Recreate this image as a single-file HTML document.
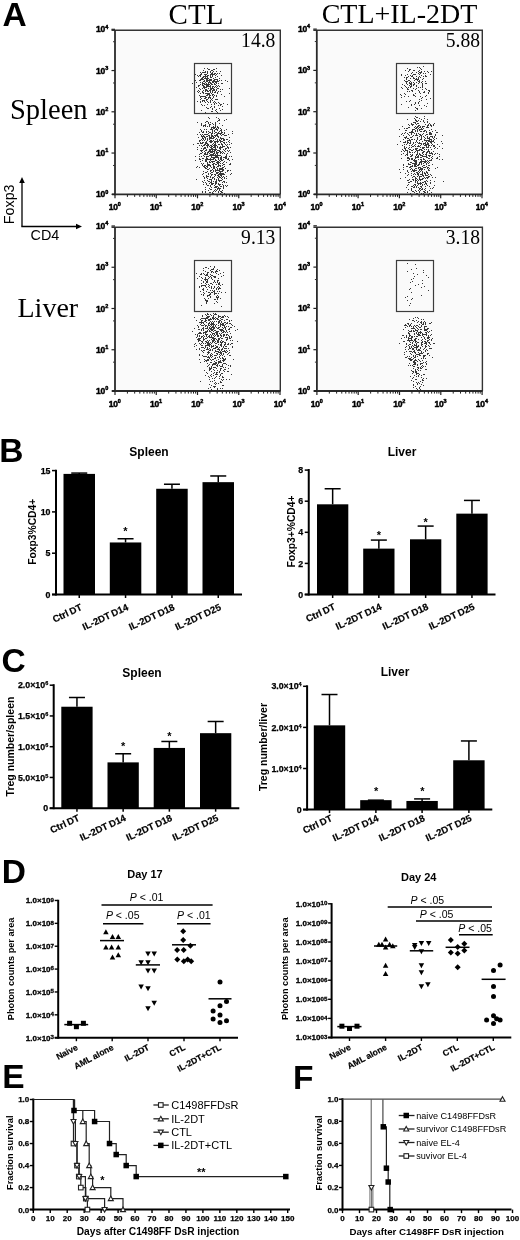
<!DOCTYPE html>
<html><head><meta charset="utf-8"><style>
html,body{margin:0;padding:0;background:#fff;}
body{width:520px;height:1240px;overflow:hidden;}
svg{display:block;will-change:transform;}
</style></head><body>
<svg width="520" height="1240" viewBox="0 0 520 1240">
<rect width="520" height="1240" fill="#fff"/>
<text x="2.60" y="26.00" font-family="Liberation Sans" font-size="33.5" font-weight="bold" text-anchor="start" fill="#000" >A</text>
<text x="196.00" y="24.30" font-family="Liberation Serif" font-size="29" text-anchor="middle" fill="#000" >CTL</text>
<text x="399.50" y="23.40" font-family="Liberation Serif" font-size="28" text-anchor="middle" fill="#000" >CTL+IL-2DT</text>
<text x="10.00" y="119.00" font-family="Liberation Serif" font-size="28.5" text-anchor="start" fill="#000" >Spleen</text>
<text x="17.50" y="317.30" font-family="Liberation Serif" font-size="28" text-anchor="start" fill="#000" >Liver</text>
<line x1="22.00" y1="181.00" x2="22.00" y2="226.50" stroke="#000" stroke-width="1.3" />
<line x1="21.35" y1="226.50" x2="78.00" y2="226.50" stroke="#000" stroke-width="1.3" />
<path d="M22 177 L19.2 183 L24.8 183 Z" fill="#000"/>
<path d="M82 226.5 L76 223.7 L76 229.3 Z" fill="#000"/>
<text x="14.00" y="204.30" font-family="Liberation Sans" font-size="14.3" text-anchor="middle" fill="#000" transform="rotate(-90 14 204.3)">Foxp3</text>
<text x="30.50" y="239.50" font-family="Liberation Sans" font-size="14.4" text-anchor="start" fill="#000" >CD4</text>
<rect x="115.00" y="30.00" width="165.00" height="164.30" fill="#fafafa" />
<path d="M111.5 30.2 H280.3 V194.3" fill="none" stroke="#333" stroke-width="1.4"/>
<path d="M214 69h1v1h-1zM209 69h1v1h-1zM212 70h1v1h-1zM203 70h1v1h-1zM211 70h1v1h-1zM210 71h1v1h-1zM213 71h1v1h-1zM220 71h1v1h-1zM205 71h1v1h-1zM216 71h1v1h-1zM204 72h1v1h-1zM205 72h1v1h-1zM207 72h1v1h-1zM205 72h1v1h-1zM203 72h1v1h-1zM202 72h1v1h-1zM212 72h1v1h-1zM217 73h1v1h-1zM217 73h1v1h-1zM215 73h1v1h-1zM215 73h1v1h-1zM214 73h1v1h-1zM211 73h1v1h-1zM219 73h1v1h-1zM212 73h1v1h-1zM201 73h1v1h-1zM213 74h1v1h-1zM211 74h1v1h-1zM212 74h1v1h-1zM206 74h1v1h-1zM210 74h1v1h-1zM204 74h1v1h-1zM210 74h1v1h-1zM213 74h1v1h-1zM216 74h1v1h-1zM201 74h1v1h-1zM214 74h1v1h-1zM215 75h1v1h-1zM197 75h1v1h-1zM210 75h1v1h-1zM208 75h1v1h-1zM221 75h1v1h-1zM200 75h1v1h-1zM212 75h1v1h-1zM215 75h1v1h-1zM207 75h1v1h-1zM212 75h1v1h-1zM212 75h1v1h-1zM206 76h1v1h-1zM206 76h1v1h-1zM207 76h1v1h-1zM205 76h1v1h-1zM200 76h1v1h-1zM212 76h1v1h-1zM217 76h1v1h-1zM210 76h1v1h-1zM206 76h1v1h-1zM198 76h1v1h-1zM204 76h1v1h-1zM202 77h1v1h-1zM211 77h1v1h-1zM203 77h1v1h-1zM210 77h1v1h-1zM215 77h1v1h-1zM207 77h1v1h-1zM202 77h1v1h-1zM205 77h1v1h-1zM202 77h1v1h-1zM215 77h1v1h-1zM211 77h1v1h-1zM201 78h1v1h-1zM213 78h1v1h-1zM201 78h1v1h-1zM206 78h1v1h-1zM208 78h1v1h-1zM208 78h1v1h-1zM202 78h1v1h-1zM208 78h1v1h-1zM205 78h1v1h-1zM204 78h1v1h-1zM219 78h1v1h-1zM203 79h1v1h-1zM217 79h1v1h-1zM201 79h1v1h-1zM200 79h1v1h-1zM214 79h1v1h-1zM216 79h1v1h-1zM215 79h1v1h-1zM217 79h1v1h-1zM203 79h1v1h-1zM207 79h1v1h-1zM211 79h1v1h-1zM200 80h1v1h-1zM207 80h1v1h-1zM209 80h1v1h-1zM195 80h1v1h-1zM199 80h1v1h-1zM221 80h1v1h-1zM206 80h1v1h-1zM219 80h1v1h-1zM214 80h1v1h-1zM217 80h1v1h-1zM210 80h1v1h-1zM213 80h1v1h-1zM204 81h1v1h-1zM212 81h1v1h-1zM212 81h1v1h-1zM203 81h1v1h-1zM207 81h1v1h-1zM214 81h1v1h-1zM218 81h1v1h-1zM203 81h1v1h-1zM204 81h1v1h-1zM216 81h1v1h-1zM213 81h1v1h-1zM217 81h1v1h-1zM210 82h1v1h-1zM205 82h1v1h-1zM210 82h1v1h-1zM205 82h1v1h-1zM205 82h1v1h-1zM194 82h1v1h-1zM213 82h1v1h-1zM216 82h1v1h-1zM200 82h1v1h-1zM215 82h1v1h-1zM202 82h1v1h-1zM215 82h1v1h-1zM211 83h1v1h-1zM221 83h1v1h-1zM204 83h1v1h-1zM204 83h1v1h-1zM211 83h1v1h-1zM218 83h1v1h-1zM202 83h1v1h-1zM203 83h1v1h-1zM206 83h1v1h-1zM214 83h1v1h-1zM202 83h1v1h-1zM221 83h1v1h-1zM211 84h1v1h-1zM207 84h1v1h-1zM204 84h1v1h-1zM205 84h1v1h-1zM214 84h1v1h-1zM212 84h1v1h-1zM215 84h1v1h-1zM206 84h1v1h-1zM208 84h1v1h-1zM200 84h1v1h-1zM202 84h1v1h-1zM209 84h1v1h-1zM199 85h1v1h-1zM210 85h1v1h-1zM203 85h1v1h-1zM206 85h1v1h-1zM208 85h1v1h-1zM202 85h1v1h-1zM208 85h1v1h-1zM216 85h1v1h-1zM203 85h1v1h-1zM207 85h1v1h-1zM207 85h1v1h-1zM218 85h1v1h-1zM219 86h1v1h-1zM204 86h1v1h-1zM208 86h1v1h-1zM213 86h1v1h-1zM215 86h1v1h-1zM198 86h1v1h-1zM209 86h1v1h-1zM215 86h1v1h-1zM210 86h1v1h-1zM217 86h1v1h-1zM204 86h1v1h-1zM206 86h1v1h-1zM205 87h1v1h-1zM212 87h1v1h-1zM206 87h1v1h-1zM205 87h1v1h-1zM203 87h1v1h-1zM216 87h1v1h-1zM203 87h1v1h-1zM205 87h1v1h-1zM196 87h1v1h-1zM210 87h1v1h-1zM205 87h1v1h-1zM204 88h1v1h-1zM208 88h1v1h-1zM212 88h1v1h-1zM218 88h1v1h-1zM210 88h1v1h-1zM202 88h1v1h-1zM217 88h1v1h-1zM202 88h1v1h-1zM199 88h1v1h-1zM213 88h1v1h-1zM210 88h1v1h-1zM214 89h1v1h-1zM213 89h1v1h-1zM211 89h1v1h-1zM205 89h1v1h-1zM210 89h1v1h-1zM211 89h1v1h-1zM211 89h1v1h-1zM205 89h1v1h-1zM220 89h1v1h-1zM216 89h1v1h-1zM210 90h1v1h-1zM198 90h1v1h-1zM216 90h1v1h-1zM209 90h1v1h-1zM214 90h1v1h-1zM203 90h1v1h-1zM213 90h1v1h-1zM206 90h1v1h-1zM207 90h1v1h-1zM198 90h1v1h-1zM208 91h1v1h-1zM205 91h1v1h-1zM215 91h1v1h-1zM207 91h1v1h-1zM197 91h1v1h-1zM212 91h1v1h-1zM202 91h1v1h-1zM207 91h1v1h-1zM210 91h1v1h-1zM218 91h1v1h-1zM215 92h1v1h-1zM215 92h1v1h-1zM212 92h1v1h-1zM203 92h1v1h-1zM202 92h1v1h-1zM212 92h1v1h-1zM214 92h1v1h-1zM217 92h1v1h-1zM198 92h1v1h-1zM209 93h1v1h-1zM206 93h1v1h-1zM208 93h1v1h-1zM207 93h1v1h-1zM217 93h1v1h-1zM209 93h1v1h-1zM207 93h1v1h-1zM205 93h1v1h-1zM211 93h1v1h-1zM207 94h1v1h-1zM208 94h1v1h-1zM212 94h1v1h-1zM221 94h1v1h-1zM207 94h1v1h-1zM213 94h1v1h-1zM209 94h1v1h-1zM208 94h1v1h-1zM212 95h1v1h-1zM214 95h1v1h-1zM209 95h1v1h-1zM212 95h1v1h-1zM210 95h1v1h-1zM210 95h1v1h-1zM216 95h1v1h-1zM214 95h1v1h-1zM213 96h1v1h-1zM203 96h1v1h-1zM216 96h1v1h-1zM200 96h1v1h-1zM213 96h1v1h-1zM201 96h1v1h-1zM209 96h1v1h-1zM204 96h1v1h-1zM194 97h1v1h-1zM213 97h1v1h-1zM206 97h1v1h-1zM200 97h1v1h-1zM205 97h1v1h-1zM200 97h1v1h-1zM213 97h1v1h-1zM209 97h1v1h-1zM201 98h1v1h-1zM212 98h1v1h-1zM204 98h1v1h-1zM210 98h1v1h-1zM205 98h1v1h-1zM201 98h1v1h-1zM208 98h1v1h-1zM200 99h1v1h-1zM216 99h1v1h-1zM207 99h1v1h-1zM215 99h1v1h-1zM211 99h1v1h-1zM206 99h1v1h-1zM217 99h1v1h-1zM212 100h1v1h-1zM206 100h1v1h-1zM203 100h1v1h-1zM212 100h1v1h-1zM204 100h1v1h-1zM202 100h1v1h-1zM207 101h1v1h-1zM204 101h1v1h-1zM197 101h1v1h-1zM202 101h1v1h-1zM200 101h1v1h-1zM214 101h1v1h-1zM210 101h1v1h-1zM218 102h1v1h-1zM200 102h1v1h-1zM210 102h1v1h-1zM205 102h1v1h-1zM215 102h1v1h-1zM213 102h1v1h-1zM216 103h1v1h-1zM219 103h1v1h-1zM216 103h1v1h-1zM216 103h1v1h-1zM214 103h1v1h-1zM214 103h1v1h-1zM207 104h1v1h-1zM220 104h1v1h-1zM214 104h1v1h-1zM201 104h1v1h-1zM211 104h1v1h-1zM220 105h1v1h-1zM218 105h1v1h-1zM202 105h1v1h-1zM204 105h1v1h-1zM214 106h1v1h-1zM214 106h1v1h-1zM211 106h1v1h-1zM222 106h1v1h-1zM214 106h1v1h-1zM214 107h1v1h-1zM206 107h1v1h-1zM210 107h1v1h-1zM207 108h1v1h-1zM219 108h1v1h-1zM208 108h1v1h-1zM212 108h1v1h-1zM216 109h1v1h-1zM212 109h1v1h-1zM222 109h1v1h-1zM201 110h1v1h-1zM215 110h1v1h-1zM220 110h1v1h-1zM211 111h1v1h-1zM211 111h1v1h-1zM216 111h1v1h-1zM205 112h1v1h-1zM217 112h1v1h-1zM210 100h1v1h-1zM207 72h1v1h-1zM223 103h1v1h-1zM225 80h1v1h-1zM211 77h1v1h-1zM215 81h1v1h-1zM208 102h1v1h-1zM229 93h1v1h-1zM200 96h1v1h-1zM212 111h1v1h-1zM221 104h1v1h-1zM220 91h1v1h-1zM227 104h1v1h-1zM207 73h1v1h-1zM209 90h1v1h-1zM200 82h1v1h-1zM216 68h1v1h-1zM224 96h1v1h-1zM207 80h1v1h-1zM209 81h1v1h-1zM222 89h1v1h-1zM214 73h1v1h-1zM227 81h1v1h-1zM208 69h1v1h-1zM229 88h1v1h-1zM208 97h1v1h-1zM202 96h1v1h-1zM205 97h1v1h-1zM202 84h1v1h-1zM205 74h1v1h-1zM206 95h1v1h-1zM207 80h1v1h-1zM200 72h1v1h-1zM215 79h1v1h-1zM210 79h1v1h-1zM206 89h1v1h-1zM213 69h1v1h-1zM203 86h1v1h-1zM211 83h1v1h-1zM206 90h1v1h-1zM210 83h1v1h-1zM209 82h1v1h-1zM213 80h1v1h-1zM207 95h1v1h-1zM211 80h1v1h-1zM205 84h1v1h-1zM206 74h1v1h-1zM213 82h1v1h-1zM203 90h1v1h-1zM203 93h1v1h-1zM200 74h1v1h-1zM204 86h1v1h-1zM200 93h1v1h-1zM192 83h1v1h-1zM210 83h1v1h-1zM199 75h1v1h-1zM207 71h1v1h-1zM212 86h1v1h-1zM201 96h1v1h-1zM209 79h1v1h-1zM208 80h1v1h-1zM214 87h1v1h-1zM207 78h1v1h-1zM216 83h1v1h-1zM195 74h1v1h-1zM205 75h1v1h-1zM205 71h1v1h-1zM205 90h1v1h-1zM206 79h1v1h-1zM204 80h1v1h-1zM212 75h1v1h-1zM204 87h1v1h-1zM207 68h1v1h-1zM196 82h1v1h-1zM201 78h1v1h-1zM210 97h1v1h-1zM203 76h1v1h-1zM199 95h1v1h-1zM203 77h1v1h-1zM210 85h1v1h-1zM203 83h1v1h-1zM202 79h1v1h-1zM211 88h1v1h-1zM210 82h1v1h-1zM207 86h1v1h-1zM210 89h1v1h-1zM202 77h1v1h-1zM222 83h1v1h-1zM212 82h1v1h-1zM200 72h1v1h-1zM210 72h1v1h-1zM208 82h1v1h-1zM205 96h1v1h-1zM216 83h1v1h-1zM208 83h1v1h-1zM212 90h1v1h-1zM206 81h1v1h-1zM199 91h1v1h-1zM210 92h1v1h-1zM207 77h1v1h-1zM206 100h1v1h-1zM203 90h1v1h-1zM210 74h1v1h-1zM210 87h1v1h-1zM209 82h1v1h-1zM212 87h1v1h-1zM198 85h1v1h-1zM200 89h1v1h-1zM209 80h1v1h-1zM204 68h1v1h-1zM207 93h1v1h-1zM213 88h1v1h-1zM210 87h1v1h-1zM205 76h1v1h-1zM206 100h1v1h-1zM208 117h1v1h-1zM216 117h1v1h-1zM209 118h1v1h-1zM218 118h1v1h-1zM219 119h1v1h-1zM219 119h1v1h-1zM219 120h1v1h-1zM218 120h1v1h-1zM218 120h1v1h-1zM207 121h1v1h-1zM217 121h1v1h-1zM217 121h1v1h-1zM206 121h1v1h-1zM208 122h1v1h-1zM205 122h1v1h-1zM208 122h1v1h-1zM215 122h1v1h-1zM210 122h1v1h-1zM201 123h1v1h-1zM208 123h1v1h-1zM215 123h1v1h-1zM219 123h1v1h-1zM212 123h1v1h-1zM205 124h1v1h-1zM215 124h1v1h-1zM213 124h1v1h-1zM205 124h1v1h-1zM201 124h1v1h-1zM209 124h1v1h-1zM205 124h1v1h-1zM204 125h1v1h-1zM203 125h1v1h-1zM201 125h1v1h-1zM215 125h1v1h-1zM209 125h1v1h-1zM205 125h1v1h-1zM222 125h1v1h-1zM203 126h1v1h-1zM207 126h1v1h-1zM209 126h1v1h-1zM205 126h1v1h-1zM215 126h1v1h-1zM205 126h1v1h-1zM217 126h1v1h-1zM213 126h1v1h-1zM211 127h1v1h-1zM217 127h1v1h-1zM218 127h1v1h-1zM215 127h1v1h-1zM212 127h1v1h-1zM213 127h1v1h-1zM214 127h1v1h-1zM211 127h1v1h-1zM214 128h1v1h-1zM213 128h1v1h-1zM214 128h1v1h-1zM216 128h1v1h-1zM211 128h1v1h-1zM211 128h1v1h-1zM213 128h1v1h-1zM220 128h1v1h-1zM218 128h1v1h-1zM217 129h1v1h-1zM206 129h1v1h-1zM221 129h1v1h-1zM210 129h1v1h-1zM204 129h1v1h-1zM226 129h1v1h-1zM216 129h1v1h-1zM215 129h1v1h-1zM211 129h1v1h-1zM220 130h1v1h-1zM224 130h1v1h-1zM221 130h1v1h-1zM212 130h1v1h-1zM217 130h1v1h-1zM217 130h1v1h-1zM214 130h1v1h-1zM214 130h1v1h-1zM201 130h1v1h-1zM201 131h1v1h-1zM203 131h1v1h-1zM214 131h1v1h-1zM208 131h1v1h-1zM232 131h1v1h-1zM219 131h1v1h-1zM201 131h1v1h-1zM221 131h1v1h-1zM214 131h1v1h-1zM206 131h1v1h-1zM215 132h1v1h-1zM203 132h1v1h-1zM210 132h1v1h-1zM199 132h1v1h-1zM209 132h1v1h-1zM216 132h1v1h-1zM218 132h1v1h-1zM218 132h1v1h-1zM224 132h1v1h-1zM202 132h1v1h-1zM206 132h1v1h-1zM232 133h1v1h-1zM211 133h1v1h-1zM224 133h1v1h-1zM208 133h1v1h-1zM214 133h1v1h-1zM219 133h1v1h-1zM208 133h1v1h-1zM221 133h1v1h-1zM220 133h1v1h-1zM218 133h1v1h-1zM221 133h1v1h-1zM207 134h1v1h-1zM204 134h1v1h-1zM205 134h1v1h-1zM217 134h1v1h-1zM202 134h1v1h-1zM211 134h1v1h-1zM223 134h1v1h-1zM197 134h1v1h-1zM222 134h1v1h-1zM220 134h1v1h-1zM200 134h1v1h-1zM228 134h1v1h-1zM208 135h1v1h-1zM208 135h1v1h-1zM217 135h1v1h-1zM201 135h1v1h-1zM209 135h1v1h-1zM226 135h1v1h-1zM216 135h1v1h-1zM215 135h1v1h-1zM203 135h1v1h-1zM224 135h1v1h-1zM214 135h1v1h-1zM212 135h1v1h-1zM203 136h1v1h-1zM203 136h1v1h-1zM206 136h1v1h-1zM202 136h1v1h-1zM213 136h1v1h-1zM204 136h1v1h-1zM212 136h1v1h-1zM213 136h1v1h-1zM213 136h1v1h-1zM207 136h1v1h-1zM201 136h1v1h-1zM218 136h1v1h-1zM214 137h1v1h-1zM210 137h1v1h-1zM211 137h1v1h-1zM205 137h1v1h-1zM204 137h1v1h-1zM209 137h1v1h-1zM220 137h1v1h-1zM198 137h1v1h-1zM218 137h1v1h-1zM213 137h1v1h-1zM218 137h1v1h-1zM202 137h1v1h-1zM218 137h1v1h-1zM216 138h1v1h-1zM213 138h1v1h-1zM202 138h1v1h-1zM211 138h1v1h-1zM221 138h1v1h-1zM222 138h1v1h-1zM205 138h1v1h-1zM211 138h1v1h-1zM203 138h1v1h-1zM210 138h1v1h-1zM209 138h1v1h-1zM212 138h1v1h-1zM220 138h1v1h-1zM223 138h1v1h-1zM226 139h1v1h-1zM201 139h1v1h-1zM221 139h1v1h-1zM203 139h1v1h-1zM219 139h1v1h-1zM224 139h1v1h-1zM215 139h1v1h-1zM209 139h1v1h-1zM219 139h1v1h-1zM203 139h1v1h-1zM205 139h1v1h-1zM209 139h1v1h-1zM215 139h1v1h-1zM223 139h1v1h-1zM217 139h1v1h-1zM220 140h1v1h-1zM211 140h1v1h-1zM224 140h1v1h-1zM199 140h1v1h-1zM199 140h1v1h-1zM207 140h1v1h-1zM220 140h1v1h-1zM229 140h1v1h-1zM204 140h1v1h-1zM202 140h1v1h-1zM219 140h1v1h-1zM200 140h1v1h-1zM204 140h1v1h-1zM217 140h1v1h-1zM213 140h1v1h-1zM217 141h1v1h-1zM206 141h1v1h-1zM206 141h1v1h-1zM199 141h1v1h-1zM220 141h1v1h-1zM210 141h1v1h-1zM228 141h1v1h-1zM210 141h1v1h-1zM214 141h1v1h-1zM222 141h1v1h-1zM218 141h1v1h-1zM209 141h1v1h-1zM215 141h1v1h-1zM217 141h1v1h-1zM221 141h1v1h-1zM228 141h1v1h-1zM217 142h1v1h-1zM215 142h1v1h-1zM202 142h1v1h-1zM224 142h1v1h-1zM205 142h1v1h-1zM220 142h1v1h-1zM210 142h1v1h-1zM223 142h1v1h-1zM205 142h1v1h-1zM200 142h1v1h-1zM203 142h1v1h-1zM226 142h1v1h-1zM206 142h1v1h-1zM215 142h1v1h-1zM229 142h1v1h-1zM200 143h1v1h-1zM197 143h1v1h-1zM202 143h1v1h-1zM221 143h1v1h-1zM215 143h1v1h-1zM206 143h1v1h-1zM215 143h1v1h-1zM201 143h1v1h-1zM213 143h1v1h-1zM205 143h1v1h-1zM224 143h1v1h-1zM215 143h1v1h-1zM215 143h1v1h-1zM198 143h1v1h-1zM231 143h1v1h-1zM208 144h1v1h-1zM205 144h1v1h-1zM208 144h1v1h-1zM193 144h1v1h-1zM212 144h1v1h-1zM205 144h1v1h-1zM227 144h1v1h-1zM205 144h1v1h-1zM218 144h1v1h-1zM207 144h1v1h-1zM204 144h1v1h-1zM225 144h1v1h-1zM221 144h1v1h-1zM208 144h1v1h-1zM229 144h1v1h-1zM201 145h1v1h-1zM226 145h1v1h-1zM204 145h1v1h-1zM215 145h1v1h-1zM216 145h1v1h-1zM206 145h1v1h-1zM208 145h1v1h-1zM203 145h1v1h-1zM222 145h1v1h-1zM210 145h1v1h-1zM201 145h1v1h-1zM199 145h1v1h-1zM222 145h1v1h-1zM211 145h1v1h-1zM199 145h1v1h-1zM222 146h1v1h-1zM214 146h1v1h-1zM211 146h1v1h-1zM211 146h1v1h-1zM212 146h1v1h-1zM209 146h1v1h-1zM215 146h1v1h-1zM209 146h1v1h-1zM217 146h1v1h-1zM202 146h1v1h-1zM207 146h1v1h-1zM211 146h1v1h-1zM224 146h1v1h-1zM223 146h1v1h-1zM223 146h1v1h-1zM207 147h1v1h-1zM213 147h1v1h-1zM205 147h1v1h-1zM220 147h1v1h-1zM197 147h1v1h-1zM204 147h1v1h-1zM220 147h1v1h-1zM207 147h1v1h-1zM227 147h1v1h-1zM221 147h1v1h-1zM230 147h1v1h-1zM217 147h1v1h-1zM228 147h1v1h-1zM205 147h1v1h-1zM211 147h1v1h-1zM204 148h1v1h-1zM215 148h1v1h-1zM225 148h1v1h-1zM226 148h1v1h-1zM212 148h1v1h-1zM203 148h1v1h-1zM211 148h1v1h-1zM228 148h1v1h-1zM220 148h1v1h-1zM219 148h1v1h-1zM203 148h1v1h-1zM201 148h1v1h-1zM203 148h1v1h-1zM211 148h1v1h-1zM205 148h1v1h-1zM212 149h1v1h-1zM211 149h1v1h-1zM203 149h1v1h-1zM206 149h1v1h-1zM220 149h1v1h-1zM223 149h1v1h-1zM210 149h1v1h-1zM210 149h1v1h-1zM216 149h1v1h-1zM213 149h1v1h-1zM197 149h1v1h-1zM206 149h1v1h-1zM225 149h1v1h-1zM206 149h1v1h-1zM209 149h1v1h-1zM201 150h1v1h-1zM210 150h1v1h-1zM215 150h1v1h-1zM209 150h1v1h-1zM224 150h1v1h-1zM217 150h1v1h-1zM209 150h1v1h-1zM206 150h1v1h-1zM217 150h1v1h-1zM202 150h1v1h-1zM229 150h1v1h-1zM227 150h1v1h-1zM205 150h1v1h-1zM200 150h1v1h-1zM205 150h1v1h-1zM225 151h1v1h-1zM220 151h1v1h-1zM222 151h1v1h-1zM210 151h1v1h-1zM204 151h1v1h-1zM208 151h1v1h-1zM211 151h1v1h-1zM201 151h1v1h-1zM212 151h1v1h-1zM216 151h1v1h-1zM213 151h1v1h-1zM220 151h1v1h-1zM209 151h1v1h-1zM228 151h1v1h-1zM211 151h1v1h-1zM205 152h1v1h-1zM207 152h1v1h-1zM230 152h1v1h-1zM208 152h1v1h-1zM210 152h1v1h-1zM216 152h1v1h-1zM202 152h1v1h-1zM217 152h1v1h-1zM223 152h1v1h-1zM210 152h1v1h-1zM218 152h1v1h-1zM218 152h1v1h-1zM205 152h1v1h-1zM221 152h1v1h-1zM205 152h1v1h-1zM227 153h1v1h-1zM222 153h1v1h-1zM204 153h1v1h-1zM220 153h1v1h-1zM205 153h1v1h-1zM214 153h1v1h-1zM222 153h1v1h-1zM224 153h1v1h-1zM213 153h1v1h-1zM216 153h1v1h-1zM207 153h1v1h-1zM201 153h1v1h-1zM200 153h1v1h-1zM209 153h1v1h-1zM207 154h1v1h-1zM207 154h1v1h-1zM199 154h1v1h-1zM205 154h1v1h-1zM226 154h1v1h-1zM205 154h1v1h-1zM217 154h1v1h-1zM217 154h1v1h-1zM213 154h1v1h-1zM215 154h1v1h-1zM210 154h1v1h-1zM212 154h1v1h-1zM206 154h1v1h-1zM206 154h1v1h-1zM204 154h1v1h-1zM213 155h1v1h-1zM218 155h1v1h-1zM219 155h1v1h-1zM216 155h1v1h-1zM203 155h1v1h-1zM226 155h1v1h-1zM219 155h1v1h-1zM209 155h1v1h-1zM214 155h1v1h-1zM211 155h1v1h-1zM216 155h1v1h-1zM210 155h1v1h-1zM209 155h1v1h-1zM212 155h1v1h-1zM220 155h1v1h-1zM201 156h1v1h-1zM199 156h1v1h-1zM195 156h1v1h-1zM204 156h1v1h-1zM225 156h1v1h-1zM206 156h1v1h-1zM229 156h1v1h-1zM208 156h1v1h-1zM211 156h1v1h-1zM226 156h1v1h-1zM221 156h1v1h-1zM211 156h1v1h-1zM216 156h1v1h-1zM207 156h1v1h-1zM217 156h1v1h-1zM220 157h1v1h-1zM225 157h1v1h-1zM226 157h1v1h-1zM213 157h1v1h-1zM224 157h1v1h-1zM217 157h1v1h-1zM224 157h1v1h-1zM212 157h1v1h-1zM218 157h1v1h-1zM216 157h1v1h-1zM223 157h1v1h-1zM206 157h1v1h-1zM221 157h1v1h-1zM215 157h1v1h-1zM214 158h1v1h-1zM213 158h1v1h-1zM199 158h1v1h-1zM228 158h1v1h-1zM218 158h1v1h-1zM213 158h1v1h-1zM202 158h1v1h-1zM210 158h1v1h-1zM207 158h1v1h-1zM226 158h1v1h-1zM203 158h1v1h-1zM220 158h1v1h-1zM210 158h1v1h-1zM206 158h1v1h-1zM208 159h1v1h-1zM207 159h1v1h-1zM221 159h1v1h-1zM220 159h1v1h-1zM209 159h1v1h-1zM227 159h1v1h-1zM200 159h1v1h-1zM223 159h1v1h-1zM211 159h1v1h-1zM215 159h1v1h-1zM228 159h1v1h-1zM205 159h1v1h-1zM209 159h1v1h-1zM213 159h1v1h-1zM205 160h1v1h-1zM222 160h1v1h-1zM216 160h1v1h-1zM202 160h1v1h-1zM219 160h1v1h-1zM221 160h1v1h-1zM229 160h1v1h-1zM210 160h1v1h-1zM216 160h1v1h-1zM206 160h1v1h-1zM195 160h1v1h-1zM215 160h1v1h-1zM216 160h1v1h-1zM216 160h1v1h-1zM218 161h1v1h-1zM205 161h1v1h-1zM224 161h1v1h-1zM220 161h1v1h-1zM200 161h1v1h-1zM206 161h1v1h-1zM206 161h1v1h-1zM212 161h1v1h-1zM209 161h1v1h-1zM214 161h1v1h-1zM213 161h1v1h-1zM213 161h1v1h-1zM209 161h1v1h-1zM212 161h1v1h-1zM209 162h1v1h-1zM209 162h1v1h-1zM226 162h1v1h-1zM216 162h1v1h-1zM218 162h1v1h-1zM217 162h1v1h-1zM210 162h1v1h-1zM210 162h1v1h-1zM209 162h1v1h-1zM212 162h1v1h-1zM226 162h1v1h-1zM207 162h1v1h-1zM223 162h1v1h-1zM219 162h1v1h-1zM213 163h1v1h-1zM203 163h1v1h-1zM203 163h1v1h-1zM222 163h1v1h-1zM201 163h1v1h-1zM230 163h1v1h-1zM218 163h1v1h-1zM201 163h1v1h-1zM201 163h1v1h-1zM217 163h1v1h-1zM203 163h1v1h-1zM207 163h1v1h-1zM214 163h1v1h-1zM230 164h1v1h-1zM223 164h1v1h-1zM218 164h1v1h-1zM215 164h1v1h-1zM216 164h1v1h-1zM212 164h1v1h-1zM213 164h1v1h-1zM229 164h1v1h-1zM208 164h1v1h-1zM202 164h1v1h-1zM224 164h1v1h-1zM212 164h1v1h-1zM209 164h1v1h-1zM207 165h1v1h-1zM205 165h1v1h-1zM213 165h1v1h-1zM210 165h1v1h-1zM208 165h1v1h-1zM202 165h1v1h-1zM207 165h1v1h-1zM218 165h1v1h-1zM208 165h1v1h-1zM219 165h1v1h-1zM204 165h1v1h-1zM220 165h1v1h-1zM222 165h1v1h-1zM203 166h1v1h-1zM224 166h1v1h-1zM218 166h1v1h-1zM220 166h1v1h-1zM213 166h1v1h-1zM218 166h1v1h-1zM217 166h1v1h-1zM210 166h1v1h-1zM204 166h1v1h-1zM214 166h1v1h-1zM217 166h1v1h-1zM206 166h1v1h-1zM197 166h1v1h-1zM216 167h1v1h-1zM222 167h1v1h-1zM223 167h1v1h-1zM213 167h1v1h-1zM199 167h1v1h-1zM216 167h1v1h-1zM213 167h1v1h-1zM214 167h1v1h-1zM216 167h1v1h-1zM204 167h1v1h-1zM205 167h1v1h-1zM207 167h1v1h-1zM207 167h1v1h-1zM205 168h1v1h-1zM220 168h1v1h-1zM221 168h1v1h-1zM222 168h1v1h-1zM209 168h1v1h-1zM220 168h1v1h-1zM219 168h1v1h-1zM217 168h1v1h-1zM225 168h1v1h-1zM213 168h1v1h-1zM225 168h1v1h-1zM205 168h1v1h-1zM223 169h1v1h-1zM207 169h1v1h-1zM220 169h1v1h-1zM215 169h1v1h-1zM217 169h1v1h-1zM207 169h1v1h-1zM207 169h1v1h-1zM222 169h1v1h-1zM222 169h1v1h-1zM215 169h1v1h-1zM221 169h1v1h-1zM212 169h1v1h-1zM217 170h1v1h-1zM219 170h1v1h-1zM216 170h1v1h-1zM213 170h1v1h-1zM211 170h1v1h-1zM210 170h1v1h-1zM230 170h1v1h-1zM222 170h1v1h-1zM227 170h1v1h-1zM215 170h1v1h-1zM227 170h1v1h-1zM228 170h1v1h-1zM221 171h1v1h-1zM222 171h1v1h-1zM221 171h1v1h-1zM220 171h1v1h-1zM213 171h1v1h-1zM203 171h1v1h-1zM227 171h1v1h-1zM220 171h1v1h-1zM220 171h1v1h-1zM215 171h1v1h-1zM207 171h1v1h-1zM212 172h1v1h-1zM206 172h1v1h-1zM206 172h1v1h-1zM217 172h1v1h-1zM211 172h1v1h-1zM205 172h1v1h-1zM225 172h1v1h-1zM220 172h1v1h-1zM216 172h1v1h-1zM218 172h1v1h-1zM211 172h1v1h-1zM203 173h1v1h-1zM217 173h1v1h-1zM217 173h1v1h-1zM223 173h1v1h-1zM210 173h1v1h-1zM219 173h1v1h-1zM220 173h1v1h-1zM208 173h1v1h-1zM231 173h1v1h-1zM222 173h1v1h-1zM230 174h1v1h-1zM212 174h1v1h-1zM221 174h1v1h-1zM224 174h1v1h-1zM219 174h1v1h-1zM223 174h1v1h-1zM211 174h1v1h-1zM218 174h1v1h-1zM214 174h1v1h-1zM220 174h1v1h-1zM202 174h1v1h-1zM215 175h1v1h-1zM221 175h1v1h-1zM221 175h1v1h-1zM211 175h1v1h-1zM217 175h1v1h-1zM218 175h1v1h-1zM206 175h1v1h-1zM220 175h1v1h-1zM220 175h1v1h-1zM215 175h1v1h-1zM219 176h1v1h-1zM207 176h1v1h-1zM208 176h1v1h-1zM206 176h1v1h-1zM208 176h1v1h-1zM221 176h1v1h-1zM207 176h1v1h-1zM218 176h1v1h-1zM226 176h1v1h-1zM203 176h1v1h-1zM224 177h1v1h-1zM217 177h1v1h-1zM212 177h1v1h-1zM222 177h1v1h-1zM204 177h1v1h-1zM220 177h1v1h-1zM219 177h1v1h-1zM210 177h1v1h-1zM206 177h1v1h-1zM204 177h1v1h-1zM226 178h1v1h-1zM214 178h1v1h-1zM207 178h1v1h-1zM212 178h1v1h-1zM207 178h1v1h-1zM221 178h1v1h-1zM224 178h1v1h-1zM226 178h1v1h-1zM204 178h1v1h-1zM214 179h1v1h-1zM216 179h1v1h-1zM211 179h1v1h-1zM214 179h1v1h-1zM222 179h1v1h-1zM222 179h1v1h-1zM210 179h1v1h-1zM211 179h1v1h-1zM218 179h1v1h-1zM220 180h1v1h-1zM221 180h1v1h-1zM211 180h1v1h-1zM221 180h1v1h-1zM218 180h1v1h-1zM219 180h1v1h-1zM216 180h1v1h-1zM204 180h1v1h-1zM207 180h1v1h-1zM219 181h1v1h-1zM208 181h1v1h-1zM215 181h1v1h-1zM209 181h1v1h-1zM219 181h1v1h-1zM223 181h1v1h-1zM213 181h1v1h-1zM211 181h1v1h-1zM224 181h1v1h-1zM205 182h1v1h-1zM211 182h1v1h-1zM222 182h1v1h-1zM224 182h1v1h-1zM216 182h1v1h-1zM203 182h1v1h-1zM226 182h1v1h-1zM215 182h1v1h-1zM222 182h1v1h-1zM206 183h1v1h-1zM209 183h1v1h-1zM215 183h1v1h-1zM211 183h1v1h-1zM211 183h1v1h-1zM218 183h1v1h-1zM213 183h1v1h-1zM212 183h1v1h-1zM216 183h1v1h-1zM211 184h1v1h-1zM212 184h1v1h-1zM206 184h1v1h-1zM222 184h1v1h-1zM219 184h1v1h-1zM203 184h1v1h-1zM220 184h1v1h-1zM215 184h1v1h-1zM208 185h1v1h-1zM227 185h1v1h-1zM225 185h1v1h-1zM210 185h1v1h-1zM214 185h1v1h-1zM207 185h1v1h-1zM219 185h1v1h-1zM223 185h1v1h-1zM221 186h1v1h-1zM216 186h1v1h-1zM217 186h1v1h-1zM220 186h1v1h-1zM226 186h1v1h-1zM215 186h1v1h-1zM223 186h1v1h-1zM215 186h1v1h-1zM214 187h1v1h-1zM218 187h1v1h-1zM216 187h1v1h-1zM223 187h1v1h-1zM214 187h1v1h-1zM211 187h1v1h-1zM215 187h1v1h-1zM205 187h1v1h-1zM220 188h1v1h-1zM223 188h1v1h-1zM218 188h1v1h-1zM209 188h1v1h-1zM218 188h1v1h-1zM209 188h1v1h-1zM217 188h1v1h-1zM205 189h1v1h-1zM217 189h1v1h-1zM211 189h1v1h-1zM215 189h1v1h-1zM211 189h1v1h-1zM210 189h1v1h-1zM219 189h1v1h-1zM210 189h1v1h-1zM216 190h1v1h-1zM216 190h1v1h-1zM216 190h1v1h-1zM219 190h1v1h-1zM214 190h1v1h-1zM222 190h1v1h-1zM208 190h1v1h-1zM213 191h1v1h-1zM205 191h1v1h-1zM221 191h1v1h-1zM218 191h1v1h-1zM220 191h1v1h-1zM215 191h1v1h-1zM215 191h1v1h-1zM210 192h1v1h-1zM205 192h1v1h-1zM209 192h1v1h-1zM221 192h1v1h-1zM222 192h1v1h-1zM218 192h1v1h-1zM220 193h1v1h-1zM212 193h1v1h-1zM213 193h1v1h-1zM224 193h1v1h-1zM220 193h1v1h-1zM202 150h1v1h-1zM231 156h1v1h-1zM217 155h1v1h-1zM202 191h1v1h-1zM227 139h1v1h-1zM210 170h1v1h-1zM232 159h1v1h-1zM207 145h1v1h-1zM218 184h1v1h-1zM225 135h1v1h-1zM196 167h1v1h-1zM206 183h1v1h-1zM202 192h1v1h-1zM229 137h1v1h-1zM196 179h1v1h-1zM200 129h1v1h-1zM212 131h1v1h-1zM199 159h1v1h-1zM223 176h1v1h-1zM197 122h1v1h-1zM206 159h1v1h-1zM216 173h1v1h-1zM222 174h1v1h-1zM222 132h1v1h-1zM212 159h1v1h-1zM216 141h1v1h-1zM211 167h1v1h-1zM212 133h1v1h-1zM210 159h1v1h-1zM215 159h1v1h-1zM227 146h1v1h-1zM220 163h1v1h-1zM220 152h1v1h-1zM217 154h1v1h-1zM212 129h1v1h-1zM217 161h1v1h-1zM217 152h1v1h-1zM206 134h1v1h-1zM212 132h1v1h-1zM211 181h1v1h-1zM217 166h1v1h-1zM206 156h1v1h-1zM216 156h1v1h-1zM212 161h1v1h-1zM219 147h1v1h-1zM210 147h1v1h-1zM221 130h1v1h-1zM216 152h1v1h-1zM207 139h1v1h-1zM220 146h1v1h-1zM211 157h1v1h-1zM215 155h1v1h-1zM213 177h1v1h-1zM209 165h1v1h-1zM212 192h1v1h-1zM217 150h1v1h-1zM212 159h1v1h-1zM211 161h1v1h-1zM213 143h1v1h-1zM214 152h1v1h-1zM212 136h1v1h-1zM212 178h1v1h-1zM221 132h1v1h-1zM212 141h1v1h-1zM207 143h1v1h-1zM210 182h1v1h-1zM216 134h1v1h-1zM214 150h1v1h-1zM216 141h1v1h-1zM211 136h1v1h-1zM207 166h1v1h-1zM224 120h1v1h-1zM225 158h1v1h-1zM215 136h1v1h-1zM214 142h1v1h-1zM213 157h1v1h-1zM222 144h1v1h-1zM207 153h1v1h-1zM215 147h1v1h-1zM207 145h1v1h-1zM202 136h1v1h-1zM214 176h1v1h-1zM215 141h1v1h-1zM219 150h1v1h-1zM216 162h1v1h-1zM202 181h1v1h-1zM223 140h1v1h-1zM211 141h1v1h-1zM210 140h1v1h-1zM219 151h1v1h-1zM208 169h1v1h-1zM217 133h1v1h-1zM218 172h1v1h-1zM214 166h1v1h-1zM214 157h1v1h-1zM219 169h1v1h-1zM215 149h1v1h-1zM219 150h1v1h-1zM214 151h1v1h-1zM222 167h1v1h-1zM215 157h1v1h-1zM213 151h1v1h-1zM206 168h1v1h-1zM221 173h1v1h-1zM225 135h1v1h-1zM207 138h1v1h-1zM218 170h1v1h-1zM221 135h1v1h-1zM218 178h1v1h-1zM209 165h1v1h-1zM216 135h1v1h-1zM209 179h1v1h-1zM222 144h1v1h-1zM215 156h1v1h-1zM212 152h1v1h-1zM223 170h1v1h-1zM218 158h1v1h-1zM210 186h1v1h-1zM222 147h1v1h-1zM212 157h1v1h-1zM217 153h1v1h-1zM209 136h1v1h-1zM204 153h1v1h-1zM218 150h1v1h-1zM213 149h1v1h-1zM207 164h1v1h-1zM213 168h1v1h-1zM214 145h1v1h-1zM216 151h1v1h-1zM215 174h1v1h-1zM215 182h1v1h-1zM212 161h1v1h-1zM211 142h1v1h-1zM212 150h1v1h-1zM218 159h1v1h-1zM211 154h1v1h-1zM216 181h1v1h-1zM214 168h1v1h-1zM226 119h1v1h-1zM214 147h1v1h-1zM214 149h1v1h-1zM215 144h1v1h-1zM215 169h1v1h-1zM219 171h1v1h-1zM217 136h1v1h-1zM215 147h1v1h-1zM213 181h1v1h-1zM210 176h1v1h-1zM211 152h1v1h-1zM216 186h1v1h-1zM219 144h1v1h-1zM215 155h1v1h-1zM222 145h1v1h-1zM213 145h1v1h-1zM216 152h1v1h-1zM211 135h1v1h-1zM208 174h1v1h-1zM219 188h1v1h-1zM218 150h1v1h-1zM210 177h1v1h-1zM210 171h1v1h-1zM210 124h1v1h-1zM214 144h1v1h-1zM213 159h1v1h-1zM217 130h1v1h-1zM215 171h1v1h-1zM212 164h1v1h-1zM221 158h1v1h-1zM217 152h1v1h-1zM214 131h1v1h-1z" fill="#383838"/>
<rect x="194.5" y="63.5" width="37.0" height="50.0" fill="none" stroke="#3c3c3c" stroke-width="1.2"/>
<line x1="115.00" y1="30.00" x2="115.00" y2="195.30" stroke="#2a2a2a" stroke-width="1.8" />
<line x1="112.00" y1="194.30" x2="280.50" y2="194.30" stroke="#2a2a2a" stroke-width="1.8" />
<line x1="111.50" y1="194.30" x2="115.00" y2="194.30" stroke="#222" stroke-width="1.2" />
<line x1="115.00" y1="194.30" x2="115.00" y2="198.30" stroke="#222" stroke-width="1.2" />
<line x1="127.42" y1="194.30" x2="127.42" y2="196.90" stroke="#222" stroke-width="1.0" />
<line x1="134.68" y1="194.30" x2="134.68" y2="196.90" stroke="#222" stroke-width="1.0" />
<line x1="139.83" y1="194.30" x2="139.83" y2="196.90" stroke="#222" stroke-width="1.0" />
<line x1="113.00" y1="165.47" x2="115.00" y2="165.47" stroke="#333" stroke-width="1.0" />
<line x1="143.83" y1="194.30" x2="143.83" y2="196.90" stroke="#222" stroke-width="1.0" />
<line x1="147.10" y1="194.30" x2="147.10" y2="196.90" stroke="#222" stroke-width="1.0" />
<line x1="149.86" y1="194.30" x2="149.86" y2="196.90" stroke="#222" stroke-width="1.0" />
<line x1="152.25" y1="194.30" x2="152.25" y2="196.90" stroke="#222" stroke-width="1.0" />
<line x1="154.36" y1="194.30" x2="154.36" y2="196.90" stroke="#222" stroke-width="1.0" />
<line x1="111.50" y1="153.05" x2="115.00" y2="153.05" stroke="#222" stroke-width="1.2" />
<line x1="156.25" y1="194.30" x2="156.25" y2="198.30" stroke="#222" stroke-width="1.2" />
<line x1="168.67" y1="194.30" x2="168.67" y2="196.90" stroke="#222" stroke-width="1.0" />
<line x1="175.93" y1="194.30" x2="175.93" y2="196.90" stroke="#222" stroke-width="1.0" />
<line x1="181.08" y1="194.30" x2="181.08" y2="196.90" stroke="#222" stroke-width="1.0" />
<line x1="113.00" y1="124.22" x2="115.00" y2="124.22" stroke="#333" stroke-width="1.0" />
<line x1="185.08" y1="194.30" x2="185.08" y2="196.90" stroke="#222" stroke-width="1.0" />
<line x1="188.35" y1="194.30" x2="188.35" y2="196.90" stroke="#222" stroke-width="1.0" />
<line x1="191.11" y1="194.30" x2="191.11" y2="196.90" stroke="#222" stroke-width="1.0" />
<line x1="193.50" y1="194.30" x2="193.50" y2="196.90" stroke="#222" stroke-width="1.0" />
<line x1="195.61" y1="194.30" x2="195.61" y2="196.90" stroke="#222" stroke-width="1.0" />
<line x1="111.50" y1="111.80" x2="115.00" y2="111.80" stroke="#222" stroke-width="1.2" />
<line x1="197.50" y1="194.30" x2="197.50" y2="198.30" stroke="#222" stroke-width="1.2" />
<line x1="209.92" y1="194.30" x2="209.92" y2="196.90" stroke="#222" stroke-width="1.0" />
<line x1="217.18" y1="194.30" x2="217.18" y2="196.90" stroke="#222" stroke-width="1.0" />
<line x1="222.33" y1="194.30" x2="222.33" y2="196.90" stroke="#222" stroke-width="1.0" />
<line x1="113.00" y1="82.97" x2="115.00" y2="82.97" stroke="#333" stroke-width="1.0" />
<line x1="226.33" y1="194.30" x2="226.33" y2="196.90" stroke="#222" stroke-width="1.0" />
<line x1="229.60" y1="194.30" x2="229.60" y2="196.90" stroke="#222" stroke-width="1.0" />
<line x1="232.36" y1="194.30" x2="232.36" y2="196.90" stroke="#222" stroke-width="1.0" />
<line x1="234.75" y1="194.30" x2="234.75" y2="196.90" stroke="#222" stroke-width="1.0" />
<line x1="236.86" y1="194.30" x2="236.86" y2="196.90" stroke="#222" stroke-width="1.0" />
<line x1="111.50" y1="70.55" x2="115.00" y2="70.55" stroke="#222" stroke-width="1.2" />
<line x1="238.75" y1="194.30" x2="238.75" y2="198.30" stroke="#222" stroke-width="1.2" />
<line x1="251.17" y1="194.30" x2="251.17" y2="196.90" stroke="#222" stroke-width="1.0" />
<line x1="258.43" y1="194.30" x2="258.43" y2="196.90" stroke="#222" stroke-width="1.0" />
<line x1="263.58" y1="194.30" x2="263.58" y2="196.90" stroke="#222" stroke-width="1.0" />
<line x1="113.00" y1="41.72" x2="115.00" y2="41.72" stroke="#333" stroke-width="1.0" />
<line x1="267.58" y1="194.30" x2="267.58" y2="196.90" stroke="#222" stroke-width="1.0" />
<line x1="270.85" y1="194.30" x2="270.85" y2="196.90" stroke="#222" stroke-width="1.0" />
<line x1="273.61" y1="194.30" x2="273.61" y2="196.90" stroke="#222" stroke-width="1.0" />
<line x1="276.00" y1="194.30" x2="276.00" y2="196.90" stroke="#222" stroke-width="1.0" />
<line x1="278.11" y1="194.30" x2="278.11" y2="196.90" stroke="#222" stroke-width="1.0" />
<line x1="111.50" y1="29.30" x2="115.00" y2="29.30" stroke="#222" stroke-width="1.2" />
<line x1="280.00" y1="194.30" x2="280.00" y2="198.30" stroke="#222" stroke-width="1.2" />
<text x="108.00" y="197.30" font-family="Liberation Sans" font-size="8.5" font-weight="bold" text-anchor="end" fill="#000" letter-spacing="-0.2" stroke="#000" stroke-width="0.45">10<tspan font-size="5.5" dy="-3.8">0</tspan></text>
<text x="114.70" y="209.80" font-family="Liberation Sans" font-size="8.5" font-weight="bold" text-anchor="middle" fill="#000" letter-spacing="-0.2" stroke="#000" stroke-width="0.45">10<tspan font-size="5.5" dy="-3.8">0</tspan></text>
<text x="108.00" y="156.05" font-family="Liberation Sans" font-size="8.5" font-weight="bold" text-anchor="end" fill="#000" letter-spacing="-0.2" stroke="#000" stroke-width="0.45">10<tspan font-size="5.5" dy="-3.8">1</tspan></text>
<text x="155.95" y="209.80" font-family="Liberation Sans" font-size="8.5" font-weight="bold" text-anchor="middle" fill="#000" letter-spacing="-0.2" stroke="#000" stroke-width="0.45">10<tspan font-size="5.5" dy="-3.8">1</tspan></text>
<text x="108.00" y="114.80" font-family="Liberation Sans" font-size="8.5" font-weight="bold" text-anchor="end" fill="#000" letter-spacing="-0.2" stroke="#000" stroke-width="0.45">10<tspan font-size="5.5" dy="-3.8">2</tspan></text>
<text x="197.20" y="209.80" font-family="Liberation Sans" font-size="8.5" font-weight="bold" text-anchor="middle" fill="#000" letter-spacing="-0.2" stroke="#000" stroke-width="0.45">10<tspan font-size="5.5" dy="-3.8">2</tspan></text>
<text x="108.00" y="73.55" font-family="Liberation Sans" font-size="8.5" font-weight="bold" text-anchor="end" fill="#000" letter-spacing="-0.2" stroke="#000" stroke-width="0.45">10<tspan font-size="5.5" dy="-3.8">3</tspan></text>
<text x="238.45" y="209.80" font-family="Liberation Sans" font-size="8.5" font-weight="bold" text-anchor="middle" fill="#000" letter-spacing="-0.2" stroke="#000" stroke-width="0.45">10<tspan font-size="5.5" dy="-3.8">3</tspan></text>
<text x="108.00" y="32.30" font-family="Liberation Sans" font-size="8.5" font-weight="bold" text-anchor="end" fill="#000" letter-spacing="-0.2" stroke="#000" stroke-width="0.45">10<tspan font-size="5.5" dy="-3.8">4</tspan></text>
<text x="279.70" y="209.80" font-family="Liberation Sans" font-size="8.5" font-weight="bold" text-anchor="middle" fill="#000" letter-spacing="-0.2" stroke="#000" stroke-width="0.45">10<tspan font-size="5.5" dy="-3.8">4</tspan></text>
<text transform="translate(275.40 47.20) scale(1.0 1.07)" font-family="Liberation Serif" font-size="19.6" text-anchor="end">14.8</text>
<rect x="316.80" y="30.00" width="165.20" height="164.30" fill="#fafafa" />
<path d="M313.3 30.2 H482.3 V194.3" fill="none" stroke="#333" stroke-width="1.4"/>
<path d="M423 66h1v1h-1zM419 67h1v1h-1zM417 67h1v1h-1zM420 68h1v1h-1zM407 68h1v1h-1zM420 68h1v1h-1zM421 69h1v1h-1zM410 69h1v1h-1zM409 69h1v1h-1zM413 70h1v1h-1zM419 70h1v1h-1zM409 70h1v1h-1zM405 70h1v1h-1zM427 71h1v1h-1zM421 71h1v1h-1zM427 71h1v1h-1zM424 71h1v1h-1zM418 71h1v1h-1zM428 72h1v1h-1zM420 72h1v1h-1zM416 72h1v1h-1zM416 72h1v1h-1zM419 72h1v1h-1zM412 72h1v1h-1zM420 73h1v1h-1zM425 73h1v1h-1zM418 73h1v1h-1zM411 73h1v1h-1zM423 73h1v1h-1zM430 74h1v1h-1zM415 74h1v1h-1zM414 74h1v1h-1zM413 74h1v1h-1zM407 74h1v1h-1zM401 74h1v1h-1zM405 75h1v1h-1zM421 75h1v1h-1zM401 75h1v1h-1zM425 75h1v1h-1zM412 75h1v1h-1zM426 76h1v1h-1zM425 76h1v1h-1zM411 76h1v1h-1zM419 76h1v1h-1zM423 76h1v1h-1zM408 76h1v1h-1zM406 77h1v1h-1zM420 77h1v1h-1zM404 77h1v1h-1zM413 77h1v1h-1zM407 77h1v1h-1zM423 78h1v1h-1zM410 78h1v1h-1zM418 78h1v1h-1zM423 78h1v1h-1zM406 78h1v1h-1zM414 78h1v1h-1zM416 79h1v1h-1zM422 79h1v1h-1zM406 79h1v1h-1zM418 79h1v1h-1zM415 79h1v1h-1zM404 80h1v1h-1zM414 80h1v1h-1zM409 80h1v1h-1zM417 80h1v1h-1zM417 80h1v1h-1zM406 81h1v1h-1zM405 81h1v1h-1zM419 81h1v1h-1zM422 81h1v1h-1zM425 81h1v1h-1zM407 81h1v1h-1zM419 82h1v1h-1zM421 82h1v1h-1zM411 82h1v1h-1zM416 82h1v1h-1zM413 82h1v1h-1zM406 82h1v1h-1zM406 83h1v1h-1zM410 83h1v1h-1zM418 83h1v1h-1zM409 83h1v1h-1zM422 83h1v1h-1zM425 83h1v1h-1zM414 84h1v1h-1zM402 84h1v1h-1zM410 84h1v1h-1zM407 84h1v1h-1zM413 84h1v1h-1zM422 84h1v1h-1zM411 85h1v1h-1zM404 85h1v1h-1zM409 85h1v1h-1zM422 85h1v1h-1zM413 85h1v1h-1zM416 86h1v1h-1zM410 86h1v1h-1zM405 86h1v1h-1zM411 86h1v1h-1zM422 86h1v1h-1zM418 87h1v1h-1zM420 87h1v1h-1zM408 87h1v1h-1zM408 87h1v1h-1zM422 87h1v1h-1zM402 88h1v1h-1zM416 88h1v1h-1zM413 88h1v1h-1zM425 88h1v1h-1zM407 88h1v1h-1zM422 89h1v1h-1zM426 89h1v1h-1zM407 89h1v1h-1zM415 89h1v1h-1zM428 90h1v1h-1zM418 90h1v1h-1zM411 90h1v1h-1zM429 90h1v1h-1zM409 91h1v1h-1zM429 91h1v1h-1zM407 91h1v1h-1zM412 91h1v1h-1zM424 91h1v1h-1zM419 92h1v1h-1zM428 92h1v1h-1zM424 92h1v1h-1zM423 92h1v1h-1zM420 93h1v1h-1zM415 93h1v1h-1zM428 93h1v1h-1zM404 93h1v1h-1zM400 94h1v1h-1zM405 94h1v1h-1zM413 94h1v1h-1zM426 95h1v1h-1zM413 95h1v1h-1zM414 95h1v1h-1zM420 96h1v1h-1zM404 96h1v1h-1zM415 96h1v1h-1zM422 97h1v1h-1zM401 97h1v1h-1zM421 98h1v1h-1zM430 98h1v1h-1zM419 99h1v1h-1zM426 99h1v1h-1zM421 100h1v1h-1zM410 100h1v1h-1zM419 101h1v1h-1zM406 101h1v1h-1zM409 101h1v1h-1zM418 102h1v1h-1zM415 102h1v1h-1zM418 103h1v1h-1zM418 103h1v1h-1zM415 103h1v1h-1zM414 104h1v1h-1zM411 104h1v1h-1zM424 105h1v1h-1zM419 105h1v1h-1zM426 106h1v1h-1zM408 107h1v1h-1zM415 107h1v1h-1zM421 108h1v1h-1zM417 108h1v1h-1zM417 109h1v1h-1zM415 110h1v1h-1zM416 108h1v1h-1zM401 104h1v1h-1zM408 96h1v1h-1zM425 96h1v1h-1zM411 105h1v1h-1zM401 95h1v1h-1zM411 90h1v1h-1zM427 103h1v1h-1zM419 80h1v1h-1zM406 87h1v1h-1zM406 79h1v1h-1zM431 71h1v1h-1zM426 83h1v1h-1zM410 81h1v1h-1zM401 87h1v1h-1zM416 85h1v1h-1zM412 90h1v1h-1zM418 77h1v1h-1zM408 71h1v1h-1zM413 82h1v1h-1zM414 83h1v1h-1zM412 76h1v1h-1zM410 87h1v1h-1zM415 89h1v1h-1zM411 76h1v1h-1zM416 76h1v1h-1zM421 72h1v1h-1zM408 80h1v1h-1zM420 77h1v1h-1zM414 70h1v1h-1zM420 77h1v1h-1zM417 79h1v1h-1zM410 75h1v1h-1zM411 84h1v1h-1zM419 91h1v1h-1zM411 85h1v1h-1zM416 78h1v1h-1zM416 79h1v1h-1zM418 81h1v1h-1zM408 89h1v1h-1zM419 74h1v1h-1zM409 82h1v1h-1zM415 89h1v1h-1zM411 83h1v1h-1zM413 78h1v1h-1zM424 116h1v1h-1zM415 116h1v1h-1zM417 117h1v1h-1zM416 117h1v1h-1zM419 118h1v1h-1zM424 118h1v1h-1zM414 118h1v1h-1zM427 119h1v1h-1zM407 119h1v1h-1zM415 119h1v1h-1zM421 119h1v1h-1zM415 120h1v1h-1zM416 120h1v1h-1zM423 120h1v1h-1zM418 120h1v1h-1zM427 121h1v1h-1zM423 121h1v1h-1zM420 121h1v1h-1zM416 121h1v1h-1zM417 121h1v1h-1zM424 122h1v1h-1zM414 122h1v1h-1zM427 122h1v1h-1zM415 122h1v1h-1zM414 122h1v1h-1zM413 122h1v1h-1zM429 123h1v1h-1zM415 123h1v1h-1zM417 123h1v1h-1zM418 123h1v1h-1zM411 123h1v1h-1zM434 123h1v1h-1zM417 123h1v1h-1zM412 124h1v1h-1zM411 124h1v1h-1zM413 124h1v1h-1zM408 124h1v1h-1zM425 124h1v1h-1zM433 124h1v1h-1zM416 124h1v1h-1zM430 124h1v1h-1zM428 124h1v1h-1zM409 125h1v1h-1zM419 125h1v1h-1zM412 125h1v1h-1zM431 125h1v1h-1zM418 125h1v1h-1zM427 125h1v1h-1zM433 125h1v1h-1zM430 125h1v1h-1zM428 125h1v1h-1zM412 125h1v1h-1zM418 126h1v1h-1zM422 126h1v1h-1zM423 126h1v1h-1zM427 126h1v1h-1zM431 126h1v1h-1zM402 126h1v1h-1zM415 126h1v1h-1zM424 126h1v1h-1zM420 126h1v1h-1zM427 126h1v1h-1zM417 126h1v1h-1zM427 127h1v1h-1zM417 127h1v1h-1zM414 127h1v1h-1zM416 127h1v1h-1zM419 127h1v1h-1zM408 127h1v1h-1zM428 127h1v1h-1zM409 127h1v1h-1zM420 127h1v1h-1zM422 127h1v1h-1zM426 127h1v1h-1zM423 128h1v1h-1zM416 128h1v1h-1zM418 128h1v1h-1zM421 128h1v1h-1zM406 128h1v1h-1zM415 128h1v1h-1zM404 128h1v1h-1zM407 128h1v1h-1zM418 128h1v1h-1zM418 128h1v1h-1zM416 128h1v1h-1zM413 129h1v1h-1zM431 129h1v1h-1zM417 129h1v1h-1zM412 129h1v1h-1zM414 129h1v1h-1zM417 129h1v1h-1zM421 129h1v1h-1zM412 129h1v1h-1zM420 129h1v1h-1zM399 129h1v1h-1zM419 129h1v1h-1zM422 129h1v1h-1zM405 130h1v1h-1zM435 130h1v1h-1zM424 130h1v1h-1zM425 130h1v1h-1zM417 130h1v1h-1zM412 130h1v1h-1zM425 130h1v1h-1zM406 130h1v1h-1zM415 130h1v1h-1zM429 130h1v1h-1zM419 130h1v1h-1zM412 130h1v1h-1zM412 131h1v1h-1zM432 131h1v1h-1zM424 131h1v1h-1zM415 131h1v1h-1zM420 131h1v1h-1zM421 131h1v1h-1zM420 131h1v1h-1zM426 131h1v1h-1zM420 131h1v1h-1zM411 131h1v1h-1zM423 131h1v1h-1zM417 131h1v1h-1zM413 132h1v1h-1zM405 132h1v1h-1zM405 132h1v1h-1zM411 132h1v1h-1zM429 132h1v1h-1zM410 132h1v1h-1zM430 132h1v1h-1zM409 132h1v1h-1zM429 132h1v1h-1zM426 132h1v1h-1zM412 132h1v1h-1zM437 132h1v1h-1zM430 132h1v1h-1zM431 133h1v1h-1zM430 133h1v1h-1zM402 133h1v1h-1zM416 133h1v1h-1zM418 133h1v1h-1zM404 133h1v1h-1zM430 133h1v1h-1zM423 133h1v1h-1zM414 133h1v1h-1zM411 133h1v1h-1zM431 133h1v1h-1zM429 133h1v1h-1zM407 133h1v1h-1zM411 133h1v1h-1zM401 134h1v1h-1zM416 134h1v1h-1zM429 134h1v1h-1zM422 134h1v1h-1zM419 134h1v1h-1zM416 134h1v1h-1zM411 134h1v1h-1zM430 134h1v1h-1zM416 134h1v1h-1zM435 134h1v1h-1zM427 134h1v1h-1zM420 134h1v1h-1zM408 134h1v1h-1zM426 134h1v1h-1zM421 135h1v1h-1zM417 135h1v1h-1zM416 135h1v1h-1zM413 135h1v1h-1zM435 135h1v1h-1zM421 135h1v1h-1zM403 135h1v1h-1zM442 135h1v1h-1zM415 135h1v1h-1zM409 135h1v1h-1zM421 135h1v1h-1zM425 135h1v1h-1zM420 135h1v1h-1zM432 136h1v1h-1zM423 136h1v1h-1zM434 136h1v1h-1zM421 136h1v1h-1zM399 136h1v1h-1zM419 136h1v1h-1zM431 136h1v1h-1zM430 136h1v1h-1zM432 136h1v1h-1zM421 136h1v1h-1zM421 136h1v1h-1zM406 136h1v1h-1zM412 136h1v1h-1zM427 136h1v1h-1zM432 137h1v1h-1zM417 137h1v1h-1zM432 137h1v1h-1zM429 137h1v1h-1zM411 137h1v1h-1zM404 137h1v1h-1zM434 137h1v1h-1zM410 137h1v1h-1zM406 137h1v1h-1zM429 137h1v1h-1zM424 137h1v1h-1zM421 137h1v1h-1zM405 137h1v1h-1zM410 137h1v1h-1zM427 137h1v1h-1zM405 138h1v1h-1zM436 138h1v1h-1zM428 138h1v1h-1zM407 138h1v1h-1zM425 138h1v1h-1zM433 138h1v1h-1zM421 138h1v1h-1zM408 138h1v1h-1zM417 138h1v1h-1zM429 138h1v1h-1zM436 138h1v1h-1zM433 138h1v1h-1zM428 138h1v1h-1zM417 138h1v1h-1zM427 138h1v1h-1zM407 138h1v1h-1zM417 139h1v1h-1zM412 139h1v1h-1zM434 139h1v1h-1zM420 139h1v1h-1zM431 139h1v1h-1zM429 139h1v1h-1zM411 139h1v1h-1zM414 139h1v1h-1zM403 139h1v1h-1zM409 139h1v1h-1zM430 139h1v1h-1zM424 139h1v1h-1zM411 139h1v1h-1zM429 139h1v1h-1zM421 139h1v1h-1zM409 139h1v1h-1zM427 140h1v1h-1zM424 140h1v1h-1zM429 140h1v1h-1zM433 140h1v1h-1zM409 140h1v1h-1zM424 140h1v1h-1zM419 140h1v1h-1zM416 140h1v1h-1zM431 140h1v1h-1zM426 140h1v1h-1zM426 140h1v1h-1zM425 140h1v1h-1zM410 140h1v1h-1zM407 140h1v1h-1zM408 140h1v1h-1zM428 140h1v1h-1zM431 141h1v1h-1zM432 141h1v1h-1zM429 141h1v1h-1zM410 141h1v1h-1zM400 141h1v1h-1zM426 141h1v1h-1zM433 141h1v1h-1zM441 141h1v1h-1zM422 141h1v1h-1zM407 141h1v1h-1zM426 141h1v1h-1zM430 141h1v1h-1zM428 141h1v1h-1zM416 141h1v1h-1zM405 141h1v1h-1zM403 142h1v1h-1zM427 142h1v1h-1zM408 142h1v1h-1zM417 142h1v1h-1zM419 142h1v1h-1zM413 142h1v1h-1zM408 142h1v1h-1zM431 142h1v1h-1zM407 142h1v1h-1zM434 142h1v1h-1zM425 142h1v1h-1zM410 142h1v1h-1zM415 142h1v1h-1zM404 142h1v1h-1zM405 142h1v1h-1zM430 142h1v1h-1zM421 143h1v1h-1zM423 143h1v1h-1zM419 143h1v1h-1zM407 143h1v1h-1zM409 143h1v1h-1zM409 143h1v1h-1zM425 143h1v1h-1zM427 143h1v1h-1zM420 143h1v1h-1zM418 143h1v1h-1zM442 143h1v1h-1zM431 143h1v1h-1zM410 143h1v1h-1zM413 143h1v1h-1zM418 143h1v1h-1zM427 143h1v1h-1zM427 144h1v1h-1zM415 144h1v1h-1zM415 144h1v1h-1zM412 144h1v1h-1zM423 144h1v1h-1zM428 144h1v1h-1zM423 144h1v1h-1zM432 144h1v1h-1zM397 144h1v1h-1zM428 144h1v1h-1zM426 144h1v1h-1zM421 144h1v1h-1zM406 144h1v1h-1zM437 144h1v1h-1zM404 144h1v1h-1zM425 144h1v1h-1zM409 145h1v1h-1zM414 145h1v1h-1zM428 145h1v1h-1zM426 145h1v1h-1zM418 145h1v1h-1zM433 145h1v1h-1zM431 145h1v1h-1zM402 145h1v1h-1zM425 145h1v1h-1zM411 145h1v1h-1zM420 145h1v1h-1zM429 145h1v1h-1zM434 145h1v1h-1zM429 145h1v1h-1zM424 145h1v1h-1zM426 146h1v1h-1zM413 146h1v1h-1zM418 146h1v1h-1zM418 146h1v1h-1zM439 146h1v1h-1zM413 146h1v1h-1zM412 146h1v1h-1zM434 146h1v1h-1zM419 146h1v1h-1zM417 146h1v1h-1zM428 146h1v1h-1zM433 146h1v1h-1zM404 146h1v1h-1zM415 146h1v1h-1zM415 146h1v1h-1zM411 147h1v1h-1zM428 147h1v1h-1zM424 147h1v1h-1zM435 147h1v1h-1zM404 147h1v1h-1zM422 147h1v1h-1zM427 147h1v1h-1zM427 147h1v1h-1zM420 147h1v1h-1zM423 147h1v1h-1zM411 147h1v1h-1zM430 147h1v1h-1zM426 147h1v1h-1zM409 147h1v1h-1zM406 147h1v1h-1zM434 148h1v1h-1zM423 148h1v1h-1zM422 148h1v1h-1zM408 148h1v1h-1zM437 148h1v1h-1zM417 148h1v1h-1zM405 148h1v1h-1zM415 148h1v1h-1zM408 148h1v1h-1zM404 148h1v1h-1zM442 148h1v1h-1zM422 148h1v1h-1zM423 148h1v1h-1zM437 148h1v1h-1zM416 148h1v1h-1zM413 149h1v1h-1zM420 149h1v1h-1zM416 149h1v1h-1zM409 149h1v1h-1zM419 149h1v1h-1zM415 149h1v1h-1zM424 149h1v1h-1zM405 149h1v1h-1zM420 149h1v1h-1zM421 149h1v1h-1zM431 149h1v1h-1zM428 149h1v1h-1zM424 149h1v1h-1zM402 149h1v1h-1zM410 149h1v1h-1zM426 149h1v1h-1zM422 150h1v1h-1zM411 150h1v1h-1zM428 150h1v1h-1zM419 150h1v1h-1zM417 150h1v1h-1zM405 150h1v1h-1zM412 150h1v1h-1zM406 150h1v1h-1zM407 150h1v1h-1zM416 150h1v1h-1zM418 150h1v1h-1zM411 150h1v1h-1zM407 150h1v1h-1zM403 150h1v1h-1zM421 150h1v1h-1zM427 151h1v1h-1zM429 151h1v1h-1zM433 151h1v1h-1zM424 151h1v1h-1zM417 151h1v1h-1zM427 151h1v1h-1zM429 151h1v1h-1zM423 151h1v1h-1zM407 151h1v1h-1zM404 151h1v1h-1zM401 151h1v1h-1zM409 151h1v1h-1zM417 151h1v1h-1zM429 151h1v1h-1zM428 151h1v1h-1zM414 152h1v1h-1zM429 152h1v1h-1zM409 152h1v1h-1zM422 152h1v1h-1zM427 152h1v1h-1zM407 152h1v1h-1zM410 152h1v1h-1zM423 152h1v1h-1zM426 152h1v1h-1zM417 152h1v1h-1zM426 152h1v1h-1zM412 152h1v1h-1zM427 152h1v1h-1zM431 152h1v1h-1zM412 152h1v1h-1zM435 153h1v1h-1zM422 153h1v1h-1zM419 153h1v1h-1zM429 153h1v1h-1zM437 153h1v1h-1zM430 153h1v1h-1zM432 153h1v1h-1zM435 153h1v1h-1zM426 153h1v1h-1zM422 153h1v1h-1zM417 153h1v1h-1zM403 153h1v1h-1zM426 153h1v1h-1zM430 153h1v1h-1zM431 153h1v1h-1zM426 154h1v1h-1zM419 154h1v1h-1zM423 154h1v1h-1zM432 154h1v1h-1zM407 154h1v1h-1zM410 154h1v1h-1zM439 154h1v1h-1zM406 154h1v1h-1zM420 154h1v1h-1zM434 154h1v1h-1zM416 154h1v1h-1zM417 154h1v1h-1zM425 154h1v1h-1zM401 154h1v1h-1zM412 154h1v1h-1zM426 155h1v1h-1zM412 155h1v1h-1zM407 155h1v1h-1zM428 155h1v1h-1zM420 155h1v1h-1zM430 155h1v1h-1zM421 155h1v1h-1zM411 155h1v1h-1zM428 155h1v1h-1zM405 155h1v1h-1zM429 155h1v1h-1zM416 155h1v1h-1zM407 155h1v1h-1zM418 155h1v1h-1zM422 155h1v1h-1zM418 156h1v1h-1zM411 156h1v1h-1zM422 156h1v1h-1zM424 156h1v1h-1zM423 156h1v1h-1zM422 156h1v1h-1zM426 156h1v1h-1zM429 156h1v1h-1zM415 156h1v1h-1zM425 156h1v1h-1zM424 156h1v1h-1zM432 156h1v1h-1zM410 156h1v1h-1zM425 156h1v1h-1zM417 156h1v1h-1zM418 157h1v1h-1zM407 157h1v1h-1zM421 157h1v1h-1zM437 157h1v1h-1zM408 157h1v1h-1zM427 157h1v1h-1zM408 157h1v1h-1zM420 157h1v1h-1zM417 157h1v1h-1zM418 157h1v1h-1zM431 157h1v1h-1zM416 157h1v1h-1zM426 157h1v1h-1zM415 157h1v1h-1zM428 158h1v1h-1zM436 158h1v1h-1zM401 158h1v1h-1zM423 158h1v1h-1zM432 158h1v1h-1zM412 158h1v1h-1zM428 158h1v1h-1zM429 158h1v1h-1zM429 158h1v1h-1zM411 158h1v1h-1zM409 158h1v1h-1zM407 158h1v1h-1zM415 158h1v1h-1zM432 158h1v1h-1zM408 158h1v1h-1zM421 159h1v1h-1zM423 159h1v1h-1zM414 159h1v1h-1zM409 159h1v1h-1zM411 159h1v1h-1zM412 159h1v1h-1zM442 159h1v1h-1zM420 159h1v1h-1zM409 159h1v1h-1zM421 159h1v1h-1zM431 159h1v1h-1zM414 159h1v1h-1zM424 159h1v1h-1zM418 159h1v1h-1zM421 160h1v1h-1zM431 160h1v1h-1zM408 160h1v1h-1zM413 160h1v1h-1zM414 160h1v1h-1zM430 160h1v1h-1zM407 160h1v1h-1zM414 160h1v1h-1zM427 160h1v1h-1zM415 160h1v1h-1zM416 160h1v1h-1zM416 160h1v1h-1zM425 160h1v1h-1zM429 160h1v1h-1zM422 161h1v1h-1zM423 161h1v1h-1zM428 161h1v1h-1zM422 161h1v1h-1zM420 161h1v1h-1zM414 161h1v1h-1zM416 161h1v1h-1zM415 161h1v1h-1zM425 161h1v1h-1zM424 161h1v1h-1zM426 161h1v1h-1zM422 161h1v1h-1zM424 161h1v1h-1zM428 161h1v1h-1zM425 162h1v1h-1zM424 162h1v1h-1zM419 162h1v1h-1zM411 162h1v1h-1zM420 162h1v1h-1zM429 162h1v1h-1zM427 162h1v1h-1zM416 162h1v1h-1zM415 162h1v1h-1zM411 162h1v1h-1zM425 162h1v1h-1zM410 162h1v1h-1zM421 162h1v1h-1zM415 162h1v1h-1zM428 163h1v1h-1zM412 163h1v1h-1zM423 163h1v1h-1zM416 163h1v1h-1zM413 163h1v1h-1zM408 163h1v1h-1zM414 163h1v1h-1zM415 163h1v1h-1zM416 163h1v1h-1zM415 163h1v1h-1zM419 163h1v1h-1zM426 163h1v1h-1zM421 163h1v1h-1zM416 163h1v1h-1zM426 164h1v1h-1zM432 164h1v1h-1zM415 164h1v1h-1zM414 164h1v1h-1zM414 164h1v1h-1zM419 164h1v1h-1zM408 164h1v1h-1zM409 164h1v1h-1zM421 164h1v1h-1zM416 164h1v1h-1zM410 164h1v1h-1zM418 164h1v1h-1zM403 164h1v1h-1zM414 165h1v1h-1zM429 165h1v1h-1zM403 165h1v1h-1zM428 165h1v1h-1zM429 165h1v1h-1zM415 165h1v1h-1zM424 165h1v1h-1zM418 165h1v1h-1zM424 165h1v1h-1zM423 165h1v1h-1zM417 165h1v1h-1zM412 165h1v1h-1zM412 165h1v1h-1zM406 166h1v1h-1zM412 166h1v1h-1zM414 166h1v1h-1zM416 166h1v1h-1zM416 166h1v1h-1zM410 166h1v1h-1zM407 166h1v1h-1zM411 166h1v1h-1zM415 166h1v1h-1zM407 166h1v1h-1zM426 166h1v1h-1zM422 166h1v1h-1zM407 166h1v1h-1zM403 167h1v1h-1zM409 167h1v1h-1zM420 167h1v1h-1zM418 167h1v1h-1zM423 167h1v1h-1zM427 167h1v1h-1zM410 167h1v1h-1zM425 167h1v1h-1zM428 167h1v1h-1zM424 167h1v1h-1zM419 167h1v1h-1zM437 167h1v1h-1zM422 168h1v1h-1zM429 168h1v1h-1zM411 168h1v1h-1zM416 168h1v1h-1zM420 168h1v1h-1zM435 168h1v1h-1zM415 168h1v1h-1zM427 168h1v1h-1zM418 168h1v1h-1zM427 168h1v1h-1zM415 168h1v1h-1zM421 168h1v1h-1zM424 169h1v1h-1zM412 169h1v1h-1zM399 169h1v1h-1zM403 169h1v1h-1zM428 169h1v1h-1zM410 169h1v1h-1zM419 169h1v1h-1zM420 169h1v1h-1zM414 169h1v1h-1zM422 169h1v1h-1zM412 169h1v1h-1zM421 169h1v1h-1zM428 170h1v1h-1zM429 170h1v1h-1zM416 170h1v1h-1zM407 170h1v1h-1zM415 170h1v1h-1zM421 170h1v1h-1zM416 170h1v1h-1zM407 170h1v1h-1zM419 170h1v1h-1zM414 170h1v1h-1zM413 170h1v1h-1zM412 170h1v1h-1zM418 171h1v1h-1zM418 171h1v1h-1zM420 171h1v1h-1zM418 171h1v1h-1zM418 171h1v1h-1zM411 171h1v1h-1zM422 171h1v1h-1zM413 171h1v1h-1zM407 171h1v1h-1zM414 171h1v1h-1zM407 171h1v1h-1zM426 171h1v1h-1zM426 172h1v1h-1zM408 172h1v1h-1zM417 172h1v1h-1zM427 172h1v1h-1zM419 172h1v1h-1zM417 172h1v1h-1zM422 172h1v1h-1zM422 172h1v1h-1zM424 172h1v1h-1zM416 172h1v1h-1zM422 172h1v1h-1zM418 173h1v1h-1zM425 173h1v1h-1zM414 173h1v1h-1zM424 173h1v1h-1zM417 173h1v1h-1zM411 173h1v1h-1zM427 173h1v1h-1zM414 173h1v1h-1zM411 173h1v1h-1zM405 173h1v1h-1zM422 173h1v1h-1zM421 174h1v1h-1zM422 174h1v1h-1zM428 174h1v1h-1zM428 174h1v1h-1zM415 174h1v1h-1zM408 174h1v1h-1zM418 174h1v1h-1zM413 174h1v1h-1zM425 174h1v1h-1zM417 174h1v1h-1zM420 174h1v1h-1zM425 175h1v1h-1zM411 175h1v1h-1zM411 175h1v1h-1zM426 175h1v1h-1zM418 175h1v1h-1zM407 175h1v1h-1zM422 175h1v1h-1zM427 175h1v1h-1zM431 175h1v1h-1zM423 175h1v1h-1zM425 175h1v1h-1zM419 176h1v1h-1zM419 176h1v1h-1zM428 176h1v1h-1zM413 176h1v1h-1zM414 176h1v1h-1zM417 176h1v1h-1zM429 176h1v1h-1zM420 176h1v1h-1zM423 176h1v1h-1zM417 176h1v1h-1zM421 176h1v1h-1zM426 177h1v1h-1zM419 177h1v1h-1zM405 177h1v1h-1zM424 177h1v1h-1zM432 177h1v1h-1zM428 177h1v1h-1zM419 177h1v1h-1zM412 177h1v1h-1zM427 177h1v1h-1zM415 177h1v1h-1zM416 178h1v1h-1zM425 178h1v1h-1zM419 178h1v1h-1zM423 178h1v1h-1zM422 178h1v1h-1zM419 178h1v1h-1zM415 178h1v1h-1zM427 178h1v1h-1zM425 178h1v1h-1zM425 178h1v1h-1zM420 179h1v1h-1zM417 179h1v1h-1zM422 179h1v1h-1zM415 179h1v1h-1zM409 179h1v1h-1zM422 179h1v1h-1zM413 179h1v1h-1zM419 179h1v1h-1zM421 179h1v1h-1zM412 179h1v1h-1zM408 180h1v1h-1zM426 180h1v1h-1zM426 180h1v1h-1zM407 180h1v1h-1zM420 180h1v1h-1zM416 180h1v1h-1zM413 180h1v1h-1zM415 180h1v1h-1zM430 180h1v1h-1zM418 180h1v1h-1zM424 181h1v1h-1zM427 181h1v1h-1zM415 181h1v1h-1zM434 181h1v1h-1zM410 181h1v1h-1zM424 181h1v1h-1zM427 181h1v1h-1zM425 181h1v1h-1zM417 181h1v1h-1zM415 181h1v1h-1zM430 182h1v1h-1zM415 182h1v1h-1zM420 182h1v1h-1zM409 182h1v1h-1zM422 182h1v1h-1zM430 182h1v1h-1zM417 182h1v1h-1zM425 182h1v1h-1zM425 182h1v1h-1zM426 183h1v1h-1zM420 183h1v1h-1zM430 183h1v1h-1zM419 183h1v1h-1zM425 183h1v1h-1zM417 183h1v1h-1zM421 183h1v1h-1zM425 183h1v1h-1zM418 183h1v1h-1zM422 184h1v1h-1zM415 184h1v1h-1zM420 184h1v1h-1zM408 184h1v1h-1zM418 184h1v1h-1zM424 184h1v1h-1zM426 184h1v1h-1zM414 184h1v1h-1zM422 184h1v1h-1zM422 185h1v1h-1zM413 185h1v1h-1zM422 185h1v1h-1zM417 185h1v1h-1zM415 185h1v1h-1zM413 185h1v1h-1zM427 185h1v1h-1zM413 185h1v1h-1zM413 185h1v1h-1zM412 186h1v1h-1zM421 186h1v1h-1zM411 186h1v1h-1zM429 186h1v1h-1zM414 186h1v1h-1zM416 186h1v1h-1zM420 186h1v1h-1zM425 186h1v1h-1zM413 187h1v1h-1zM406 187h1v1h-1zM414 187h1v1h-1zM433 187h1v1h-1zM414 187h1v1h-1zM416 187h1v1h-1zM418 187h1v1h-1zM421 187h1v1h-1zM425 188h1v1h-1zM411 188h1v1h-1zM430 188h1v1h-1zM411 188h1v1h-1zM419 188h1v1h-1zM420 188h1v1h-1zM432 188h1v1h-1zM422 188h1v1h-1zM411 189h1v1h-1zM422 189h1v1h-1zM408 189h1v1h-1zM419 189h1v1h-1zM421 189h1v1h-1zM422 189h1v1h-1zM424 189h1v1h-1zM424 189h1v1h-1zM425 190h1v1h-1zM425 190h1v1h-1zM415 190h1v1h-1zM411 190h1v1h-1zM420 190h1v1h-1zM418 190h1v1h-1zM429 190h1v1h-1zM413 191h1v1h-1zM412 191h1v1h-1zM416 191h1v1h-1zM424 191h1v1h-1zM423 191h1v1h-1zM427 191h1v1h-1zM419 191h1v1h-1zM425 192h1v1h-1zM427 192h1v1h-1zM419 192h1v1h-1zM424 192h1v1h-1zM431 192h1v1h-1zM414 192h1v1h-1zM407 192h1v1h-1zM429 193h1v1h-1zM417 193h1v1h-1zM416 193h1v1h-1zM417 193h1v1h-1zM423 193h1v1h-1zM410 193h1v1h-1zM421 193h1v1h-1zM431 134h1v1h-1zM412 158h1v1h-1zM437 158h1v1h-1zM407 160h1v1h-1zM400 172h1v1h-1zM424 143h1v1h-1zM427 144h1v1h-1zM421 161h1v1h-1zM436 132h1v1h-1zM443 181h1v1h-1zM407 185h1v1h-1zM411 181h1v1h-1zM408 182h1v1h-1zM439 159h1v1h-1zM430 174h1v1h-1zM428 143h1v1h-1zM434 185h1v1h-1zM423 182h1v1h-1zM415 151h1v1h-1zM430 142h1v1h-1zM435 177h1v1h-1zM408 148h1v1h-1zM439 156h1v1h-1zM400 178h1v1h-1zM407 153h1v1h-1z" fill="#383838"/>
<rect x="396.5" y="63.5" width="37.0" height="50.0" fill="none" stroke="#3c3c3c" stroke-width="1.2"/>
<line x1="316.80" y1="30.00" x2="316.80" y2="195.30" stroke="#2a2a2a" stroke-width="1.8" />
<line x1="313.80" y1="194.30" x2="482.50" y2="194.30" stroke="#2a2a2a" stroke-width="1.8" />
<line x1="313.30" y1="194.30" x2="316.80" y2="194.30" stroke="#222" stroke-width="1.2" />
<line x1="316.80" y1="194.30" x2="316.80" y2="198.30" stroke="#222" stroke-width="1.2" />
<line x1="329.23" y1="194.30" x2="329.23" y2="196.90" stroke="#222" stroke-width="1.0" />
<line x1="336.51" y1="194.30" x2="336.51" y2="196.90" stroke="#222" stroke-width="1.0" />
<line x1="341.67" y1="194.30" x2="341.67" y2="196.90" stroke="#222" stroke-width="1.0" />
<line x1="314.80" y1="165.43" x2="316.80" y2="165.43" stroke="#333" stroke-width="1.0" />
<line x1="345.67" y1="194.30" x2="345.67" y2="196.90" stroke="#222" stroke-width="1.0" />
<line x1="348.94" y1="194.30" x2="348.94" y2="196.90" stroke="#222" stroke-width="1.0" />
<line x1="351.70" y1="194.30" x2="351.70" y2="196.90" stroke="#222" stroke-width="1.0" />
<line x1="354.10" y1="194.30" x2="354.10" y2="196.90" stroke="#222" stroke-width="1.0" />
<line x1="356.21" y1="194.30" x2="356.21" y2="196.90" stroke="#222" stroke-width="1.0" />
<line x1="313.30" y1="153.00" x2="316.80" y2="153.00" stroke="#222" stroke-width="1.2" />
<line x1="358.10" y1="194.30" x2="358.10" y2="198.30" stroke="#222" stroke-width="1.2" />
<line x1="370.53" y1="194.30" x2="370.53" y2="196.90" stroke="#222" stroke-width="1.0" />
<line x1="377.81" y1="194.30" x2="377.81" y2="196.90" stroke="#222" stroke-width="1.0" />
<line x1="382.97" y1="194.30" x2="382.97" y2="196.90" stroke="#222" stroke-width="1.0" />
<line x1="314.80" y1="124.13" x2="316.80" y2="124.13" stroke="#333" stroke-width="1.0" />
<line x1="386.97" y1="194.30" x2="386.97" y2="196.90" stroke="#222" stroke-width="1.0" />
<line x1="390.24" y1="194.30" x2="390.24" y2="196.90" stroke="#222" stroke-width="1.0" />
<line x1="393.00" y1="194.30" x2="393.00" y2="196.90" stroke="#222" stroke-width="1.0" />
<line x1="395.40" y1="194.30" x2="395.40" y2="196.90" stroke="#222" stroke-width="1.0" />
<line x1="397.51" y1="194.30" x2="397.51" y2="196.90" stroke="#222" stroke-width="1.0" />
<line x1="313.30" y1="111.70" x2="316.80" y2="111.70" stroke="#222" stroke-width="1.2" />
<line x1="399.40" y1="194.30" x2="399.40" y2="198.30" stroke="#222" stroke-width="1.2" />
<line x1="411.83" y1="194.30" x2="411.83" y2="196.90" stroke="#222" stroke-width="1.0" />
<line x1="419.11" y1="194.30" x2="419.11" y2="196.90" stroke="#222" stroke-width="1.0" />
<line x1="424.27" y1="194.30" x2="424.27" y2="196.90" stroke="#222" stroke-width="1.0" />
<line x1="314.80" y1="82.83" x2="316.80" y2="82.83" stroke="#333" stroke-width="1.0" />
<line x1="428.27" y1="194.30" x2="428.27" y2="196.90" stroke="#222" stroke-width="1.0" />
<line x1="431.54" y1="194.30" x2="431.54" y2="196.90" stroke="#222" stroke-width="1.0" />
<line x1="434.30" y1="194.30" x2="434.30" y2="196.90" stroke="#222" stroke-width="1.0" />
<line x1="436.70" y1="194.30" x2="436.70" y2="196.90" stroke="#222" stroke-width="1.0" />
<line x1="438.81" y1="194.30" x2="438.81" y2="196.90" stroke="#222" stroke-width="1.0" />
<line x1="313.30" y1="70.40" x2="316.80" y2="70.40" stroke="#222" stroke-width="1.2" />
<line x1="440.70" y1="194.30" x2="440.70" y2="198.30" stroke="#222" stroke-width="1.2" />
<line x1="453.13" y1="194.30" x2="453.13" y2="196.90" stroke="#222" stroke-width="1.0" />
<line x1="460.41" y1="194.30" x2="460.41" y2="196.90" stroke="#222" stroke-width="1.0" />
<line x1="465.57" y1="194.30" x2="465.57" y2="196.90" stroke="#222" stroke-width="1.0" />
<line x1="314.80" y1="41.53" x2="316.80" y2="41.53" stroke="#333" stroke-width="1.0" />
<line x1="469.57" y1="194.30" x2="469.57" y2="196.90" stroke="#222" stroke-width="1.0" />
<line x1="472.84" y1="194.30" x2="472.84" y2="196.90" stroke="#222" stroke-width="1.0" />
<line x1="475.60" y1="194.30" x2="475.60" y2="196.90" stroke="#222" stroke-width="1.0" />
<line x1="478.00" y1="194.30" x2="478.00" y2="196.90" stroke="#222" stroke-width="1.0" />
<line x1="480.11" y1="194.30" x2="480.11" y2="196.90" stroke="#222" stroke-width="1.0" />
<line x1="313.30" y1="29.10" x2="316.80" y2="29.10" stroke="#222" stroke-width="1.2" />
<line x1="482.00" y1="194.30" x2="482.00" y2="198.30" stroke="#222" stroke-width="1.2" />
<text x="309.80" y="197.30" font-family="Liberation Sans" font-size="8.5" font-weight="bold" text-anchor="end" fill="#000" letter-spacing="-0.2" stroke="#000" stroke-width="0.45">10<tspan font-size="5.5" dy="-3.8">0</tspan></text>
<text x="316.50" y="209.80" font-family="Liberation Sans" font-size="8.5" font-weight="bold" text-anchor="middle" fill="#000" letter-spacing="-0.2" stroke="#000" stroke-width="0.45">10<tspan font-size="5.5" dy="-3.8">0</tspan></text>
<text x="309.80" y="156.00" font-family="Liberation Sans" font-size="8.5" font-weight="bold" text-anchor="end" fill="#000" letter-spacing="-0.2" stroke="#000" stroke-width="0.45">10<tspan font-size="5.5" dy="-3.8">1</tspan></text>
<text x="357.80" y="209.80" font-family="Liberation Sans" font-size="8.5" font-weight="bold" text-anchor="middle" fill="#000" letter-spacing="-0.2" stroke="#000" stroke-width="0.45">10<tspan font-size="5.5" dy="-3.8">1</tspan></text>
<text x="309.80" y="114.70" font-family="Liberation Sans" font-size="8.5" font-weight="bold" text-anchor="end" fill="#000" letter-spacing="-0.2" stroke="#000" stroke-width="0.45">10<tspan font-size="5.5" dy="-3.8">2</tspan></text>
<text x="399.10" y="209.80" font-family="Liberation Sans" font-size="8.5" font-weight="bold" text-anchor="middle" fill="#000" letter-spacing="-0.2" stroke="#000" stroke-width="0.45">10<tspan font-size="5.5" dy="-3.8">2</tspan></text>
<text x="309.80" y="73.40" font-family="Liberation Sans" font-size="8.5" font-weight="bold" text-anchor="end" fill="#000" letter-spacing="-0.2" stroke="#000" stroke-width="0.45">10<tspan font-size="5.5" dy="-3.8">3</tspan></text>
<text x="440.40" y="209.80" font-family="Liberation Sans" font-size="8.5" font-weight="bold" text-anchor="middle" fill="#000" letter-spacing="-0.2" stroke="#000" stroke-width="0.45">10<tspan font-size="5.5" dy="-3.8">3</tspan></text>
<text x="309.80" y="32.10" font-family="Liberation Sans" font-size="8.5" font-weight="bold" text-anchor="end" fill="#000" letter-spacing="-0.2" stroke="#000" stroke-width="0.45">10<tspan font-size="5.5" dy="-3.8">4</tspan></text>
<text x="481.70" y="209.80" font-family="Liberation Sans" font-size="8.5" font-weight="bold" text-anchor="middle" fill="#000" letter-spacing="-0.2" stroke="#000" stroke-width="0.45">10<tspan font-size="5.5" dy="-3.8">4</tspan></text>
<text transform="translate(480.00 47.20) scale(1.0 1.07)" font-family="Liberation Serif" font-size="19.6" text-anchor="end">5.88</text>
<rect x="115.00" y="227.00" width="165.00" height="164.00" fill="#fafafa" />
<path d="M111.5 227.2 H280.3 V391" fill="none" stroke="#333" stroke-width="1.4"/>
<path d="M210 266h1v1h-1zM214 266h1v1h-1zM205 267h1v1h-1zM206 267h1v1h-1zM214 267h1v1h-1zM213 268h1v1h-1zM203 268h1v1h-1zM208 268h1v1h-1zM217 269h1v1h-1zM213 269h1v1h-1zM212 269h1v1h-1zM211 269h1v1h-1zM216 270h1v1h-1zM203 270h1v1h-1zM210 270h1v1h-1zM219 270h1v1h-1zM205 271h1v1h-1zM215 271h1v1h-1zM212 271h1v1h-1zM211 271h1v1h-1zM205 271h1v1h-1zM216 271h1v1h-1zM223 272h1v1h-1zM207 272h1v1h-1zM208 272h1v1h-1zM213 272h1v1h-1zM211 272h1v1h-1zM215 272h1v1h-1zM211 272h1v1h-1zM220 273h1v1h-1zM203 273h1v1h-1zM201 273h1v1h-1zM207 273h1v1h-1zM196 273h1v1h-1zM216 273h1v1h-1zM218 274h1v1h-1zM210 274h1v1h-1zM206 274h1v1h-1zM201 274h1v1h-1zM204 274h1v1h-1zM207 274h1v1h-1zM200 274h1v1h-1zM212 275h1v1h-1zM206 275h1v1h-1zM205 275h1v1h-1zM211 275h1v1h-1zM207 275h1v1h-1zM206 275h1v1h-1zM214 276h1v1h-1zM221 276h1v1h-1zM210 276h1v1h-1zM208 276h1v1h-1zM215 276h1v1h-1zM213 276h1v1h-1zM199 276h1v1h-1zM205 277h1v1h-1zM214 277h1v1h-1zM201 277h1v1h-1zM215 277h1v1h-1zM209 277h1v1h-1zM211 277h1v1h-1zM209 277h1v1h-1zM211 278h1v1h-1zM218 278h1v1h-1zM197 278h1v1h-1zM205 278h1v1h-1zM205 278h1v1h-1zM202 278h1v1h-1zM208 278h1v1h-1zM206 279h1v1h-1zM212 279h1v1h-1zM206 279h1v1h-1zM204 279h1v1h-1zM205 279h1v1h-1zM207 279h1v1h-1zM206 279h1v1h-1zM217 280h1v1h-1zM218 280h1v1h-1zM214 280h1v1h-1zM201 280h1v1h-1zM207 280h1v1h-1zM205 280h1v1h-1zM203 281h1v1h-1zM207 281h1v1h-1zM206 281h1v1h-1zM217 281h1v1h-1zM214 281h1v1h-1zM203 281h1v1h-1zM217 281h1v1h-1zM203 282h1v1h-1zM207 282h1v1h-1zM213 282h1v1h-1zM206 282h1v1h-1zM217 282h1v1h-1zM219 282h1v1h-1zM215 282h1v1h-1zM201 283h1v1h-1zM205 283h1v1h-1zM210 283h1v1h-1zM218 283h1v1h-1zM211 283h1v1h-1zM219 283h1v1h-1zM210 283h1v1h-1zM208 284h1v1h-1zM218 284h1v1h-1zM222 284h1v1h-1zM216 284h1v1h-1zM212 284h1v1h-1zM219 284h1v1h-1zM206 284h1v1h-1zM204 285h1v1h-1zM201 285h1v1h-1zM202 285h1v1h-1zM203 285h1v1h-1zM220 285h1v1h-1zM209 285h1v1h-1zM205 285h1v1h-1zM214 286h1v1h-1zM208 286h1v1h-1zM205 286h1v1h-1zM211 286h1v1h-1zM199 286h1v1h-1zM201 286h1v1h-1zM218 286h1v1h-1zM214 287h1v1h-1zM206 287h1v1h-1zM209 287h1v1h-1zM211 287h1v1h-1zM209 287h1v1h-1zM217 287h1v1h-1zM199 287h1v1h-1zM220 288h1v1h-1zM211 288h1v1h-1zM203 288h1v1h-1zM213 288h1v1h-1zM216 288h1v1h-1zM218 288h1v1h-1zM207 289h1v1h-1zM202 289h1v1h-1zM203 289h1v1h-1zM216 289h1v1h-1zM203 289h1v1h-1zM218 289h1v1h-1zM203 290h1v1h-1zM214 290h1v1h-1zM214 290h1v1h-1zM212 290h1v1h-1zM214 290h1v1h-1zM210 290h1v1h-1zM217 291h1v1h-1zM200 291h1v1h-1zM219 291h1v1h-1zM206 291h1v1h-1zM214 291h1v1h-1zM213 291h1v1h-1zM209 292h1v1h-1zM211 292h1v1h-1zM221 292h1v1h-1zM208 292h1v1h-1zM212 292h1v1h-1zM214 292h1v1h-1zM210 293h1v1h-1zM218 293h1v1h-1zM216 293h1v1h-1zM215 293h1v1h-1zM214 293h1v1h-1zM204 293h1v1h-1zM209 294h1v1h-1zM203 294h1v1h-1zM201 294h1v1h-1zM210 294h1v1h-1zM214 294h1v1h-1zM208 295h1v1h-1zM209 295h1v1h-1zM203 295h1v1h-1zM217 295h1v1h-1zM207 295h1v1h-1zM210 296h1v1h-1zM218 296h1v1h-1zM207 296h1v1h-1zM216 296h1v1h-1zM217 297h1v1h-1zM210 297h1v1h-1zM216 297h1v1h-1zM218 297h1v1h-1zM204 298h1v1h-1zM208 298h1v1h-1zM220 298h1v1h-1zM217 298h1v1h-1zM214 299h1v1h-1zM215 299h1v1h-1zM217 299h1v1h-1zM205 299h1v1h-1zM205 300h1v1h-1zM206 300h1v1h-1zM207 300h1v1h-1zM216 301h1v1h-1zM206 301h1v1h-1zM207 301h1v1h-1zM217 302h1v1h-1zM206 302h1v1h-1zM214 303h1v1h-1zM206 303h1v1h-1zM223 275h1v1h-1zM221 306h1v1h-1zM219 287h1v1h-1zM201 285h1v1h-1zM208 295h1v1h-1zM219 288h1v1h-1zM203 292h1v1h-1zM217 271h1v1h-1zM225 292h1v1h-1zM201 305h1v1h-1zM207 313h1v1h-1zM215 313h1v1h-1zM215 313h1v1h-1zM213 313h1v1h-1zM207 313h1v1h-1zM215 314h1v1h-1zM210 314h1v1h-1zM205 314h1v1h-1zM208 314h1v1h-1zM214 314h1v1h-1zM216 314h1v1h-1zM207 314h1v1h-1zM213 315h1v1h-1zM224 315h1v1h-1zM206 315h1v1h-1zM206 315h1v1h-1zM202 315h1v1h-1zM202 315h1v1h-1zM224 315h1v1h-1zM218 315h1v1h-1zM211 315h1v1h-1zM213 316h1v1h-1zM207 316h1v1h-1zM227 316h1v1h-1zM225 316h1v1h-1zM222 316h1v1h-1zM219 316h1v1h-1zM223 316h1v1h-1zM208 316h1v1h-1zM218 316h1v1h-1zM220 316h1v1h-1zM202 316h1v1h-1zM209 316h1v1h-1zM215 317h1v1h-1zM206 317h1v1h-1zM212 317h1v1h-1zM213 317h1v1h-1zM228 317h1v1h-1zM221 317h1v1h-1zM221 317h1v1h-1zM208 317h1v1h-1zM194 317h1v1h-1zM207 317h1v1h-1zM223 317h1v1h-1zM222 317h1v1h-1zM222 317h1v1h-1zM218 317h1v1h-1zM213 317h1v1h-1zM204 318h1v1h-1zM220 318h1v1h-1zM201 318h1v1h-1zM203 318h1v1h-1zM216 318h1v1h-1zM216 318h1v1h-1zM217 318h1v1h-1zM202 318h1v1h-1zM213 318h1v1h-1zM210 318h1v1h-1zM206 318h1v1h-1zM205 318h1v1h-1zM205 318h1v1h-1zM201 318h1v1h-1zM210 318h1v1h-1zM214 318h1v1h-1zM207 318h1v1h-1zM212 318h1v1h-1zM205 319h1v1h-1zM215 319h1v1h-1zM213 319h1v1h-1zM211 319h1v1h-1zM210 319h1v1h-1zM221 319h1v1h-1zM208 319h1v1h-1zM200 319h1v1h-1zM218 319h1v1h-1zM210 319h1v1h-1zM221 319h1v1h-1zM209 319h1v1h-1zM222 319h1v1h-1zM208 319h1v1h-1zM226 319h1v1h-1zM217 319h1v1h-1zM221 319h1v1h-1zM227 319h1v1h-1zM202 320h1v1h-1zM206 320h1v1h-1zM219 320h1v1h-1zM229 320h1v1h-1zM224 320h1v1h-1zM231 320h1v1h-1zM196 320h1v1h-1zM201 320h1v1h-1zM196 320h1v1h-1zM209 320h1v1h-1zM209 320h1v1h-1zM205 320h1v1h-1zM196 320h1v1h-1zM220 320h1v1h-1zM208 320h1v1h-1zM224 320h1v1h-1zM209 320h1v1h-1zM219 320h1v1h-1zM221 321h1v1h-1zM216 321h1v1h-1zM210 321h1v1h-1zM204 321h1v1h-1zM212 321h1v1h-1zM221 321h1v1h-1zM205 321h1v1h-1zM219 321h1v1h-1zM218 321h1v1h-1zM218 321h1v1h-1zM205 321h1v1h-1zM214 321h1v1h-1zM229 321h1v1h-1zM201 321h1v1h-1zM201 321h1v1h-1zM218 321h1v1h-1zM205 321h1v1h-1zM218 321h1v1h-1zM227 322h1v1h-1zM202 322h1v1h-1zM221 322h1v1h-1zM218 322h1v1h-1zM200 322h1v1h-1zM211 322h1v1h-1zM206 322h1v1h-1zM203 322h1v1h-1zM225 322h1v1h-1zM199 322h1v1h-1zM224 322h1v1h-1zM213 322h1v1h-1zM219 322h1v1h-1zM206 322h1v1h-1zM200 322h1v1h-1zM218 322h1v1h-1zM201 322h1v1h-1zM209 322h1v1h-1zM211 323h1v1h-1zM218 323h1v1h-1zM223 323h1v1h-1zM209 323h1v1h-1zM201 323h1v1h-1zM213 323h1v1h-1zM212 323h1v1h-1zM203 323h1v1h-1zM229 323h1v1h-1zM229 323h1v1h-1zM209 323h1v1h-1zM222 323h1v1h-1zM226 323h1v1h-1zM230 323h1v1h-1zM220 323h1v1h-1zM220 323h1v1h-1zM208 323h1v1h-1zM227 323h1v1h-1zM210 324h1v1h-1zM214 324h1v1h-1zM220 324h1v1h-1zM204 324h1v1h-1zM222 324h1v1h-1zM221 324h1v1h-1zM210 324h1v1h-1zM213 324h1v1h-1zM223 324h1v1h-1zM231 324h1v1h-1zM223 324h1v1h-1zM212 324h1v1h-1zM216 324h1v1h-1zM211 324h1v1h-1zM223 324h1v1h-1zM200 324h1v1h-1zM225 324h1v1h-1zM208 324h1v1h-1zM211 325h1v1h-1zM213 325h1v1h-1zM201 325h1v1h-1zM206 325h1v1h-1zM223 325h1v1h-1zM223 325h1v1h-1zM205 325h1v1h-1zM197 325h1v1h-1zM203 325h1v1h-1zM218 325h1v1h-1zM209 325h1v1h-1zM220 325h1v1h-1zM202 325h1v1h-1zM208 325h1v1h-1zM222 325h1v1h-1zM223 325h1v1h-1zM224 325h1v1h-1zM215 325h1v1h-1zM207 326h1v1h-1zM210 326h1v1h-1zM226 326h1v1h-1zM220 326h1v1h-1zM228 326h1v1h-1zM220 326h1v1h-1zM212 326h1v1h-1zM207 326h1v1h-1zM234 326h1v1h-1zM212 326h1v1h-1zM215 326h1v1h-1zM213 326h1v1h-1zM207 326h1v1h-1zM205 326h1v1h-1zM224 326h1v1h-1zM228 326h1v1h-1zM198 326h1v1h-1zM212 326h1v1h-1zM219 327h1v1h-1zM231 327h1v1h-1zM214 327h1v1h-1zM222 327h1v1h-1zM212 327h1v1h-1zM207 327h1v1h-1zM209 327h1v1h-1zM222 327h1v1h-1zM230 327h1v1h-1zM225 327h1v1h-1zM211 327h1v1h-1zM203 327h1v1h-1zM213 327h1v1h-1zM207 327h1v1h-1zM216 327h1v1h-1zM224 327h1v1h-1zM218 327h1v1h-1zM198 327h1v1h-1zM217 328h1v1h-1zM213 328h1v1h-1zM206 328h1v1h-1zM209 328h1v1h-1zM225 328h1v1h-1zM211 328h1v1h-1zM218 328h1v1h-1zM210 328h1v1h-1zM207 328h1v1h-1zM209 328h1v1h-1zM194 328h1v1h-1zM223 328h1v1h-1zM202 328h1v1h-1zM214 328h1v1h-1zM203 328h1v1h-1zM206 328h1v1h-1zM229 328h1v1h-1zM205 328h1v1h-1zM237 329h1v1h-1zM201 329h1v1h-1zM221 329h1v1h-1zM220 329h1v1h-1zM210 329h1v1h-1zM222 329h1v1h-1zM208 329h1v1h-1zM211 329h1v1h-1zM225 329h1v1h-1zM198 329h1v1h-1zM219 329h1v1h-1zM212 329h1v1h-1zM203 329h1v1h-1zM208 329h1v1h-1zM229 329h1v1h-1zM213 329h1v1h-1zM199 329h1v1h-1zM228 329h1v1h-1zM203 330h1v1h-1zM226 330h1v1h-1zM215 330h1v1h-1zM201 330h1v1h-1zM212 330h1v1h-1zM209 330h1v1h-1zM220 330h1v1h-1zM235 330h1v1h-1zM221 330h1v1h-1zM211 330h1v1h-1zM203 330h1v1h-1zM214 330h1v1h-1zM215 330h1v1h-1zM212 330h1v1h-1zM212 330h1v1h-1zM223 330h1v1h-1zM207 330h1v1h-1zM211 330h1v1h-1zM223 331h1v1h-1zM229 331h1v1h-1zM213 331h1v1h-1zM226 331h1v1h-1zM217 331h1v1h-1zM218 331h1v1h-1zM223 331h1v1h-1zM209 331h1v1h-1zM216 331h1v1h-1zM206 331h1v1h-1zM210 331h1v1h-1zM205 331h1v1h-1zM221 331h1v1h-1zM207 331h1v1h-1zM209 331h1v1h-1zM192 331h1v1h-1zM213 331h1v1h-1zM224 331h1v1h-1zM206 332h1v1h-1zM225 332h1v1h-1zM216 332h1v1h-1zM216 332h1v1h-1zM203 332h1v1h-1zM222 332h1v1h-1zM199 332h1v1h-1zM217 332h1v1h-1zM205 332h1v1h-1zM204 332h1v1h-1zM215 332h1v1h-1zM215 332h1v1h-1zM199 332h1v1h-1zM227 332h1v1h-1zM211 332h1v1h-1zM223 332h1v1h-1zM200 332h1v1h-1zM206 332h1v1h-1zM213 333h1v1h-1zM205 333h1v1h-1zM201 333h1v1h-1zM216 333h1v1h-1zM203 333h1v1h-1zM221 333h1v1h-1zM201 333h1v1h-1zM199 333h1v1h-1zM217 333h1v1h-1zM214 333h1v1h-1zM214 333h1v1h-1zM203 333h1v1h-1zM212 333h1v1h-1zM212 333h1v1h-1zM219 333h1v1h-1zM230 333h1v1h-1zM200 333h1v1h-1zM198 333h1v1h-1zM226 334h1v1h-1zM210 334h1v1h-1zM195 334h1v1h-1zM224 334h1v1h-1zM207 334h1v1h-1zM197 334h1v1h-1zM224 334h1v1h-1zM227 334h1v1h-1zM212 334h1v1h-1zM205 334h1v1h-1zM223 334h1v1h-1zM212 334h1v1h-1zM214 334h1v1h-1zM216 334h1v1h-1zM212 334h1v1h-1zM217 334h1v1h-1zM220 334h1v1h-1zM206 334h1v1h-1zM211 335h1v1h-1zM203 335h1v1h-1zM206 335h1v1h-1zM215 335h1v1h-1zM228 335h1v1h-1zM211 335h1v1h-1zM199 335h1v1h-1zM226 335h1v1h-1zM221 335h1v1h-1zM209 335h1v1h-1zM197 335h1v1h-1zM217 335h1v1h-1zM211 335h1v1h-1zM220 335h1v1h-1zM218 335h1v1h-1zM224 335h1v1h-1zM223 335h1v1h-1zM213 335h1v1h-1zM223 336h1v1h-1zM231 336h1v1h-1zM202 336h1v1h-1zM197 336h1v1h-1zM204 336h1v1h-1zM211 336h1v1h-1zM218 336h1v1h-1zM214 336h1v1h-1zM217 336h1v1h-1zM208 336h1v1h-1zM209 336h1v1h-1zM201 336h1v1h-1zM206 336h1v1h-1zM199 336h1v1h-1zM214 336h1v1h-1zM208 336h1v1h-1zM229 336h1v1h-1zM221 336h1v1h-1zM207 337h1v1h-1zM210 337h1v1h-1zM226 337h1v1h-1zM211 337h1v1h-1zM229 337h1v1h-1zM201 337h1v1h-1zM203 337h1v1h-1zM213 337h1v1h-1zM220 337h1v1h-1zM231 337h1v1h-1zM225 337h1v1h-1zM196 337h1v1h-1zM212 337h1v1h-1zM225 337h1v1h-1zM212 337h1v1h-1zM209 337h1v1h-1zM227 337h1v1h-1zM213 337h1v1h-1zM203 338h1v1h-1zM212 338h1v1h-1zM199 338h1v1h-1zM203 338h1v1h-1zM219 338h1v1h-1zM221 338h1v1h-1zM218 338h1v1h-1zM215 338h1v1h-1zM222 338h1v1h-1zM227 338h1v1h-1zM230 338h1v1h-1zM214 338h1v1h-1zM205 338h1v1h-1zM213 338h1v1h-1zM200 338h1v1h-1zM198 338h1v1h-1zM198 338h1v1h-1zM206 338h1v1h-1zM216 339h1v1h-1zM226 339h1v1h-1zM218 339h1v1h-1zM198 339h1v1h-1zM211 339h1v1h-1zM197 339h1v1h-1zM227 339h1v1h-1zM204 339h1v1h-1zM219 339h1v1h-1zM211 339h1v1h-1zM203 339h1v1h-1zM214 339h1v1h-1zM203 339h1v1h-1zM214 339h1v1h-1zM218 339h1v1h-1zM213 339h1v1h-1zM198 339h1v1h-1zM199 339h1v1h-1zM209 340h1v1h-1zM217 340h1v1h-1zM217 340h1v1h-1zM212 340h1v1h-1zM203 340h1v1h-1zM221 340h1v1h-1zM226 340h1v1h-1zM213 340h1v1h-1zM200 340h1v1h-1zM230 340h1v1h-1zM232 340h1v1h-1zM199 340h1v1h-1zM207 340h1v1h-1zM226 340h1v1h-1zM214 340h1v1h-1zM198 340h1v1h-1zM218 340h1v1h-1zM199 340h1v1h-1zM205 341h1v1h-1zM212 341h1v1h-1zM206 341h1v1h-1zM237 341h1v1h-1zM208 341h1v1h-1zM202 341h1v1h-1zM217 341h1v1h-1zM213 341h1v1h-1zM218 341h1v1h-1zM215 341h1v1h-1zM201 341h1v1h-1zM223 341h1v1h-1zM218 341h1v1h-1zM212 341h1v1h-1zM220 341h1v1h-1zM198 341h1v1h-1zM213 341h1v1h-1zM213 341h1v1h-1zM225 342h1v1h-1zM225 342h1v1h-1zM210 342h1v1h-1zM202 342h1v1h-1zM222 342h1v1h-1zM207 342h1v1h-1zM206 342h1v1h-1zM214 342h1v1h-1zM224 342h1v1h-1zM208 342h1v1h-1zM221 342h1v1h-1zM217 342h1v1h-1zM212 342h1v1h-1zM206 342h1v1h-1zM220 342h1v1h-1zM218 342h1v1h-1zM220 342h1v1h-1zM210 342h1v1h-1zM209 343h1v1h-1zM207 343h1v1h-1zM221 343h1v1h-1zM211 343h1v1h-1zM216 343h1v1h-1zM232 343h1v1h-1zM231 343h1v1h-1zM195 343h1v1h-1zM203 343h1v1h-1zM228 343h1v1h-1zM201 343h1v1h-1zM208 343h1v1h-1zM205 343h1v1h-1zM215 343h1v1h-1zM199 343h1v1h-1zM225 343h1v1h-1zM231 343h1v1h-1zM215 343h1v1h-1zM210 344h1v1h-1zM228 344h1v1h-1zM218 344h1v1h-1zM209 344h1v1h-1zM221 344h1v1h-1zM208 344h1v1h-1zM224 344h1v1h-1zM227 344h1v1h-1zM194 344h1v1h-1zM207 344h1v1h-1zM230 344h1v1h-1zM230 344h1v1h-1zM200 344h1v1h-1zM220 344h1v1h-1zM210 344h1v1h-1zM210 344h1v1h-1zM225 344h1v1h-1zM208 344h1v1h-1zM209 345h1v1h-1zM207 345h1v1h-1zM202 345h1v1h-1zM202 345h1v1h-1zM224 345h1v1h-1zM211 345h1v1h-1zM206 345h1v1h-1zM205 345h1v1h-1zM208 345h1v1h-1zM201 345h1v1h-1zM213 345h1v1h-1zM220 345h1v1h-1zM205 345h1v1h-1zM220 345h1v1h-1zM215 345h1v1h-1zM221 345h1v1h-1zM213 345h1v1h-1zM196 345h1v1h-1zM211 346h1v1h-1zM213 346h1v1h-1zM225 346h1v1h-1zM205 346h1v1h-1zM221 346h1v1h-1zM212 346h1v1h-1zM226 346h1v1h-1zM232 346h1v1h-1zM194 346h1v1h-1zM216 346h1v1h-1zM217 346h1v1h-1zM225 346h1v1h-1zM205 346h1v1h-1zM223 346h1v1h-1zM225 346h1v1h-1zM209 346h1v1h-1zM212 346h1v1h-1zM202 347h1v1h-1zM207 347h1v1h-1zM217 347h1v1h-1zM219 347h1v1h-1zM216 347h1v1h-1zM215 347h1v1h-1zM202 347h1v1h-1zM232 347h1v1h-1zM205 347h1v1h-1zM223 347h1v1h-1zM207 347h1v1h-1zM203 347h1v1h-1zM223 347h1v1h-1zM201 347h1v1h-1zM211 347h1v1h-1zM219 347h1v1h-1zM205 347h1v1h-1zM209 348h1v1h-1zM222 348h1v1h-1zM199 348h1v1h-1zM225 348h1v1h-1zM207 348h1v1h-1zM224 348h1v1h-1zM204 348h1v1h-1zM207 348h1v1h-1zM224 348h1v1h-1zM213 348h1v1h-1zM218 348h1v1h-1zM213 348h1v1h-1zM214 348h1v1h-1zM226 348h1v1h-1zM215 348h1v1h-1zM228 348h1v1h-1zM222 349h1v1h-1zM206 349h1v1h-1zM218 349h1v1h-1zM219 349h1v1h-1zM206 349h1v1h-1zM222 349h1v1h-1zM210 349h1v1h-1zM221 349h1v1h-1zM196 349h1v1h-1zM212 349h1v1h-1zM222 349h1v1h-1zM208 349h1v1h-1zM222 349h1v1h-1zM217 349h1v1h-1zM207 349h1v1h-1zM199 349h1v1h-1zM209 350h1v1h-1zM203 350h1v1h-1zM204 350h1v1h-1zM221 350h1v1h-1zM219 350h1v1h-1zM224 350h1v1h-1zM209 350h1v1h-1zM229 350h1v1h-1zM210 350h1v1h-1zM226 350h1v1h-1zM201 350h1v1h-1zM212 350h1v1h-1zM224 350h1v1h-1zM229 350h1v1h-1zM215 350h1v1h-1zM208 351h1v1h-1zM208 351h1v1h-1zM227 351h1v1h-1zM215 351h1v1h-1zM225 351h1v1h-1zM218 351h1v1h-1zM202 351h1v1h-1zM216 351h1v1h-1zM223 351h1v1h-1zM222 351h1v1h-1zM217 351h1v1h-1zM224 351h1v1h-1zM220 351h1v1h-1zM220 351h1v1h-1zM229 352h1v1h-1zM214 352h1v1h-1zM203 352h1v1h-1zM225 352h1v1h-1zM218 352h1v1h-1zM221 352h1v1h-1zM209 352h1v1h-1zM221 352h1v1h-1zM219 352h1v1h-1zM220 352h1v1h-1zM207 352h1v1h-1zM218 352h1v1h-1zM208 352h1v1h-1zM226 352h1v1h-1zM211 353h1v1h-1zM217 353h1v1h-1zM216 353h1v1h-1zM220 353h1v1h-1zM211 353h1v1h-1zM228 353h1v1h-1zM220 353h1v1h-1zM221 353h1v1h-1zM208 353h1v1h-1zM216 353h1v1h-1zM223 353h1v1h-1zM216 353h1v1h-1zM223 353h1v1h-1zM199 354h1v1h-1zM219 354h1v1h-1zM207 354h1v1h-1zM221 354h1v1h-1zM212 354h1v1h-1zM227 354h1v1h-1zM217 354h1v1h-1zM210 354h1v1h-1zM223 354h1v1h-1zM221 354h1v1h-1zM221 354h1v1h-1zM199 354h1v1h-1zM211 355h1v1h-1zM222 355h1v1h-1zM220 355h1v1h-1zM214 355h1v1h-1zM202 355h1v1h-1zM229 355h1v1h-1zM222 355h1v1h-1zM199 355h1v1h-1zM215 355h1v1h-1zM211 355h1v1h-1zM210 355h1v1h-1zM216 355h1v1h-1zM230 355h1v1h-1zM204 356h1v1h-1zM224 356h1v1h-1zM210 356h1v1h-1zM212 356h1v1h-1zM219 356h1v1h-1zM224 356h1v1h-1zM208 356h1v1h-1zM205 356h1v1h-1zM203 356h1v1h-1zM206 356h1v1h-1zM224 356h1v1h-1zM215 357h1v1h-1zM222 357h1v1h-1zM209 357h1v1h-1zM217 357h1v1h-1zM211 357h1v1h-1zM219 357h1v1h-1zM207 357h1v1h-1zM207 357h1v1h-1zM208 357h1v1h-1zM207 357h1v1h-1zM217 357h1v1h-1zM217 357h1v1h-1zM214 358h1v1h-1zM215 358h1v1h-1zM209 358h1v1h-1zM220 358h1v1h-1zM222 358h1v1h-1zM222 358h1v1h-1zM222 358h1v1h-1zM225 358h1v1h-1zM223 358h1v1h-1zM225 358h1v1h-1zM214 358h1v1h-1zM204 359h1v1h-1zM208 359h1v1h-1zM233 359h1v1h-1zM210 359h1v1h-1zM225 359h1v1h-1zM207 359h1v1h-1zM218 359h1v1h-1zM212 359h1v1h-1zM223 359h1v1h-1zM224 359h1v1h-1zM213 359h1v1h-1zM211 360h1v1h-1zM224 360h1v1h-1zM223 360h1v1h-1zM222 360h1v1h-1zM206 360h1v1h-1zM205 360h1v1h-1zM220 360h1v1h-1zM208 360h1v1h-1zM216 360h1v1h-1zM207 360h1v1h-1zM223 361h1v1h-1zM219 361h1v1h-1zM223 361h1v1h-1zM220 361h1v1h-1zM218 361h1v1h-1zM204 361h1v1h-1zM214 361h1v1h-1zM223 361h1v1h-1zM219 361h1v1h-1zM206 361h1v1h-1zM200 362h1v1h-1zM211 362h1v1h-1zM219 362h1v1h-1zM215 362h1v1h-1zM218 362h1v1h-1zM221 362h1v1h-1zM210 362h1v1h-1zM216 362h1v1h-1zM220 362h1v1h-1zM223 363h1v1h-1zM213 363h1v1h-1zM207 363h1v1h-1zM225 363h1v1h-1zM224 363h1v1h-1zM214 363h1v1h-1zM215 363h1v1h-1zM218 363h1v1h-1zM216 363h1v1h-1zM222 364h1v1h-1zM212 364h1v1h-1zM217 364h1v1h-1zM213 364h1v1h-1zM226 364h1v1h-1zM215 364h1v1h-1zM214 364h1v1h-1zM209 364h1v1h-1zM212 364h1v1h-1zM217 365h1v1h-1zM228 365h1v1h-1zM219 365h1v1h-1zM208 365h1v1h-1zM216 365h1v1h-1zM212 365h1v1h-1zM222 365h1v1h-1zM230 365h1v1h-1zM211 366h1v1h-1zM222 366h1v1h-1zM221 366h1v1h-1zM207 366h1v1h-1zM220 366h1v1h-1zM230 366h1v1h-1zM207 366h1v1h-1zM222 366h1v1h-1zM211 367h1v1h-1zM214 367h1v1h-1zM209 367h1v1h-1zM215 367h1v1h-1zM223 367h1v1h-1zM225 367h1v1h-1zM213 367h1v1h-1zM228 368h1v1h-1zM220 368h1v1h-1zM209 368h1v1h-1zM221 368h1v1h-1zM210 368h1v1h-1zM211 368h1v1h-1zM216 368h1v1h-1zM213 369h1v1h-1zM210 369h1v1h-1zM225 369h1v1h-1zM209 369h1v1h-1zM224 369h1v1h-1zM220 369h1v1h-1zM223 370h1v1h-1zM214 370h1v1h-1zM217 370h1v1h-1zM220 370h1v1h-1zM209 370h1v1h-1zM204 370h1v1h-1zM227 371h1v1h-1zM224 371h1v1h-1zM211 371h1v1h-1zM219 371h1v1h-1zM228 371h1v1h-1zM206 372h1v1h-1zM217 372h1v1h-1zM216 372h1v1h-1zM214 372h1v1h-1zM219 372h1v1h-1zM221 373h1v1h-1zM213 373h1v1h-1zM207 373h1v1h-1zM216 373h1v1h-1zM222 373h1v1h-1zM220 374h1v1h-1zM211 374h1v1h-1zM216 374h1v1h-1zM217 374h1v1h-1zM215 374h1v1h-1zM205 375h1v1h-1zM220 375h1v1h-1zM213 375h1v1h-1zM210 375h1v1h-1zM216 376h1v1h-1zM211 376h1v1h-1zM222 376h1v1h-1zM219 376h1v1h-1zM208 376h1v1h-1zM222 377h1v1h-1zM215 377h1v1h-1zM223 377h1v1h-1zM209 377h1v1h-1zM214 378h1v1h-1zM219 378h1v1h-1zM219 378h1v1h-1zM212 378h1v1h-1zM223 379h1v1h-1zM209 379h1v1h-1zM226 379h1v1h-1zM221 379h1v1h-1zM214 380h1v1h-1zM214 380h1v1h-1zM222 380h1v1h-1zM212 381h1v1h-1zM220 381h1v1h-1zM210 381h1v1h-1zM221 382h1v1h-1zM220 382h1v1h-1zM215 382h1v1h-1zM216 383h1v1h-1zM214 383h1v1h-1zM218 383h1v1h-1zM215 384h1v1h-1zM209 384h1v1h-1zM223 385h1v1h-1zM222 385h1v1h-1zM211 385h1v1h-1zM214 386h1v1h-1zM215 386h1v1h-1zM213 386h1v1h-1zM214 387h1v1h-1zM210 387h1v1h-1zM217 388h1v1h-1zM217 388h1v1h-1zM222 388h1v1h-1zM211 389h1v1h-1zM217 389h1v1h-1zM214 390h1v1h-1zM220 390h1v1h-1zM199 359h1v1h-1zM208 388h1v1h-1zM232 325h1v1h-1zM222 341h1v1h-1zM200 381h1v1h-1zM231 374h1v1h-1zM220 388h1v1h-1zM217 366h1v1h-1zM221 379h1v1h-1zM229 338h1v1h-1zM204 356h1v1h-1zM218 341h1v1h-1zM229 379h1v1h-1zM222 355h1v1h-1zM222 330h1v1h-1z" fill="#383838"/>
<rect x="194.5" y="260.5" width="37.0" height="51.0" fill="none" stroke="#3c3c3c" stroke-width="1.2"/>
<line x1="115.00" y1="227.00" x2="115.00" y2="392.00" stroke="#2a2a2a" stroke-width="1.8" />
<line x1="112.00" y1="391.00" x2="280.50" y2="391.00" stroke="#2a2a2a" stroke-width="1.8" />
<line x1="111.50" y1="391.00" x2="115.00" y2="391.00" stroke="#222" stroke-width="1.2" />
<line x1="115.00" y1="391.00" x2="115.00" y2="395.00" stroke="#222" stroke-width="1.2" />
<line x1="127.42" y1="391.00" x2="127.42" y2="393.60" stroke="#222" stroke-width="1.0" />
<line x1="134.68" y1="391.00" x2="134.68" y2="393.60" stroke="#222" stroke-width="1.0" />
<line x1="139.83" y1="391.00" x2="139.83" y2="393.60" stroke="#222" stroke-width="1.0" />
<line x1="113.00" y1="362.17" x2="115.00" y2="362.17" stroke="#333" stroke-width="1.0" />
<line x1="143.83" y1="391.00" x2="143.83" y2="393.60" stroke="#222" stroke-width="1.0" />
<line x1="147.10" y1="391.00" x2="147.10" y2="393.60" stroke="#222" stroke-width="1.0" />
<line x1="149.86" y1="391.00" x2="149.86" y2="393.60" stroke="#222" stroke-width="1.0" />
<line x1="152.25" y1="391.00" x2="152.25" y2="393.60" stroke="#222" stroke-width="1.0" />
<line x1="154.36" y1="391.00" x2="154.36" y2="393.60" stroke="#222" stroke-width="1.0" />
<line x1="111.50" y1="349.75" x2="115.00" y2="349.75" stroke="#222" stroke-width="1.2" />
<line x1="156.25" y1="391.00" x2="156.25" y2="395.00" stroke="#222" stroke-width="1.2" />
<line x1="168.67" y1="391.00" x2="168.67" y2="393.60" stroke="#222" stroke-width="1.0" />
<line x1="175.93" y1="391.00" x2="175.93" y2="393.60" stroke="#222" stroke-width="1.0" />
<line x1="181.08" y1="391.00" x2="181.08" y2="393.60" stroke="#222" stroke-width="1.0" />
<line x1="113.00" y1="320.92" x2="115.00" y2="320.92" stroke="#333" stroke-width="1.0" />
<line x1="185.08" y1="391.00" x2="185.08" y2="393.60" stroke="#222" stroke-width="1.0" />
<line x1="188.35" y1="391.00" x2="188.35" y2="393.60" stroke="#222" stroke-width="1.0" />
<line x1="191.11" y1="391.00" x2="191.11" y2="393.60" stroke="#222" stroke-width="1.0" />
<line x1="193.50" y1="391.00" x2="193.50" y2="393.60" stroke="#222" stroke-width="1.0" />
<line x1="195.61" y1="391.00" x2="195.61" y2="393.60" stroke="#222" stroke-width="1.0" />
<line x1="111.50" y1="308.50" x2="115.00" y2="308.50" stroke="#222" stroke-width="1.2" />
<line x1="197.50" y1="391.00" x2="197.50" y2="395.00" stroke="#222" stroke-width="1.2" />
<line x1="209.92" y1="391.00" x2="209.92" y2="393.60" stroke="#222" stroke-width="1.0" />
<line x1="217.18" y1="391.00" x2="217.18" y2="393.60" stroke="#222" stroke-width="1.0" />
<line x1="222.33" y1="391.00" x2="222.33" y2="393.60" stroke="#222" stroke-width="1.0" />
<line x1="113.00" y1="279.67" x2="115.00" y2="279.67" stroke="#333" stroke-width="1.0" />
<line x1="226.33" y1="391.00" x2="226.33" y2="393.60" stroke="#222" stroke-width="1.0" />
<line x1="229.60" y1="391.00" x2="229.60" y2="393.60" stroke="#222" stroke-width="1.0" />
<line x1="232.36" y1="391.00" x2="232.36" y2="393.60" stroke="#222" stroke-width="1.0" />
<line x1="234.75" y1="391.00" x2="234.75" y2="393.60" stroke="#222" stroke-width="1.0" />
<line x1="236.86" y1="391.00" x2="236.86" y2="393.60" stroke="#222" stroke-width="1.0" />
<line x1="111.50" y1="267.25" x2="115.00" y2="267.25" stroke="#222" stroke-width="1.2" />
<line x1="238.75" y1="391.00" x2="238.75" y2="395.00" stroke="#222" stroke-width="1.2" />
<line x1="251.17" y1="391.00" x2="251.17" y2="393.60" stroke="#222" stroke-width="1.0" />
<line x1="258.43" y1="391.00" x2="258.43" y2="393.60" stroke="#222" stroke-width="1.0" />
<line x1="263.58" y1="391.00" x2="263.58" y2="393.60" stroke="#222" stroke-width="1.0" />
<line x1="113.00" y1="238.42" x2="115.00" y2="238.42" stroke="#333" stroke-width="1.0" />
<line x1="267.58" y1="391.00" x2="267.58" y2="393.60" stroke="#222" stroke-width="1.0" />
<line x1="270.85" y1="391.00" x2="270.85" y2="393.60" stroke="#222" stroke-width="1.0" />
<line x1="273.61" y1="391.00" x2="273.61" y2="393.60" stroke="#222" stroke-width="1.0" />
<line x1="276.00" y1="391.00" x2="276.00" y2="393.60" stroke="#222" stroke-width="1.0" />
<line x1="278.11" y1="391.00" x2="278.11" y2="393.60" stroke="#222" stroke-width="1.0" />
<line x1="111.50" y1="226.00" x2="115.00" y2="226.00" stroke="#222" stroke-width="1.2" />
<line x1="280.00" y1="391.00" x2="280.00" y2="395.00" stroke="#222" stroke-width="1.2" />
<text x="108.00" y="394.00" font-family="Liberation Sans" font-size="8.5" font-weight="bold" text-anchor="end" fill="#000" letter-spacing="-0.2" stroke="#000" stroke-width="0.45">10<tspan font-size="5.5" dy="-3.8">0</tspan></text>
<text x="114.70" y="406.50" font-family="Liberation Sans" font-size="8.5" font-weight="bold" text-anchor="middle" fill="#000" letter-spacing="-0.2" stroke="#000" stroke-width="0.45">10<tspan font-size="5.5" dy="-3.8">0</tspan></text>
<text x="108.00" y="352.75" font-family="Liberation Sans" font-size="8.5" font-weight="bold" text-anchor="end" fill="#000" letter-spacing="-0.2" stroke="#000" stroke-width="0.45">10<tspan font-size="5.5" dy="-3.8">1</tspan></text>
<text x="155.95" y="406.50" font-family="Liberation Sans" font-size="8.5" font-weight="bold" text-anchor="middle" fill="#000" letter-spacing="-0.2" stroke="#000" stroke-width="0.45">10<tspan font-size="5.5" dy="-3.8">1</tspan></text>
<text x="108.00" y="311.50" font-family="Liberation Sans" font-size="8.5" font-weight="bold" text-anchor="end" fill="#000" letter-spacing="-0.2" stroke="#000" stroke-width="0.45">10<tspan font-size="5.5" dy="-3.8">2</tspan></text>
<text x="197.20" y="406.50" font-family="Liberation Sans" font-size="8.5" font-weight="bold" text-anchor="middle" fill="#000" letter-spacing="-0.2" stroke="#000" stroke-width="0.45">10<tspan font-size="5.5" dy="-3.8">2</tspan></text>
<text x="108.00" y="270.25" font-family="Liberation Sans" font-size="8.5" font-weight="bold" text-anchor="end" fill="#000" letter-spacing="-0.2" stroke="#000" stroke-width="0.45">10<tspan font-size="5.5" dy="-3.8">3</tspan></text>
<text x="238.45" y="406.50" font-family="Liberation Sans" font-size="8.5" font-weight="bold" text-anchor="middle" fill="#000" letter-spacing="-0.2" stroke="#000" stroke-width="0.45">10<tspan font-size="5.5" dy="-3.8">3</tspan></text>
<text x="108.00" y="229.00" font-family="Liberation Sans" font-size="8.5" font-weight="bold" text-anchor="end" fill="#000" letter-spacing="-0.2" stroke="#000" stroke-width="0.45">10<tspan font-size="5.5" dy="-3.8">4</tspan></text>
<text x="279.70" y="406.50" font-family="Liberation Sans" font-size="8.5" font-weight="bold" text-anchor="middle" fill="#000" letter-spacing="-0.2" stroke="#000" stroke-width="0.45">10<tspan font-size="5.5" dy="-3.8">4</tspan></text>
<text transform="translate(275.40 244.20) scale(1.0 1.07)" font-family="Liberation Serif" font-size="19.6" text-anchor="end">9.13</text>
<rect x="316.90" y="227.00" width="165.20" height="164.00" fill="#fafafa" />
<path d="M313.4 227.2 H482.4 V391" fill="none" stroke="#333" stroke-width="1.4"/>
<path d="M407 263h1v1h-1zM415 264h1v1h-1zM416 268h1v1h-1zM411 269h1v1h-1zM423 270h1v1h-1zM407 271h1v1h-1zM423 272h1v1h-1zM413 273h1v1h-1zM417 274h1v1h-1zM426 275h1v1h-1zM414 276h1v1h-1zM428 277h1v1h-1zM413 278h1v1h-1zM411 279h1v1h-1zM422 280h1v1h-1zM412 281h1v1h-1zM410 282h1v1h-1zM422 283h1v1h-1zM418 284h1v1h-1zM415 285h1v1h-1zM424 286h1v1h-1zM421 287h1v1h-1zM410 288h1v1h-1zM409 289h1v1h-1zM428 290h1v1h-1zM411 292h1v1h-1zM421 295h1v1h-1zM407 296h1v1h-1zM405 297h1v1h-1zM412 298h1v1h-1zM411 299h1v1h-1zM407 300h1v1h-1zM410 303h1v1h-1zM409 305h1v1h-1zM415 317h1v1h-1zM417 317h1v1h-1zM418 318h1v1h-1zM413 318h1v1h-1zM409 319h1v1h-1zM423 319h1v1h-1zM421 319h1v1h-1zM413 320h1v1h-1zM413 320h1v1h-1zM416 320h1v1h-1zM412 320h1v1h-1zM414 321h1v1h-1zM421 321h1v1h-1zM418 321h1v1h-1zM418 321h1v1h-1zM424 321h1v1h-1zM423 322h1v1h-1zM425 322h1v1h-1zM421 322h1v1h-1zM417 322h1v1h-1zM420 322h1v1h-1zM431 322h1v1h-1zM430 323h1v1h-1zM408 323h1v1h-1zM429 323h1v1h-1zM425 323h1v1h-1zM411 323h1v1h-1zM421 323h1v1h-1zM423 323h1v1h-1zM407 323h1v1h-1zM408 324h1v1h-1zM422 324h1v1h-1zM425 324h1v1h-1zM422 324h1v1h-1zM410 324h1v1h-1zM423 324h1v1h-1zM419 324h1v1h-1zM408 324h1v1h-1zM405 324h1v1h-1zM417 325h1v1h-1zM406 325h1v1h-1zM421 325h1v1h-1zM410 325h1v1h-1zM404 325h1v1h-1zM414 325h1v1h-1zM416 325h1v1h-1zM404 325h1v1h-1zM409 325h1v1h-1zM405 325h1v1h-1zM411 326h1v1h-1zM425 326h1v1h-1zM424 326h1v1h-1zM409 326h1v1h-1zM421 326h1v1h-1zM426 326h1v1h-1zM415 326h1v1h-1zM407 326h1v1h-1zM418 326h1v1h-1zM425 326h1v1h-1zM413 326h1v1h-1zM416 327h1v1h-1zM405 327h1v1h-1zM413 327h1v1h-1zM420 327h1v1h-1zM424 327h1v1h-1zM416 327h1v1h-1zM416 327h1v1h-1zM424 327h1v1h-1zM416 327h1v1h-1zM416 327h1v1h-1zM419 327h1v1h-1zM424 328h1v1h-1zM411 328h1v1h-1zM424 328h1v1h-1zM412 328h1v1h-1zM417 328h1v1h-1zM413 328h1v1h-1zM414 328h1v1h-1zM428 328h1v1h-1zM417 328h1v1h-1zM413 328h1v1h-1zM427 328h1v1h-1zM426 329h1v1h-1zM403 329h1v1h-1zM415 329h1v1h-1zM427 329h1v1h-1zM424 329h1v1h-1zM420 329h1v1h-1zM421 329h1v1h-1zM420 329h1v1h-1zM415 329h1v1h-1zM418 329h1v1h-1zM425 329h1v1h-1zM411 330h1v1h-1zM426 330h1v1h-1zM415 330h1v1h-1zM416 330h1v1h-1zM413 330h1v1h-1zM408 330h1v1h-1zM425 330h1v1h-1zM415 330h1v1h-1zM425 330h1v1h-1zM417 330h1v1h-1zM431 330h1v1h-1zM424 330h1v1h-1zM410 331h1v1h-1zM417 331h1v1h-1zM420 331h1v1h-1zM409 331h1v1h-1zM429 331h1v1h-1zM411 331h1v1h-1zM414 331h1v1h-1zM427 331h1v1h-1zM413 331h1v1h-1zM411 331h1v1h-1zM409 331h1v1h-1zM410 331h1v1h-1zM421 332h1v1h-1zM418 332h1v1h-1zM419 332h1v1h-1zM418 332h1v1h-1zM420 332h1v1h-1zM416 332h1v1h-1zM425 332h1v1h-1zM418 332h1v1h-1zM426 332h1v1h-1zM408 332h1v1h-1zM428 332h1v1h-1zM414 333h1v1h-1zM426 333h1v1h-1zM408 333h1v1h-1zM409 333h1v1h-1zM426 333h1v1h-1zM416 333h1v1h-1zM416 333h1v1h-1zM422 333h1v1h-1zM426 333h1v1h-1zM420 333h1v1h-1zM418 333h1v1h-1zM414 333h1v1h-1zM422 334h1v1h-1zM419 334h1v1h-1zM425 334h1v1h-1zM419 334h1v1h-1zM414 334h1v1h-1zM409 334h1v1h-1zM424 334h1v1h-1zM423 334h1v1h-1zM431 334h1v1h-1zM417 334h1v1h-1zM418 334h1v1h-1zM426 334h1v1h-1zM418 334h1v1h-1zM420 335h1v1h-1zM419 335h1v1h-1zM409 335h1v1h-1zM428 335h1v1h-1zM406 335h1v1h-1zM430 335h1v1h-1zM402 335h1v1h-1zM422 335h1v1h-1zM403 335h1v1h-1zM426 335h1v1h-1zM410 335h1v1h-1zM418 335h1v1h-1zM409 336h1v1h-1zM414 336h1v1h-1zM414 336h1v1h-1zM428 336h1v1h-1zM406 336h1v1h-1zM423 336h1v1h-1zM411 336h1v1h-1zM416 336h1v1h-1zM428 336h1v1h-1zM412 336h1v1h-1zM417 336h1v1h-1zM423 336h1v1h-1zM421 337h1v1h-1zM406 337h1v1h-1zM429 337h1v1h-1zM408 337h1v1h-1zM427 337h1v1h-1zM411 337h1v1h-1zM428 337h1v1h-1zM424 337h1v1h-1zM406 337h1v1h-1zM404 337h1v1h-1zM412 337h1v1h-1zM412 337h1v1h-1zM427 337h1v1h-1zM415 338h1v1h-1zM401 338h1v1h-1zM427 338h1v1h-1zM411 338h1v1h-1zM424 338h1v1h-1zM408 338h1v1h-1zM409 338h1v1h-1zM428 338h1v1h-1zM416 338h1v1h-1zM410 338h1v1h-1zM432 338h1v1h-1zM427 338h1v1h-1zM411 338h1v1h-1zM422 339h1v1h-1zM408 339h1v1h-1zM418 339h1v1h-1zM415 339h1v1h-1zM422 339h1v1h-1zM425 339h1v1h-1zM408 339h1v1h-1zM411 339h1v1h-1zM414 339h1v1h-1zM418 339h1v1h-1zM425 339h1v1h-1zM429 339h1v1h-1zM431 339h1v1h-1zM408 340h1v1h-1zM428 340h1v1h-1zM427 340h1v1h-1zM412 340h1v1h-1zM421 340h1v1h-1zM415 340h1v1h-1zM414 340h1v1h-1zM411 340h1v1h-1zM407 340h1v1h-1zM410 340h1v1h-1zM407 340h1v1h-1zM431 340h1v1h-1zM421 340h1v1h-1zM409 340h1v1h-1zM415 341h1v1h-1zM403 341h1v1h-1zM416 341h1v1h-1zM404 341h1v1h-1zM409 341h1v1h-1zM416 341h1v1h-1zM422 341h1v1h-1zM424 341h1v1h-1zM425 341h1v1h-1zM409 341h1v1h-1zM409 341h1v1h-1zM413 341h1v1h-1zM427 341h1v1h-1zM429 342h1v1h-1zM421 342h1v1h-1zM422 342h1v1h-1zM425 342h1v1h-1zM428 342h1v1h-1zM412 342h1v1h-1zM417 342h1v1h-1zM418 342h1v1h-1zM418 342h1v1h-1zM426 342h1v1h-1zM415 342h1v1h-1zM428 342h1v1h-1zM410 342h1v1h-1zM399 343h1v1h-1zM424 343h1v1h-1zM406 343h1v1h-1zM416 343h1v1h-1zM425 343h1v1h-1zM433 343h1v1h-1zM426 343h1v1h-1zM434 343h1v1h-1zM429 343h1v1h-1zM412 343h1v1h-1zM416 343h1v1h-1zM421 343h1v1h-1zM416 344h1v1h-1zM421 344h1v1h-1zM406 344h1v1h-1zM409 344h1v1h-1zM422 344h1v1h-1zM414 344h1v1h-1zM422 344h1v1h-1zM410 344h1v1h-1zM430 344h1v1h-1zM422 344h1v1h-1zM414 344h1v1h-1zM426 344h1v1h-1zM418 345h1v1h-1zM414 345h1v1h-1zM414 345h1v1h-1zM416 345h1v1h-1zM421 345h1v1h-1zM428 345h1v1h-1zM425 345h1v1h-1zM412 345h1v1h-1zM412 345h1v1h-1zM415 345h1v1h-1zM408 345h1v1h-1zM414 345h1v1h-1zM416 346h1v1h-1zM409 346h1v1h-1zM425 346h1v1h-1zM429 346h1v1h-1zM413 346h1v1h-1zM406 346h1v1h-1zM418 346h1v1h-1zM411 346h1v1h-1zM426 346h1v1h-1zM417 346h1v1h-1zM422 346h1v1h-1zM409 347h1v1h-1zM417 347h1v1h-1zM416 347h1v1h-1zM415 347h1v1h-1zM411 347h1v1h-1zM414 347h1v1h-1zM414 347h1v1h-1zM420 347h1v1h-1zM425 347h1v1h-1zM415 347h1v1h-1zM405 347h1v1h-1zM413 348h1v1h-1zM409 348h1v1h-1zM416 348h1v1h-1zM420 348h1v1h-1zM410 348h1v1h-1zM409 348h1v1h-1zM431 348h1v1h-1zM429 348h1v1h-1zM430 348h1v1h-1zM412 348h1v1h-1zM424 348h1v1h-1zM423 349h1v1h-1zM412 349h1v1h-1zM426 349h1v1h-1zM419 349h1v1h-1zM408 349h1v1h-1zM418 349h1v1h-1zM413 349h1v1h-1zM416 349h1v1h-1zM423 349h1v1h-1zM405 349h1v1h-1zM417 350h1v1h-1zM414 350h1v1h-1zM414 350h1v1h-1zM418 350h1v1h-1zM425 350h1v1h-1zM425 350h1v1h-1zM419 350h1v1h-1zM420 350h1v1h-1zM425 350h1v1h-1zM427 350h1v1h-1zM409 351h1v1h-1zM421 351h1v1h-1zM414 351h1v1h-1zM413 351h1v1h-1zM411 351h1v1h-1zM410 351h1v1h-1zM406 351h1v1h-1zM425 351h1v1h-1zM409 351h1v1h-1zM404 352h1v1h-1zM421 352h1v1h-1zM412 352h1v1h-1zM418 352h1v1h-1zM412 352h1v1h-1zM423 352h1v1h-1zM415 352h1v1h-1zM414 352h1v1h-1zM415 352h1v1h-1zM423 352h1v1h-1zM421 353h1v1h-1zM410 353h1v1h-1zM422 353h1v1h-1zM428 353h1v1h-1zM415 353h1v1h-1zM419 353h1v1h-1zM420 353h1v1h-1zM422 353h1v1h-1zM427 353h1v1h-1zM417 354h1v1h-1zM418 354h1v1h-1zM404 354h1v1h-1zM411 354h1v1h-1zM427 354h1v1h-1zM419 354h1v1h-1zM416 354h1v1h-1zM411 354h1v1h-1zM413 355h1v1h-1zM420 355h1v1h-1zM424 355h1v1h-1zM425 355h1v1h-1zM429 355h1v1h-1zM425 355h1v1h-1zM415 355h1v1h-1zM419 355h1v1h-1zM423 355h1v1h-1zM409 356h1v1h-1zM417 356h1v1h-1zM407 356h1v1h-1zM423 356h1v1h-1zM424 356h1v1h-1zM423 356h1v1h-1zM413 356h1v1h-1zM415 356h1v1h-1zM405 357h1v1h-1zM414 357h1v1h-1zM423 357h1v1h-1zM432 357h1v1h-1zM411 357h1v1h-1zM406 357h1v1h-1zM411 357h1v1h-1zM415 357h1v1h-1zM409 358h1v1h-1zM425 358h1v1h-1zM413 358h1v1h-1zM425 358h1v1h-1zM423 358h1v1h-1zM410 358h1v1h-1zM408 358h1v1h-1zM421 358h1v1h-1zM411 359h1v1h-1zM410 359h1v1h-1zM412 359h1v1h-1zM418 359h1v1h-1zM409 359h1v1h-1zM415 359h1v1h-1zM410 359h1v1h-1zM414 360h1v1h-1zM415 360h1v1h-1zM411 360h1v1h-1zM416 360h1v1h-1zM419 360h1v1h-1zM410 360h1v1h-1zM422 360h1v1h-1zM417 361h1v1h-1zM426 361h1v1h-1zM414 361h1v1h-1zM417 361h1v1h-1zM413 361h1v1h-1zM420 361h1v1h-1zM417 361h1v1h-1zM423 362h1v1h-1zM423 362h1v1h-1zM414 362h1v1h-1zM425 362h1v1h-1zM413 362h1v1h-1zM415 362h1v1h-1zM420 363h1v1h-1zM426 363h1v1h-1zM414 363h1v1h-1zM421 363h1v1h-1zM415 363h1v1h-1zM422 363h1v1h-1zM409 363h1v1h-1zM417 364h1v1h-1zM414 364h1v1h-1zM426 364h1v1h-1zM415 364h1v1h-1zM413 364h1v1h-1zM420 364h1v1h-1zM408 365h1v1h-1zM417 365h1v1h-1zM408 365h1v1h-1zM412 365h1v1h-1zM410 365h1v1h-1zM422 365h1v1h-1zM425 366h1v1h-1zM423 366h1v1h-1zM413 366h1v1h-1zM413 366h1v1h-1zM421 366h1v1h-1zM414 366h1v1h-1zM417 367h1v1h-1zM420 367h1v1h-1zM422 367h1v1h-1zM418 367h1v1h-1zM422 367h1v1h-1zM420 368h1v1h-1zM413 368h1v1h-1zM418 368h1v1h-1zM421 368h1v1h-1zM420 368h1v1h-1zM426 369h1v1h-1zM415 369h1v1h-1zM417 369h1v1h-1zM415 369h1v1h-1zM425 369h1v1h-1zM420 370h1v1h-1zM415 370h1v1h-1zM411 370h1v1h-1zM418 370h1v1h-1zM413 371h1v1h-1zM412 371h1v1h-1zM415 371h1v1h-1zM416 371h1v1h-1zM415 372h1v1h-1zM413 372h1v1h-1zM416 372h1v1h-1zM415 372h1v1h-1zM418 373h1v1h-1zM416 373h1v1h-1zM417 373h1v1h-1zM412 373h1v1h-1zM416 374h1v1h-1zM424 374h1v1h-1zM423 374h1v1h-1zM419 374h1v1h-1zM418 375h1v1h-1zM414 375h1v1h-1zM418 375h1v1h-1zM421 375h1v1h-1zM418 376h1v1h-1zM410 376h1v1h-1zM416 376h1v1h-1zM421 377h1v1h-1zM413 377h1v1h-1zM421 377h1v1h-1zM412 378h1v1h-1zM426 378h1v1h-1zM423 378h1v1h-1zM412 378h1v1h-1zM416 379h1v1h-1zM415 379h1v1h-1zM422 379h1v1h-1zM423 380h1v1h-1zM411 380h1v1h-1zM422 380h1v1h-1zM413 381h1v1h-1zM420 381h1v1h-1zM422 382h1v1h-1zM418 382h1v1h-1zM416 382h1v1h-1zM419 383h1v1h-1zM417 383h1v1h-1zM417 383h1v1h-1zM413 384h1v1h-1zM421 384h1v1h-1zM417 384h1v1h-1zM413 385h1v1h-1zM423 385h1v1h-1zM415 386h1v1h-1zM420 386h1v1h-1zM413 387h1v1h-1zM419 387h1v1h-1zM419 388h1v1h-1zM416 388h1v1h-1zM420 389h1v1h-1zM417 389h1v1h-1zM421 390h1v1h-1zM422 390h1v1h-1z" fill="#383838"/>
<rect x="396.5" y="260.5" width="37.0" height="51.0" fill="none" stroke="#3c3c3c" stroke-width="1.2"/>
<line x1="316.90" y1="227.00" x2="316.90" y2="392.00" stroke="#2a2a2a" stroke-width="1.8" />
<line x1="313.90" y1="391.00" x2="482.60" y2="391.00" stroke="#2a2a2a" stroke-width="1.8" />
<line x1="313.40" y1="391.00" x2="316.90" y2="391.00" stroke="#222" stroke-width="1.2" />
<line x1="316.90" y1="391.00" x2="316.90" y2="395.00" stroke="#222" stroke-width="1.2" />
<line x1="329.33" y1="391.00" x2="329.33" y2="393.60" stroke="#222" stroke-width="1.0" />
<line x1="336.61" y1="391.00" x2="336.61" y2="393.60" stroke="#222" stroke-width="1.0" />
<line x1="341.77" y1="391.00" x2="341.77" y2="393.60" stroke="#222" stroke-width="1.0" />
<line x1="314.90" y1="362.13" x2="316.90" y2="362.13" stroke="#333" stroke-width="1.0" />
<line x1="345.77" y1="391.00" x2="345.77" y2="393.60" stroke="#222" stroke-width="1.0" />
<line x1="349.04" y1="391.00" x2="349.04" y2="393.60" stroke="#222" stroke-width="1.0" />
<line x1="351.80" y1="391.00" x2="351.80" y2="393.60" stroke="#222" stroke-width="1.0" />
<line x1="354.20" y1="391.00" x2="354.20" y2="393.60" stroke="#222" stroke-width="1.0" />
<line x1="356.31" y1="391.00" x2="356.31" y2="393.60" stroke="#222" stroke-width="1.0" />
<line x1="313.40" y1="349.70" x2="316.90" y2="349.70" stroke="#222" stroke-width="1.2" />
<line x1="358.20" y1="391.00" x2="358.20" y2="395.00" stroke="#222" stroke-width="1.2" />
<line x1="370.63" y1="391.00" x2="370.63" y2="393.60" stroke="#222" stroke-width="1.0" />
<line x1="377.91" y1="391.00" x2="377.91" y2="393.60" stroke="#222" stroke-width="1.0" />
<line x1="383.07" y1="391.00" x2="383.07" y2="393.60" stroke="#222" stroke-width="1.0" />
<line x1="314.90" y1="320.83" x2="316.90" y2="320.83" stroke="#333" stroke-width="1.0" />
<line x1="387.07" y1="391.00" x2="387.07" y2="393.60" stroke="#222" stroke-width="1.0" />
<line x1="390.34" y1="391.00" x2="390.34" y2="393.60" stroke="#222" stroke-width="1.0" />
<line x1="393.10" y1="391.00" x2="393.10" y2="393.60" stroke="#222" stroke-width="1.0" />
<line x1="395.50" y1="391.00" x2="395.50" y2="393.60" stroke="#222" stroke-width="1.0" />
<line x1="397.61" y1="391.00" x2="397.61" y2="393.60" stroke="#222" stroke-width="1.0" />
<line x1="313.40" y1="308.40" x2="316.90" y2="308.40" stroke="#222" stroke-width="1.2" />
<line x1="399.50" y1="391.00" x2="399.50" y2="395.00" stroke="#222" stroke-width="1.2" />
<line x1="411.93" y1="391.00" x2="411.93" y2="393.60" stroke="#222" stroke-width="1.0" />
<line x1="419.21" y1="391.00" x2="419.21" y2="393.60" stroke="#222" stroke-width="1.0" />
<line x1="424.37" y1="391.00" x2="424.37" y2="393.60" stroke="#222" stroke-width="1.0" />
<line x1="314.90" y1="279.53" x2="316.90" y2="279.53" stroke="#333" stroke-width="1.0" />
<line x1="428.37" y1="391.00" x2="428.37" y2="393.60" stroke="#222" stroke-width="1.0" />
<line x1="431.64" y1="391.00" x2="431.64" y2="393.60" stroke="#222" stroke-width="1.0" />
<line x1="434.40" y1="391.00" x2="434.40" y2="393.60" stroke="#222" stroke-width="1.0" />
<line x1="436.80" y1="391.00" x2="436.80" y2="393.60" stroke="#222" stroke-width="1.0" />
<line x1="438.91" y1="391.00" x2="438.91" y2="393.60" stroke="#222" stroke-width="1.0" />
<line x1="313.40" y1="267.10" x2="316.90" y2="267.10" stroke="#222" stroke-width="1.2" />
<line x1="440.80" y1="391.00" x2="440.80" y2="395.00" stroke="#222" stroke-width="1.2" />
<line x1="453.23" y1="391.00" x2="453.23" y2="393.60" stroke="#222" stroke-width="1.0" />
<line x1="460.51" y1="391.00" x2="460.51" y2="393.60" stroke="#222" stroke-width="1.0" />
<line x1="465.67" y1="391.00" x2="465.67" y2="393.60" stroke="#222" stroke-width="1.0" />
<line x1="314.90" y1="238.23" x2="316.90" y2="238.23" stroke="#333" stroke-width="1.0" />
<line x1="469.67" y1="391.00" x2="469.67" y2="393.60" stroke="#222" stroke-width="1.0" />
<line x1="472.94" y1="391.00" x2="472.94" y2="393.60" stroke="#222" stroke-width="1.0" />
<line x1="475.70" y1="391.00" x2="475.70" y2="393.60" stroke="#222" stroke-width="1.0" />
<line x1="478.10" y1="391.00" x2="478.10" y2="393.60" stroke="#222" stroke-width="1.0" />
<line x1="480.21" y1="391.00" x2="480.21" y2="393.60" stroke="#222" stroke-width="1.0" />
<line x1="313.40" y1="225.80" x2="316.90" y2="225.80" stroke="#222" stroke-width="1.2" />
<line x1="482.10" y1="391.00" x2="482.10" y2="395.00" stroke="#222" stroke-width="1.2" />
<text x="309.90" y="394.00" font-family="Liberation Sans" font-size="8.5" font-weight="bold" text-anchor="end" fill="#000" letter-spacing="-0.2" stroke="#000" stroke-width="0.45">10<tspan font-size="5.5" dy="-3.8">0</tspan></text>
<text x="316.60" y="406.50" font-family="Liberation Sans" font-size="8.5" font-weight="bold" text-anchor="middle" fill="#000" letter-spacing="-0.2" stroke="#000" stroke-width="0.45">10<tspan font-size="5.5" dy="-3.8">0</tspan></text>
<text x="309.90" y="352.70" font-family="Liberation Sans" font-size="8.5" font-weight="bold" text-anchor="end" fill="#000" letter-spacing="-0.2" stroke="#000" stroke-width="0.45">10<tspan font-size="5.5" dy="-3.8">1</tspan></text>
<text x="357.90" y="406.50" font-family="Liberation Sans" font-size="8.5" font-weight="bold" text-anchor="middle" fill="#000" letter-spacing="-0.2" stroke="#000" stroke-width="0.45">10<tspan font-size="5.5" dy="-3.8">1</tspan></text>
<text x="309.90" y="311.40" font-family="Liberation Sans" font-size="8.5" font-weight="bold" text-anchor="end" fill="#000" letter-spacing="-0.2" stroke="#000" stroke-width="0.45">10<tspan font-size="5.5" dy="-3.8">2</tspan></text>
<text x="399.20" y="406.50" font-family="Liberation Sans" font-size="8.5" font-weight="bold" text-anchor="middle" fill="#000" letter-spacing="-0.2" stroke="#000" stroke-width="0.45">10<tspan font-size="5.5" dy="-3.8">2</tspan></text>
<text x="309.90" y="270.10" font-family="Liberation Sans" font-size="8.5" font-weight="bold" text-anchor="end" fill="#000" letter-spacing="-0.2" stroke="#000" stroke-width="0.45">10<tspan font-size="5.5" dy="-3.8">3</tspan></text>
<text x="440.50" y="406.50" font-family="Liberation Sans" font-size="8.5" font-weight="bold" text-anchor="middle" fill="#000" letter-spacing="-0.2" stroke="#000" stroke-width="0.45">10<tspan font-size="5.5" dy="-3.8">3</tspan></text>
<text x="309.90" y="228.80" font-family="Liberation Sans" font-size="8.5" font-weight="bold" text-anchor="end" fill="#000" letter-spacing="-0.2" stroke="#000" stroke-width="0.45">10<tspan font-size="5.5" dy="-3.8">4</tspan></text>
<text x="481.80" y="406.50" font-family="Liberation Sans" font-size="8.5" font-weight="bold" text-anchor="middle" fill="#000" letter-spacing="-0.2" stroke="#000" stroke-width="0.45">10<tspan font-size="5.5" dy="-3.8">4</tspan></text>
<text transform="translate(480.10 244.20) scale(1.0 1.07)" font-family="Liberation Serif" font-size="19.6" text-anchor="end">3.18</text>
<line x1="52.00" y1="594.50" x2="56.00" y2="594.50" stroke="#000" stroke-width="1.5" />
<text x="50.50" y="597.60" font-family="Liberation Sans" font-size="8.8" font-weight="bold" text-anchor="end" fill="#000" stroke="#000" stroke-width="0.25">0</text>
<line x1="52.00" y1="553.20" x2="56.00" y2="553.20" stroke="#000" stroke-width="1.5" />
<text x="50.50" y="556.30" font-family="Liberation Sans" font-size="8.8" font-weight="bold" text-anchor="end" fill="#000" stroke="#000" stroke-width="0.25">5</text>
<line x1="52.00" y1="511.90" x2="56.00" y2="511.90" stroke="#000" stroke-width="1.5" />
<text x="50.50" y="515.00" font-family="Liberation Sans" font-size="8.8" font-weight="bold" text-anchor="end" fill="#000" stroke="#000" stroke-width="0.25">10</text>
<line x1="52.00" y1="470.60" x2="56.00" y2="470.60" stroke="#000" stroke-width="1.5" />
<text x="50.50" y="473.70" font-family="Liberation Sans" font-size="8.8" font-weight="bold" text-anchor="end" fill="#000" stroke="#000" stroke-width="0.25">15</text>
<line x1="56.00" y1="469.75" x2="56.00" y2="595.50" stroke="#000" stroke-width="2" />
<line x1="52.00" y1="594.50" x2="242.00" y2="594.50" stroke="#000" stroke-width="2" />
<rect x="63.50" y="473.90" width="31.50" height="120.60" fill="#000" />
<line x1="79.25" y1="473.08" x2="79.25" y2="473.90" stroke="#000" stroke-width="1.5" />
<line x1="71.25" y1="473.08" x2="87.25" y2="473.08" stroke="#000" stroke-width="1.5" />
<line x1="79.25" y1="594.50" x2="79.25" y2="598.00" stroke="#000" stroke-width="1.5" />
<rect x="109.80" y="542.46" width="31.50" height="52.04" fill="#000" />
<line x1="125.55" y1="538.75" x2="125.55" y2="542.46" stroke="#000" stroke-width="1.5" />
<line x1="117.55" y1="538.75" x2="133.55" y2="538.75" stroke="#000" stroke-width="1.5" />
<line x1="125.55" y1="594.50" x2="125.55" y2="598.00" stroke="#000" stroke-width="1.5" />
<rect x="156.20" y="488.77" width="31.50" height="105.73" fill="#000" />
<line x1="171.95" y1="484.23" x2="171.95" y2="488.77" stroke="#000" stroke-width="1.5" />
<line x1="163.95" y1="484.23" x2="179.95" y2="484.23" stroke="#000" stroke-width="1.5" />
<line x1="171.95" y1="594.50" x2="171.95" y2="598.00" stroke="#000" stroke-width="1.5" />
<rect x="202.50" y="482.16" width="31.50" height="112.34" fill="#000" />
<line x1="218.25" y1="475.97" x2="218.25" y2="482.16" stroke="#000" stroke-width="1.5" />
<line x1="210.25" y1="475.97" x2="226.25" y2="475.97" stroke="#000" stroke-width="1.5" />
<line x1="218.25" y1="594.50" x2="218.25" y2="598.00" stroke="#000" stroke-width="1.5" />
<text x="125.50" y="535.00" font-family="Liberation Sans" font-size="11" font-weight="bold" text-anchor="middle" fill="#000" >*</text>
<text x="149.00" y="456.00" font-family="Liberation Sans" font-size="12" font-weight="bold" text-anchor="middle" fill="#000" >Spleen</text>
<text x="35.60" y="531.80" font-family="Liberation Sans" font-size="10.3" font-weight="bold" text-anchor="middle" fill="#000" transform="rotate(-90 35.6 531.8)">Foxp3%CD4+</text>
<text x="82.75" y="609.50" font-family="Liberation Sans" font-size="9.6" font-weight="bold" text-anchor="end" fill="#000" transform="rotate(-25 82.75 609.5)" word-spacing="-0.7" stroke="#000" stroke-width="0.2">Ctrl DT</text>
<text x="129.05" y="609.50" font-family="Liberation Sans" font-size="9.6" font-weight="bold" text-anchor="end" fill="#000" transform="rotate(-25 129.05 609.5)" word-spacing="-0.7" stroke="#000" stroke-width="0.2">IL-2DT D14</text>
<text x="175.45" y="609.50" font-family="Liberation Sans" font-size="9.6" font-weight="bold" text-anchor="end" fill="#000" transform="rotate(-25 175.45 609.5)" word-spacing="-0.7" stroke="#000" stroke-width="0.2">IL-2DT D18</text>
<text x="221.75" y="609.50" font-family="Liberation Sans" font-size="9.6" font-weight="bold" text-anchor="end" fill="#000" transform="rotate(-25 221.75 609.5)" word-spacing="-0.7" stroke="#000" stroke-width="0.2">IL-2DT D25</text>
<line x1="304.75" y1="594.50" x2="308.75" y2="594.50" stroke="#000" stroke-width="1.5" />
<text x="303.25" y="597.60" font-family="Liberation Sans" font-size="8.8" font-weight="bold" text-anchor="end" fill="#000" stroke="#000" stroke-width="0.25">0</text>
<line x1="304.75" y1="563.40" x2="308.75" y2="563.40" stroke="#000" stroke-width="1.5" />
<text x="303.25" y="566.50" font-family="Liberation Sans" font-size="8.8" font-weight="bold" text-anchor="end" fill="#000" stroke="#000" stroke-width="0.25">2</text>
<line x1="304.75" y1="532.30" x2="308.75" y2="532.30" stroke="#000" stroke-width="1.5" />
<text x="303.25" y="535.40" font-family="Liberation Sans" font-size="8.8" font-weight="bold" text-anchor="end" fill="#000" stroke="#000" stroke-width="0.25">4</text>
<line x1="304.75" y1="501.20" x2="308.75" y2="501.20" stroke="#000" stroke-width="1.5" />
<text x="303.25" y="504.30" font-family="Liberation Sans" font-size="8.8" font-weight="bold" text-anchor="end" fill="#000" stroke="#000" stroke-width="0.25">6</text>
<line x1="304.75" y1="470.10" x2="308.75" y2="470.10" stroke="#000" stroke-width="1.5" />
<text x="303.25" y="473.20" font-family="Liberation Sans" font-size="8.8" font-weight="bold" text-anchor="end" fill="#000" stroke="#000" stroke-width="0.25">8</text>
<line x1="308.75" y1="469.00" x2="308.75" y2="595.50" stroke="#000" stroke-width="2" />
<line x1="304.75" y1="594.50" x2="495.50" y2="594.50" stroke="#000" stroke-width="2" />
<rect x="317.00" y="504.31" width="31.30" height="90.19" fill="#000" />
<line x1="332.65" y1="488.76" x2="332.65" y2="504.31" stroke="#000" stroke-width="1.5" />
<line x1="324.65" y1="488.76" x2="340.65" y2="488.76" stroke="#000" stroke-width="1.5" />
<line x1="332.65" y1="594.50" x2="332.65" y2="598.00" stroke="#000" stroke-width="1.5" />
<rect x="363.20" y="548.63" width="31.30" height="45.87" fill="#000" />
<line x1="378.85" y1="540.08" x2="378.85" y2="548.63" stroke="#000" stroke-width="1.5" />
<line x1="370.85" y1="540.08" x2="386.85" y2="540.08" stroke="#000" stroke-width="1.5" />
<line x1="378.85" y1="594.50" x2="378.85" y2="598.00" stroke="#000" stroke-width="1.5" />
<rect x="410.00" y="539.30" width="31.30" height="55.20" fill="#000" />
<line x1="425.65" y1="526.08" x2="425.65" y2="539.30" stroke="#000" stroke-width="1.5" />
<line x1="417.65" y1="526.08" x2="433.65" y2="526.08" stroke="#000" stroke-width="1.5" />
<line x1="425.65" y1="594.50" x2="425.65" y2="598.00" stroke="#000" stroke-width="1.5" />
<rect x="456.30" y="513.64" width="31.30" height="80.86" fill="#000" />
<line x1="471.95" y1="500.42" x2="471.95" y2="513.64" stroke="#000" stroke-width="1.5" />
<line x1="463.95" y1="500.42" x2="479.95" y2="500.42" stroke="#000" stroke-width="1.5" />
<line x1="471.95" y1="594.50" x2="471.95" y2="598.00" stroke="#000" stroke-width="1.5" />
<text x="378.80" y="538.50" font-family="Liberation Sans" font-size="11" font-weight="bold" text-anchor="middle" fill="#000" >*</text>
<text x="425.60" y="526.00" font-family="Liberation Sans" font-size="11" font-weight="bold" text-anchor="middle" fill="#000" >*</text>
<text x="402.00" y="456.00" font-family="Liberation Sans" font-size="12" font-weight="bold" text-anchor="middle" fill="#000" >Liver</text>
<text x="294.50" y="531.50" font-family="Liberation Sans" font-size="10.3" font-weight="bold" text-anchor="middle" fill="#000" transform="rotate(-90 294.5 531.5)">Foxp3+%CD4+</text>
<text x="336.15" y="609.10" font-family="Liberation Sans" font-size="9.6" font-weight="bold" text-anchor="end" fill="#000" transform="rotate(-25 336.15 609.1)" word-spacing="-0.7" stroke="#000" stroke-width="0.2">Ctrl DT</text>
<text x="382.35" y="609.10" font-family="Liberation Sans" font-size="9.6" font-weight="bold" text-anchor="end" fill="#000" transform="rotate(-25 382.34999999999997 609.1)" word-spacing="-0.7" stroke="#000" stroke-width="0.2">IL-2DT D14</text>
<text x="429.15" y="609.10" font-family="Liberation Sans" font-size="9.6" font-weight="bold" text-anchor="end" fill="#000" transform="rotate(-25 429.15 609.1)" word-spacing="-0.7" stroke="#000" stroke-width="0.2">IL-2DT D18</text>
<text x="475.45" y="609.10" font-family="Liberation Sans" font-size="9.6" font-weight="bold" text-anchor="end" fill="#000" transform="rotate(-25 475.45 609.1)" word-spacing="-0.7" stroke="#000" stroke-width="0.2">IL-2DT D25</text>
<line x1="49.70" y1="808.20" x2="53.70" y2="808.20" stroke="#000" stroke-width="1.5" />
<text x="48.20" y="811.30" font-family="Liberation Sans" font-size="8.8" font-weight="bold" text-anchor="end" fill="#000" stroke="#000" stroke-width="0.25">0</text>
<line x1="49.70" y1="777.45" x2="53.70" y2="777.45" stroke="#000" stroke-width="1.5" />
<text x="48.20" y="780.55" font-family="Liberation Sans" font-size="8.8" font-weight="bold" text-anchor="end" fill="#000" stroke="#000" stroke-width="0.25">5.0×10<tspan font-size="5.5" dy="-3">5</tspan></text>
<line x1="49.70" y1="746.70" x2="53.70" y2="746.70" stroke="#000" stroke-width="1.5" />
<text x="48.20" y="749.80" font-family="Liberation Sans" font-size="8.8" font-weight="bold" text-anchor="end" fill="#000" stroke="#000" stroke-width="0.25">1.0×10<tspan font-size="5.5" dy="-3">6</tspan></text>
<line x1="49.70" y1="715.95" x2="53.70" y2="715.95" stroke="#000" stroke-width="1.5" />
<text x="48.20" y="719.05" font-family="Liberation Sans" font-size="8.8" font-weight="bold" text-anchor="end" fill="#000" stroke="#000" stroke-width="0.25">1.5×10<tspan font-size="5.5" dy="-3">6</tspan></text>
<line x1="49.70" y1="685.20" x2="53.70" y2="685.20" stroke="#000" stroke-width="1.5" />
<text x="48.20" y="688.30" font-family="Liberation Sans" font-size="8.8" font-weight="bold" text-anchor="end" fill="#000" stroke="#000" stroke-width="0.25">2.0×10<tspan font-size="5.5" dy="-3">6</tspan></text>
<line x1="53.70" y1="684.20" x2="53.70" y2="809.20" stroke="#000" stroke-width="2" />
<line x1="49.70" y1="808.20" x2="239.30" y2="808.20" stroke="#000" stroke-width="2" />
<rect x="61.30" y="706.73" width="31.30" height="101.48" fill="#000" />
<line x1="76.95" y1="697.50" x2="76.95" y2="706.73" stroke="#000" stroke-width="1.5" />
<line x1="68.95" y1="697.50" x2="84.95" y2="697.50" stroke="#000" stroke-width="1.5" />
<line x1="76.95" y1="808.20" x2="76.95" y2="811.70" stroke="#000" stroke-width="1.5" />
<rect x="107.50" y="762.38" width="31.30" height="45.82" fill="#000" />
<line x1="123.15" y1="753.77" x2="123.15" y2="762.38" stroke="#000" stroke-width="1.5" />
<line x1="115.15" y1="753.77" x2="131.15" y2="753.77" stroke="#000" stroke-width="1.5" />
<line x1="123.15" y1="808.20" x2="123.15" y2="811.70" stroke="#000" stroke-width="1.5" />
<rect x="153.70" y="747.93" width="31.30" height="60.27" fill="#000" />
<line x1="169.35" y1="741.47" x2="169.35" y2="747.93" stroke="#000" stroke-width="1.5" />
<line x1="161.35" y1="741.47" x2="177.35" y2="741.47" stroke="#000" stroke-width="1.5" />
<line x1="169.35" y1="808.20" x2="169.35" y2="811.70" stroke="#000" stroke-width="1.5" />
<rect x="200.00" y="733.17" width="31.30" height="75.03" fill="#000" />
<line x1="215.65" y1="721.49" x2="215.65" y2="733.17" stroke="#000" stroke-width="1.5" />
<line x1="207.65" y1="721.49" x2="223.65" y2="721.49" stroke="#000" stroke-width="1.5" />
<line x1="215.65" y1="808.20" x2="215.65" y2="811.70" stroke="#000" stroke-width="1.5" />
<text x="123.20" y="749.50" font-family="Liberation Sans" font-size="11" font-weight="bold" text-anchor="middle" fill="#000" >*</text>
<text x="169.30" y="739.50" font-family="Liberation Sans" font-size="11" font-weight="bold" text-anchor="middle" fill="#000" >*</text>
<text x="142.00" y="677.00" font-family="Liberation Sans" font-size="12" font-weight="bold" text-anchor="middle" fill="#000" >Spleen</text>
<text x="14.00" y="746.50" font-family="Liberation Sans" font-size="10.5" font-weight="bold" text-anchor="middle" fill="#000" transform="rotate(-90 14 746.5)">Treg number/spleen</text>
<text x="80.45" y="820.20" font-family="Liberation Sans" font-size="9.6" font-weight="bold" text-anchor="end" fill="#000" transform="rotate(-25 80.45 820.2)" word-spacing="-0.7" stroke="#000" stroke-width="0.2">Ctrl DT</text>
<text x="126.65" y="820.20" font-family="Liberation Sans" font-size="9.6" font-weight="bold" text-anchor="end" fill="#000" transform="rotate(-25 126.65 820.2)" word-spacing="-0.7" stroke="#000" stroke-width="0.2">IL-2DT D14</text>
<text x="172.85" y="820.20" font-family="Liberation Sans" font-size="9.6" font-weight="bold" text-anchor="end" fill="#000" transform="rotate(-25 172.85 820.2)" word-spacing="-0.7" stroke="#000" stroke-width="0.2">IL-2DT D18</text>
<text x="219.15" y="820.20" font-family="Liberation Sans" font-size="9.6" font-weight="bold" text-anchor="end" fill="#000" transform="rotate(-25 219.15 820.2)" word-spacing="-0.7" stroke="#000" stroke-width="0.2">IL-2DT D25</text>
<line x1="303.10" y1="809.60" x2="307.10" y2="809.60" stroke="#000" stroke-width="1.5" />
<text x="301.60" y="812.70" font-family="Liberation Sans" font-size="8.8" font-weight="bold" text-anchor="end" fill="#000" stroke="#000" stroke-width="0.25">0</text>
<line x1="303.10" y1="768.50" x2="307.10" y2="768.50" stroke="#000" stroke-width="1.5" />
<text x="301.60" y="771.60" font-family="Liberation Sans" font-size="8.8" font-weight="bold" text-anchor="end" fill="#000" stroke="#000" stroke-width="0.25">1.0×10<tspan font-size="5.5" dy="-3">4</tspan></text>
<line x1="303.10" y1="727.40" x2="307.10" y2="727.40" stroke="#000" stroke-width="1.5" />
<text x="301.60" y="730.50" font-family="Liberation Sans" font-size="8.8" font-weight="bold" text-anchor="end" fill="#000" stroke="#000" stroke-width="0.25">2.0×10<tspan font-size="5.5" dy="-3">4</tspan></text>
<line x1="303.10" y1="686.30" x2="307.10" y2="686.30" stroke="#000" stroke-width="1.5" />
<text x="301.60" y="689.40" font-family="Liberation Sans" font-size="8.8" font-weight="bold" text-anchor="end" fill="#000" stroke="#000" stroke-width="0.25">3.0×10<tspan font-size="5.5" dy="-3">4</tspan></text>
<line x1="307.10" y1="685.30" x2="307.10" y2="810.60" stroke="#000" stroke-width="2" />
<line x1="303.10" y1="809.60" x2="492.30" y2="809.60" stroke="#000" stroke-width="2" />
<rect x="313.80" y="725.35" width="31.40" height="84.25" fill="#000" />
<line x1="329.50" y1="694.52" x2="329.50" y2="725.35" stroke="#000" stroke-width="1.5" />
<line x1="321.50" y1="694.52" x2="337.50" y2="694.52" stroke="#000" stroke-width="1.5" />
<line x1="329.50" y1="809.60" x2="329.50" y2="813.10" stroke="#000" stroke-width="1.5" />
<rect x="360.20" y="800.15" width="31.40" height="9.45" fill="#000" />
<line x1="375.90" y1="800.15" x2="375.90" y2="800.15" stroke="#000" stroke-width="1.5" />
<line x1="367.90" y1="800.15" x2="383.90" y2="800.15" stroke="#000" stroke-width="1.5" />
<line x1="375.90" y1="809.60" x2="375.90" y2="813.10" stroke="#000" stroke-width="1.5" />
<rect x="406.40" y="800.97" width="31.40" height="8.63" fill="#000" />
<line x1="422.10" y1="798.91" x2="422.10" y2="800.97" stroke="#000" stroke-width="1.5" />
<line x1="414.10" y1="798.91" x2="430.10" y2="798.91" stroke="#000" stroke-width="1.5" />
<line x1="422.10" y1="809.60" x2="422.10" y2="813.10" stroke="#000" stroke-width="1.5" />
<rect x="453.20" y="760.28" width="31.40" height="49.32" fill="#000" />
<line x1="468.90" y1="740.96" x2="468.90" y2="760.28" stroke="#000" stroke-width="1.5" />
<line x1="460.90" y1="740.96" x2="476.90" y2="740.96" stroke="#000" stroke-width="1.5" />
<line x1="468.90" y1="809.60" x2="468.90" y2="813.10" stroke="#000" stroke-width="1.5" />
<text x="376.20" y="795.00" font-family="Liberation Sans" font-size="11" font-weight="bold" text-anchor="middle" fill="#000" >*</text>
<text x="422.30" y="795.00" font-family="Liberation Sans" font-size="11" font-weight="bold" text-anchor="middle" fill="#000" >*</text>
<text x="395.00" y="675.50" font-family="Liberation Sans" font-size="12" font-weight="bold" text-anchor="middle" fill="#000" >Liver</text>
<text x="266.90" y="747.00" font-family="Liberation Sans" font-size="10.5" font-weight="bold" text-anchor="middle" fill="#000" transform="rotate(-90 266.9 747)">Treg number/liver</text>
<text x="333.00" y="820.60" font-family="Liberation Sans" font-size="9.6" font-weight="bold" text-anchor="end" fill="#000" transform="rotate(-25 333.0 820.6)" word-spacing="-0.7" stroke="#000" stroke-width="0.2">Ctrl DT</text>
<text x="379.40" y="820.60" font-family="Liberation Sans" font-size="9.6" font-weight="bold" text-anchor="end" fill="#000" transform="rotate(-25 379.4 820.6)" word-spacing="-0.7" stroke="#000" stroke-width="0.2">IL-2DT D14</text>
<text x="425.60" y="820.60" font-family="Liberation Sans" font-size="9.6" font-weight="bold" text-anchor="end" fill="#000" transform="rotate(-25 425.59999999999997 820.6)" word-spacing="-0.7" stroke="#000" stroke-width="0.2">IL-2DT D18</text>
<text x="472.40" y="820.60" font-family="Liberation Sans" font-size="9.6" font-weight="bold" text-anchor="end" fill="#000" transform="rotate(-25 472.4 820.6)" word-spacing="-0.7" stroke="#000" stroke-width="0.2">IL-2DT D25</text>
<text x="-0.80" y="462.30" font-family="Liberation Sans" font-size="33.5" font-weight="bold" text-anchor="start" fill="#000" >B</text>
<text x="1.50" y="672.20" font-family="Liberation Sans" font-size="33.5" font-weight="bold" text-anchor="start" fill="#000" >C</text>
<text x="1.80" y="882.60" font-family="Liberation Sans" font-size="33.5" font-weight="bold" text-anchor="start" fill="#000" >D</text>
<text x="2.20" y="1088.10" font-family="Liberation Sans" font-size="33.5" font-weight="bold" text-anchor="start" fill="#000" >E</text>
<text x="293.00" y="1088.60" font-family="Liberation Sans" font-size="33.5" font-weight="bold" text-anchor="start" fill="#000" >F</text>
<line x1="54.70" y1="1037.70" x2="58.20" y2="1037.70" stroke="#000" stroke-width="1.4" />
<text x="54.00" y="1040.60" font-family="Liberation Sans" font-size="8" font-weight="bold" text-anchor="end" fill="#000" stroke="#000" stroke-width="0.3">1.0×10<tspan font-size="6.2" dy="-1.6">3</tspan></text>
<line x1="54.70" y1="1014.83" x2="58.20" y2="1014.83" stroke="#000" stroke-width="1.4" />
<text x="54.00" y="1017.73" font-family="Liberation Sans" font-size="8" font-weight="bold" text-anchor="end" fill="#000" stroke="#000" stroke-width="0.3">1.0×10<tspan font-size="6.2" dy="-1.6">4</tspan></text>
<line x1="54.70" y1="991.96" x2="58.20" y2="991.96" stroke="#000" stroke-width="1.4" />
<text x="54.00" y="994.86" font-family="Liberation Sans" font-size="8" font-weight="bold" text-anchor="end" fill="#000" stroke="#000" stroke-width="0.3">1.0×10<tspan font-size="6.2" dy="-1.6">5</tspan></text>
<line x1="54.70" y1="969.09" x2="58.20" y2="969.09" stroke="#000" stroke-width="1.4" />
<text x="54.00" y="971.99" font-family="Liberation Sans" font-size="8" font-weight="bold" text-anchor="end" fill="#000" stroke="#000" stroke-width="0.3">1.0×10<tspan font-size="6.2" dy="-1.6">6</tspan></text>
<line x1="54.70" y1="946.22" x2="58.20" y2="946.22" stroke="#000" stroke-width="1.4" />
<text x="54.00" y="949.12" font-family="Liberation Sans" font-size="8" font-weight="bold" text-anchor="end" fill="#000" stroke="#000" stroke-width="0.3">1.0×10<tspan font-size="6.2" dy="-1.6">7</tspan></text>
<line x1="54.70" y1="923.35" x2="58.20" y2="923.35" stroke="#000" stroke-width="1.4" />
<text x="54.00" y="926.25" font-family="Liberation Sans" font-size="8" font-weight="bold" text-anchor="end" fill="#000" stroke="#000" stroke-width="0.3">1.0×10<tspan font-size="6.2" dy="-1.6">8</tspan></text>
<line x1="54.70" y1="900.48" x2="58.20" y2="900.48" stroke="#000" stroke-width="1.4" />
<text x="54.00" y="903.38" font-family="Liberation Sans" font-size="8" font-weight="bold" text-anchor="end" fill="#000" stroke="#000" stroke-width="0.3">1.0×10<tspan font-size="6.2" dy="-1.6">9</tspan></text>
<line x1="58.20" y1="899.78" x2="58.20" y2="1038.70" stroke="#000" stroke-width="2" />
<line x1="54.70" y1="1037.70" x2="238.00" y2="1037.70" stroke="#000" stroke-width="2" />
<line x1="76.40" y1="1037.70" x2="76.40" y2="1041.20" stroke="#000" stroke-width="1.4" />
<line x1="112.20" y1="1037.70" x2="112.20" y2="1041.20" stroke="#000" stroke-width="1.4" />
<line x1="148.00" y1="1037.70" x2="148.00" y2="1041.20" stroke="#000" stroke-width="1.4" />
<line x1="184.00" y1="1037.70" x2="184.00" y2="1041.20" stroke="#000" stroke-width="1.4" />
<line x1="220.00" y1="1037.70" x2="220.00" y2="1041.20" stroke="#000" stroke-width="1.4" />
<rect x="67.10" y="1020.80" width="5.00" height="5.00" fill="#000"/>
<rect x="73.90" y="1024.20" width="5.00" height="5.00" fill="#000"/>
<rect x="80.90" y="1020.80" width="5.00" height="5.00" fill="#000"/>
<path d="M105.90 929.15L108.65 934.15L103.15 934.15Z" fill="#000"/>
<path d="M112.50 934.05L115.25 939.05L109.75 939.05Z" fill="#000"/>
<path d="M118.30 934.05L121.05 939.05L115.55 939.05Z" fill="#000"/>
<path d="M105.90 944.45L108.65 949.45L103.15 949.45Z" fill="#000"/>
<path d="M111.60 944.45L114.35 949.45L108.85 949.45Z" fill="#000"/>
<path d="M118.30 944.45L121.05 949.45L115.55 949.45Z" fill="#000"/>
<path d="M112.50 954.55L115.25 959.55L109.75 959.55Z" fill="#000"/>
<path d="M118.30 952.25L121.05 957.25L115.55 957.25Z" fill="#000"/>
<path d="M148.00 956.55L150.75 951.55L145.25 951.55Z" fill="#000"/>
<path d="M154.20 956.55L156.95 951.55L151.45 951.55Z" fill="#000"/>
<path d="M141.10 965.15L143.85 960.15L138.35 960.15Z" fill="#000"/>
<path d="M148.00 965.15L150.75 960.15L145.25 960.15Z" fill="#000"/>
<path d="M148.00 973.45L150.75 968.45L145.25 968.45Z" fill="#000"/>
<path d="M154.20 973.45L156.95 968.45L151.45 968.45Z" fill="#000"/>
<path d="M141.10 989.55L143.85 984.55L138.35 984.55Z" fill="#000"/>
<path d="M148.00 991.25L150.75 986.25L145.25 986.25Z" fill="#000"/>
<path d="M154.20 1005.75L156.95 1000.75L151.45 1000.75Z" fill="#000"/>
<path d="M148.00 1011.25L150.75 1006.25L145.25 1006.25Z" fill="#000"/>
<path d="M183.20 928.30L186.20 931.30L183.20 934.30L180.20 931.30Z" fill="#000"/>
<path d="M183.20 937.00L186.20 940.00L183.20 943.00L180.20 940.00Z" fill="#000"/>
<path d="M177.10 947.10L180.10 950.10L177.10 953.10L174.10 950.10Z" fill="#000"/>
<path d="M183.70 947.10L186.70 950.10L183.70 953.10L180.70 950.10Z" fill="#000"/>
<path d="M190.40 942.80L193.40 945.80L190.40 948.80L187.40 945.80Z" fill="#000"/>
<path d="M177.30 956.60L180.30 959.60L177.30 962.60L174.30 959.60Z" fill="#000"/>
<path d="M183.80 958.20L186.80 961.20L183.80 964.20L180.80 961.20Z" fill="#000"/>
<path d="M187.70 956.60L190.70 959.60L187.70 962.60L184.70 959.60Z" fill="#000"/>
<path d="M191.20 958.20L194.20 961.20L191.20 964.20L188.20 961.20Z" fill="#000"/>
<circle cx="220.00" cy="982.00" r="2.50" fill="#000"/>
<circle cx="226.50" cy="1001.60" r="2.50" fill="#000"/>
<circle cx="220.00" cy="1005.80" r="2.50" fill="#000"/>
<circle cx="213.10" cy="1010.90" r="2.50" fill="#000"/>
<circle cx="220.00" cy="1015.00" r="2.50" fill="#000"/>
<circle cx="213.10" cy="1018.90" r="2.50" fill="#000"/>
<circle cx="226.50" cy="1020.80" r="2.50" fill="#000"/>
<circle cx="220.00" cy="1022.40" r="2.50" fill="#000"/>
<line x1="64.30" y1="1024.60" x2="88.20" y2="1024.60" stroke="#000" stroke-width="1.5" />
<line x1="100.00" y1="940.60" x2="124.00" y2="940.60" stroke="#000" stroke-width="1.5" />
<line x1="135.80" y1="964.90" x2="160.00" y2="964.90" stroke="#000" stroke-width="1.5" />
<line x1="172.00" y1="944.80" x2="196.00" y2="944.80" stroke="#000" stroke-width="1.5" />
<line x1="208.50" y1="998.80" x2="231.50" y2="998.80" stroke="#000" stroke-width="1.5" />
<text x="145.00" y="877.70" font-family="Liberation Sans" font-size="11" font-weight="bold" text-anchor="middle" fill="#000" >Day 17</text>
<text x="14.00" y="968.90" font-family="Liberation Sans" font-size="9.2" font-weight="bold" text-anchor="middle" fill="#000" transform="rotate(-90 14.0 968.9)">Photon counts per area</text>
<text x="78.40" y="1049.20" font-family="Liberation Sans" font-size="8.6" font-weight="bold" text-anchor="end" fill="#000" transform="rotate(-28 78.4 1049.2)" stroke="#000" stroke-width="0.2">Naive</text>
<text x="114.20" y="1049.20" font-family="Liberation Sans" font-size="8.6" font-weight="bold" text-anchor="end" fill="#000" transform="rotate(-28 114.2 1049.2)" stroke="#000" stroke-width="0.2">AML alone</text>
<text x="150.00" y="1049.20" font-family="Liberation Sans" font-size="8.6" font-weight="bold" text-anchor="end" fill="#000" transform="rotate(-28 150 1049.2)" stroke="#000" stroke-width="0.2">IL-2DT</text>
<text x="186.00" y="1049.20" font-family="Liberation Sans" font-size="8.6" font-weight="bold" text-anchor="end" fill="#000" transform="rotate(-28 186 1049.2)" stroke="#000" stroke-width="0.2">CTL</text>
<text x="222.00" y="1049.20" font-family="Liberation Sans" font-size="8.6" font-weight="bold" text-anchor="end" fill="#000" transform="rotate(-28 222 1049.2)" stroke="#000" stroke-width="0.2">IL-2DT+CTL</text>
<text x="129.80" y="900.80" font-family="Liberation Sans" font-size="10.5"><tspan font-style="italic">P</tspan> &lt; .01</text>
<line x1="101.50" y1="905.10" x2="212.60" y2="905.10" stroke="#000" stroke-width="1.5" />
<text x="105.90" y="919.00" font-family="Liberation Sans" font-size="10.5"><tspan font-style="italic">P</tspan> &lt; .05</text>
<line x1="103.00" y1="923.80" x2="143.40" y2="923.80" stroke="#000" stroke-width="1.5" />
<text x="177.00" y="919.00" font-family="Liberation Sans" font-size="10.5"><tspan font-style="italic">P</tspan> &lt; .01</text>
<line x1="177.00" y1="923.80" x2="210.60" y2="923.80" stroke="#000" stroke-width="1.5" />
<line x1="328.10" y1="1037.50" x2="331.60" y2="1037.50" stroke="#000" stroke-width="1.4" />
<text x="327.40" y="1040.40" font-family="Liberation Sans" font-size="8" font-weight="bold" text-anchor="end" fill="#000" stroke="#000" stroke-width="0.3">1.0×10<tspan font-size="6.2" dy="-1.6">03</tspan></text>
<line x1="328.10" y1="1018.40" x2="331.60" y2="1018.40" stroke="#000" stroke-width="1.4" />
<text x="327.40" y="1021.30" font-family="Liberation Sans" font-size="8" font-weight="bold" text-anchor="end" fill="#000" stroke="#000" stroke-width="0.3">1.0×10<tspan font-size="6.2" dy="-1.6">04</tspan></text>
<line x1="328.10" y1="999.30" x2="331.60" y2="999.30" stroke="#000" stroke-width="1.4" />
<text x="327.40" y="1002.20" font-family="Liberation Sans" font-size="8" font-weight="bold" text-anchor="end" fill="#000" stroke="#000" stroke-width="0.3">1.0×10<tspan font-size="6.2" dy="-1.6">05</tspan></text>
<line x1="328.10" y1="980.20" x2="331.60" y2="980.20" stroke="#000" stroke-width="1.4" />
<text x="327.40" y="983.10" font-family="Liberation Sans" font-size="8" font-weight="bold" text-anchor="end" fill="#000" stroke="#000" stroke-width="0.3">1.0×10<tspan font-size="6.2" dy="-1.6">06</tspan></text>
<line x1="328.10" y1="961.10" x2="331.60" y2="961.10" stroke="#000" stroke-width="1.4" />
<text x="327.40" y="964.00" font-family="Liberation Sans" font-size="8" font-weight="bold" text-anchor="end" fill="#000" stroke="#000" stroke-width="0.3">1.0×10<tspan font-size="6.2" dy="-1.6">07</tspan></text>
<line x1="328.10" y1="942.00" x2="331.60" y2="942.00" stroke="#000" stroke-width="1.4" />
<text x="327.40" y="944.90" font-family="Liberation Sans" font-size="8" font-weight="bold" text-anchor="end" fill="#000" stroke="#000" stroke-width="0.3">1.0×10<tspan font-size="6.2" dy="-1.6">08</tspan></text>
<line x1="328.10" y1="922.90" x2="331.60" y2="922.90" stroke="#000" stroke-width="1.4" />
<text x="327.40" y="925.80" font-family="Liberation Sans" font-size="8" font-weight="bold" text-anchor="end" fill="#000" stroke="#000" stroke-width="0.3">1.0×10<tspan font-size="6.2" dy="-1.6">09</tspan></text>
<line x1="328.10" y1="903.80" x2="331.60" y2="903.80" stroke="#000" stroke-width="1.4" />
<text x="327.40" y="906.70" font-family="Liberation Sans" font-size="8" font-weight="bold" text-anchor="end" fill="#000" stroke="#000" stroke-width="0.3">1.0×10<tspan font-size="6.2" dy="-1.6">10</tspan></text>
<line x1="331.60" y1="903.10" x2="331.60" y2="1038.50" stroke="#000" stroke-width="2" />
<line x1="328.10" y1="1037.50" x2="511.30" y2="1037.50" stroke="#000" stroke-width="2" />
<line x1="349.50" y1="1037.50" x2="349.50" y2="1041.00" stroke="#000" stroke-width="1.4" />
<line x1="385.60" y1="1037.50" x2="385.60" y2="1041.00" stroke="#000" stroke-width="1.4" />
<line x1="421.40" y1="1037.50" x2="421.40" y2="1041.00" stroke="#000" stroke-width="1.4" />
<line x1="457.30" y1="1037.50" x2="457.30" y2="1041.00" stroke="#000" stroke-width="1.4" />
<line x1="493.30" y1="1037.50" x2="493.30" y2="1041.00" stroke="#000" stroke-width="1.4" />
<rect x="339.40" y="1023.70" width="5.00" height="5.00" fill="#000"/>
<rect x="347.00" y="1026.00" width="5.00" height="5.00" fill="#000"/>
<rect x="354.50" y="1023.70" width="5.00" height="5.00" fill="#000"/>
<path d="M385.60 936.45L388.35 941.45L382.85 941.45Z" fill="#000"/>
<path d="M378.80 941.85L381.55 946.85L376.05 946.85Z" fill="#000"/>
<path d="M382.00 941.85L384.75 946.85L379.25 946.85Z" fill="#000"/>
<path d="M389.60 941.85L392.35 946.85L386.85 946.85Z" fill="#000"/>
<path d="M392.80 943.25L395.55 948.25L390.05 948.25Z" fill="#000"/>
<path d="M385.60 944.55L388.35 949.55L382.85 949.55Z" fill="#000"/>
<path d="M385.60 962.85L388.35 967.85L382.85 967.85Z" fill="#000"/>
<path d="M385.60 970.95L388.35 975.95L382.85 975.95Z" fill="#000"/>
<path d="M414.70 947.95L417.45 942.95L411.95 942.95Z" fill="#000"/>
<path d="M421.40 946.05L424.15 941.05L418.65 941.05Z" fill="#000"/>
<path d="M428.70 946.05L431.45 941.05L425.95 941.05Z" fill="#000"/>
<path d="M414.70 950.05L417.45 945.05L411.95 945.05Z" fill="#000"/>
<path d="M421.40 954.15L424.15 949.15L418.65 949.15Z" fill="#000"/>
<path d="M421.40 968.35L424.15 963.35L418.65 963.35Z" fill="#000"/>
<path d="M421.40 975.15L424.15 970.15L418.65 970.15Z" fill="#000"/>
<path d="M421.40 989.15L424.15 984.15L418.65 984.15Z" fill="#000"/>
<path d="M427.90 987.25L430.65 982.25L425.15 982.25Z" fill="#000"/>
<path d="M450.80 937.00L453.80 940.00L450.80 943.00L447.80 940.00Z" fill="#000"/>
<path d="M464.30 940.80L467.30 943.80L464.30 946.80L461.30 943.80Z" fill="#000"/>
<path d="M457.70 944.00L460.70 947.00L457.70 950.00L454.70 947.00Z" fill="#000"/>
<path d="M450.80 949.50L453.80 952.50L450.80 955.50L447.80 952.50Z" fill="#000"/>
<path d="M457.70 950.50L460.70 953.50L457.70 956.50L454.70 953.50Z" fill="#000"/>
<path d="M464.30 947.40L467.30 950.40L464.30 953.40L461.30 950.40Z" fill="#000"/>
<path d="M457.70 964.30L460.70 967.30L457.70 970.30L454.70 967.30Z" fill="#000"/>
<circle cx="500.10" cy="965.10" r="2.50" fill="#000"/>
<circle cx="493.50" cy="970.60" r="2.50" fill="#000"/>
<circle cx="493.50" cy="986.40" r="2.50" fill="#000"/>
<circle cx="493.50" cy="996.60" r="2.50" fill="#000"/>
<circle cx="493.50" cy="1015.80" r="2.50" fill="#000"/>
<circle cx="486.60" cy="1020.00" r="2.50" fill="#000"/>
<circle cx="496.60" cy="1018.70" r="2.50" fill="#000"/>
<circle cx="500.10" cy="1020.00" r="2.50" fill="#000"/>
<circle cx="493.50" cy="1023.40" r="2.50" fill="#000"/>
<line x1="337.30" y1="1026.60" x2="361.50" y2="1026.60" stroke="#000" stroke-width="1.5" />
<line x1="374.00" y1="946.00" x2="397.20" y2="946.00" stroke="#000" stroke-width="1.5" />
<line x1="409.80" y1="950.80" x2="433.20" y2="950.80" stroke="#000" stroke-width="1.5" />
<line x1="445.60" y1="947.30" x2="469.50" y2="947.30" stroke="#000" stroke-width="1.5" />
<line x1="481.60" y1="979.30" x2="505.60" y2="979.30" stroke="#000" stroke-width="1.5" />
<text x="418.70" y="880.80" font-family="Liberation Sans" font-size="11" font-weight="bold" text-anchor="middle" fill="#000" >Day 24</text>
<text x="287.60" y="968.80" font-family="Liberation Sans" font-size="9.2" font-weight="bold" text-anchor="middle" fill="#000" transform="rotate(-90 287.6 968.8)">Photon counts per area</text>
<text x="351.50" y="1049.00" font-family="Liberation Sans" font-size="8.6" font-weight="bold" text-anchor="end" fill="#000" transform="rotate(-28 351.5 1049.0)" stroke="#000" stroke-width="0.2">Naive</text>
<text x="387.60" y="1049.00" font-family="Liberation Sans" font-size="8.6" font-weight="bold" text-anchor="end" fill="#000" transform="rotate(-28 387.6 1049.0)" stroke="#000" stroke-width="0.2">AML alone</text>
<text x="423.40" y="1049.00" font-family="Liberation Sans" font-size="8.6" font-weight="bold" text-anchor="end" fill="#000" transform="rotate(-28 423.4 1049.0)" stroke="#000" stroke-width="0.2">IL-2DT</text>
<text x="459.30" y="1049.00" font-family="Liberation Sans" font-size="8.6" font-weight="bold" text-anchor="end" fill="#000" transform="rotate(-28 459.3 1049.0)" stroke="#000" stroke-width="0.2">CTL</text>
<text x="495.30" y="1049.00" font-family="Liberation Sans" font-size="8.6" font-weight="bold" text-anchor="end" fill="#000" transform="rotate(-28 495.3 1049.0)" stroke="#000" stroke-width="0.2">IL-2DT+CTL</text>
<text x="410.60" y="904.20" font-family="Liberation Sans" font-size="10.5"><tspan font-style="italic">P</tspan> &lt; .05</text>
<line x1="387.70" y1="906.90" x2="492.00" y2="906.90" stroke="#000" stroke-width="1.5" />
<text x="419.80" y="917.70" font-family="Liberation Sans" font-size="10.5"><tspan font-style="italic">P</tspan> &lt; .05</text>
<line x1="416.00" y1="920.90" x2="492.00" y2="920.90" stroke="#000" stroke-width="1.5" />
<text x="458.30" y="931.70" font-family="Liberation Sans" font-size="10.5"><tspan font-style="italic">P</tspan> &lt; .05</text>
<line x1="459.00" y1="934.70" x2="492.70" y2="934.70" stroke="#000" stroke-width="1.5" />
<line x1="29.80" y1="1209.60" x2="33.30" y2="1209.60" stroke="#000" stroke-width="1.4" />
<text x="29.30" y="1212.50" font-family="Liberation Sans" font-size="8" font-weight="bold" text-anchor="end" fill="#000" stroke="#000" stroke-width="0.25">0.0</text>
<line x1="29.80" y1="1187.58" x2="33.30" y2="1187.58" stroke="#000" stroke-width="1.4" />
<text x="29.30" y="1190.48" font-family="Liberation Sans" font-size="8" font-weight="bold" text-anchor="end" fill="#000" stroke="#000" stroke-width="0.25">0.2</text>
<line x1="29.80" y1="1165.56" x2="33.30" y2="1165.56" stroke="#000" stroke-width="1.4" />
<text x="29.30" y="1168.46" font-family="Liberation Sans" font-size="8" font-weight="bold" text-anchor="end" fill="#000" stroke="#000" stroke-width="0.25">0.4</text>
<line x1="29.80" y1="1143.54" x2="33.30" y2="1143.54" stroke="#000" stroke-width="1.4" />
<text x="29.30" y="1146.44" font-family="Liberation Sans" font-size="8" font-weight="bold" text-anchor="end" fill="#000" stroke="#000" stroke-width="0.25">0.6</text>
<line x1="29.80" y1="1121.52" x2="33.30" y2="1121.52" stroke="#000" stroke-width="1.4" />
<text x="29.30" y="1124.42" font-family="Liberation Sans" font-size="8" font-weight="bold" text-anchor="end" fill="#000" stroke="#000" stroke-width="0.25">0.8</text>
<line x1="29.80" y1="1099.50" x2="33.30" y2="1099.50" stroke="#000" stroke-width="1.4" />
<text x="29.30" y="1102.40" font-family="Liberation Sans" font-size="8" font-weight="bold" text-anchor="end" fill="#000" stroke="#000" stroke-width="0.25">1.0</text>
<line x1="33.30" y1="1209.60" x2="33.30" y2="1213.10" stroke="#000" stroke-width="1.4" />
<text x="33.30" y="1221.10" font-family="Liberation Sans" font-size="8" font-weight="bold" text-anchor="middle" fill="#000" stroke="#000" stroke-width="0.25">0</text>
<line x1="50.26" y1="1209.60" x2="50.26" y2="1213.10" stroke="#000" stroke-width="1.4" />
<text x="50.26" y="1221.10" font-family="Liberation Sans" font-size="8" font-weight="bold" text-anchor="middle" fill="#000" stroke="#000" stroke-width="0.25">10</text>
<line x1="67.22" y1="1209.60" x2="67.22" y2="1213.10" stroke="#000" stroke-width="1.4" />
<text x="67.22" y="1221.10" font-family="Liberation Sans" font-size="8" font-weight="bold" text-anchor="middle" fill="#000" stroke="#000" stroke-width="0.25">20</text>
<line x1="84.18" y1="1209.60" x2="84.18" y2="1213.10" stroke="#000" stroke-width="1.4" />
<text x="84.18" y="1221.10" font-family="Liberation Sans" font-size="8" font-weight="bold" text-anchor="middle" fill="#000" stroke="#000" stroke-width="0.25">30</text>
<line x1="101.14" y1="1209.60" x2="101.14" y2="1213.10" stroke="#000" stroke-width="1.4" />
<text x="101.14" y="1221.10" font-family="Liberation Sans" font-size="8" font-weight="bold" text-anchor="middle" fill="#000" stroke="#000" stroke-width="0.25">40</text>
<line x1="118.10" y1="1209.60" x2="118.10" y2="1213.10" stroke="#000" stroke-width="1.4" />
<text x="118.10" y="1221.10" font-family="Liberation Sans" font-size="8" font-weight="bold" text-anchor="middle" fill="#000" stroke="#000" stroke-width="0.25">50</text>
<line x1="135.06" y1="1209.60" x2="135.06" y2="1213.10" stroke="#000" stroke-width="1.4" />
<text x="135.06" y="1221.10" font-family="Liberation Sans" font-size="8" font-weight="bold" text-anchor="middle" fill="#000" stroke="#000" stroke-width="0.25">60</text>
<line x1="152.02" y1="1209.60" x2="152.02" y2="1213.10" stroke="#000" stroke-width="1.4" />
<text x="152.02" y="1221.10" font-family="Liberation Sans" font-size="8" font-weight="bold" text-anchor="middle" fill="#000" stroke="#000" stroke-width="0.25">70</text>
<line x1="168.98" y1="1209.60" x2="168.98" y2="1213.10" stroke="#000" stroke-width="1.4" />
<text x="168.98" y="1221.10" font-family="Liberation Sans" font-size="8" font-weight="bold" text-anchor="middle" fill="#000" stroke="#000" stroke-width="0.25">80</text>
<line x1="185.94" y1="1209.60" x2="185.94" y2="1213.10" stroke="#000" stroke-width="1.4" />
<text x="185.94" y="1221.10" font-family="Liberation Sans" font-size="8" font-weight="bold" text-anchor="middle" fill="#000" stroke="#000" stroke-width="0.25">90</text>
<line x1="202.90" y1="1209.60" x2="202.90" y2="1213.10" stroke="#000" stroke-width="1.4" />
<text x="202.90" y="1221.10" font-family="Liberation Sans" font-size="8" font-weight="bold" text-anchor="middle" fill="#000" stroke="#000" stroke-width="0.25">100</text>
<line x1="219.86" y1="1209.60" x2="219.86" y2="1213.10" stroke="#000" stroke-width="1.4" />
<text x="219.86" y="1221.10" font-family="Liberation Sans" font-size="8" font-weight="bold" text-anchor="middle" fill="#000" stroke="#000" stroke-width="0.25">110</text>
<line x1="236.82" y1="1209.60" x2="236.82" y2="1213.10" stroke="#000" stroke-width="1.4" />
<text x="236.82" y="1221.10" font-family="Liberation Sans" font-size="8" font-weight="bold" text-anchor="middle" fill="#000" stroke="#000" stroke-width="0.25">120</text>
<line x1="253.78" y1="1209.60" x2="253.78" y2="1213.10" stroke="#000" stroke-width="1.4" />
<text x="253.78" y="1221.10" font-family="Liberation Sans" font-size="8" font-weight="bold" text-anchor="middle" fill="#000" stroke="#000" stroke-width="0.25">130</text>
<line x1="270.74" y1="1209.60" x2="270.74" y2="1213.10" stroke="#000" stroke-width="1.4" />
<text x="270.74" y="1221.10" font-family="Liberation Sans" font-size="8" font-weight="bold" text-anchor="middle" fill="#000" stroke="#000" stroke-width="0.25">140</text>
<line x1="287.70" y1="1209.60" x2="287.70" y2="1213.10" stroke="#000" stroke-width="1.4" />
<text x="287.70" y="1221.10" font-family="Liberation Sans" font-size="8" font-weight="bold" text-anchor="middle" fill="#000" stroke="#000" stroke-width="0.25">150</text>
<line x1="33.30" y1="1098.50" x2="33.30" y2="1210.60" stroke="#000" stroke-width="2" />
<line x1="29.80" y1="1209.60" x2="290.00" y2="1209.60" stroke="#000" stroke-width="2" />
<text x="12.60" y="1152.75" font-family="Liberation Sans" font-size="9.3" font-weight="bold" text-anchor="middle" fill="#000" transform="rotate(-90 12.6 1152.75)">Fraction survival</text>
<text x="158.00" y="1234.50" font-family="Liberation Sans" font-size="10.2" font-weight="bold" text-anchor="middle" fill="#000" >Days after C1498FF DsR injection</text>
<path d="M73.50 1099.50H73.50V1143.54H77.00V1165.56H78.80V1176.57H80.80V1187.58H85.80V1198.59H87.40V1209.60" fill="none" stroke="#222" stroke-width="1.2"/>
<path d="M73.50 1099.50H73.50V1121.52H75.40V1143.54H77.00V1165.56H79.20V1176.57H85.40V1198.59H104.60V1209.60" fill="none" stroke="#222" stroke-width="1.2"/>
<path d="M74.60 1099.50H74.60V1110.51H82.80V1121.52H86.20V1143.54H89.20V1165.56H90.80V1176.57H92.60V1187.58H110.80V1198.59H123.00V1209.60" fill="none" stroke="#222" stroke-width="1.2"/>
<path d="M33.30 1099.50H74.00V1110.51H94.60V1121.52H109.50V1143.54H116.20V1154.55H126.20V1165.56H136.20V1176.57H285.80V1176.57" fill="none" stroke="#222" stroke-width="1.2"/>
<rect x="71.20" y="1141.24" width="4.60" height="4.60" fill="#fff" stroke="#222" stroke-width="1.1"/>
<rect x="74.70" y="1163.26" width="4.60" height="4.60" fill="#fff" stroke="#222" stroke-width="1.1"/>
<rect x="76.50" y="1174.27" width="4.60" height="4.60" fill="#fff" stroke="#222" stroke-width="1.1"/>
<rect x="78.50" y="1185.28" width="4.60" height="4.60" fill="#fff" stroke="#222" stroke-width="1.1"/>
<rect x="83.50" y="1196.29" width="4.60" height="4.60" fill="#fff" stroke="#222" stroke-width="1.1"/>
<rect x="85.10" y="1207.30" width="4.60" height="4.60" fill="#fff" stroke="#222" stroke-width="1.1"/>
<path d="M73.50 1124.05L76.03 1119.45L70.97 1119.45Z" fill="#fff" stroke="#222" stroke-width="1.1"/>
<path d="M75.40 1146.07L77.93 1141.47L72.87 1141.47Z" fill="#fff" stroke="#222" stroke-width="1.1"/>
<path d="M77.00 1168.09L79.53 1163.49L74.47 1163.49Z" fill="#fff" stroke="#222" stroke-width="1.1"/>
<path d="M79.20 1179.10L81.73 1174.50L76.67 1174.50Z" fill="#fff" stroke="#222" stroke-width="1.1"/>
<path d="M85.40 1201.12L87.93 1196.52L82.87 1196.52Z" fill="#fff" stroke="#222" stroke-width="1.1"/>
<path d="M104.60 1212.13L107.13 1207.53L102.07 1207.53Z" fill="#fff" stroke="#222" stroke-width="1.1"/>
<path d="M82.80 1118.99L85.33 1123.59L80.27 1123.59Z" fill="#fff" stroke="#222" stroke-width="1.1"/>
<path d="M86.20 1141.01L88.73 1145.61L83.67 1145.61Z" fill="#fff" stroke="#222" stroke-width="1.1"/>
<path d="M89.20 1163.03L91.73 1167.63L86.67 1167.63Z" fill="#fff" stroke="#222" stroke-width="1.1"/>
<path d="M90.80 1174.04L93.33 1178.64L88.27 1178.64Z" fill="#fff" stroke="#222" stroke-width="1.1"/>
<path d="M92.60 1185.05L95.13 1189.65L90.07 1189.65Z" fill="#fff" stroke="#222" stroke-width="1.1"/>
<path d="M110.80 1196.06L113.33 1200.66L108.27 1200.66Z" fill="#fff" stroke="#222" stroke-width="1.1"/>
<path d="M123.00 1207.07L125.53 1211.67L120.47 1211.67Z" fill="#fff" stroke="#222" stroke-width="1.1"/>
<rect x="71.25" y="1107.76" width="5.50" height="5.50" fill="#000"/>
<rect x="91.85" y="1118.77" width="5.50" height="5.50" fill="#000"/>
<rect x="106.75" y="1140.79" width="5.50" height="5.50" fill="#000"/>
<rect x="113.45" y="1151.80" width="5.50" height="5.50" fill="#000"/>
<rect x="123.45" y="1162.81" width="5.50" height="5.50" fill="#000"/>
<rect x="133.45" y="1173.82" width="5.50" height="5.50" fill="#000"/>
<rect x="283.05" y="1173.82" width="5.50" height="5.50" fill="#000"/>
<text x="102.30" y="1183.50" font-family="Liberation Sans" font-size="11" font-weight="bold" text-anchor="middle" fill="#000" >*</text>
<text x="201.20" y="1175.80" font-family="Liberation Sans" font-size="11" font-weight="bold" text-anchor="middle" fill="#000" >**</text>
<line x1="153.40" y1="1105.00" x2="168.80" y2="1105.00" stroke="#222" stroke-width="1.3" />
<rect x="158.50" y="1102.70" width="4.60" height="4.60" fill="#fff" stroke="#222" stroke-width="1.1"/>
<text x="171.20" y="1109.00" font-family="Liberation Sans" font-size="11" text-anchor="start" fill="#000" >C1498FFDsR</text>
<line x1="153.40" y1="1118.80" x2="168.80" y2="1118.80" stroke="#222" stroke-width="1.3" />
<path d="M160.80 1116.27L163.33 1120.87L158.27 1120.87Z" fill="#fff" stroke="#222" stroke-width="1.1"/>
<text x="171.20" y="1122.80" font-family="Liberation Sans" font-size="11" text-anchor="start" fill="#000" >IL-2DT</text>
<line x1="153.40" y1="1132.20" x2="168.80" y2="1132.20" stroke="#222" stroke-width="1.3" />
<path d="M160.80 1134.73L163.33 1130.13L158.27 1130.13Z" fill="#fff" stroke="#222" stroke-width="1.1"/>
<text x="171.20" y="1136.20" font-family="Liberation Sans" font-size="11" text-anchor="start" fill="#000" >CTL</text>
<line x1="153.40" y1="1145.40" x2="168.80" y2="1145.40" stroke="#222" stroke-width="1.3" />
<rect x="158.05" y="1142.65" width="5.50" height="5.50" fill="#000"/>
<text x="171.20" y="1149.40" font-family="Liberation Sans" font-size="11" text-anchor="start" fill="#000" >IL-2DT+CTL</text>
<line x1="339.00" y1="1209.60" x2="342.50" y2="1209.60" stroke="#000" stroke-width="1.4" />
<text x="338.50" y="1212.50" font-family="Liberation Sans" font-size="8" font-weight="bold" text-anchor="end" fill="#000" stroke="#000" stroke-width="0.25">0.0</text>
<line x1="339.00" y1="1187.52" x2="342.50" y2="1187.52" stroke="#000" stroke-width="1.4" />
<text x="338.50" y="1190.42" font-family="Liberation Sans" font-size="8" font-weight="bold" text-anchor="end" fill="#000" stroke="#000" stroke-width="0.25">0.2</text>
<line x1="339.00" y1="1165.44" x2="342.50" y2="1165.44" stroke="#000" stroke-width="1.4" />
<text x="338.50" y="1168.34" font-family="Liberation Sans" font-size="8" font-weight="bold" text-anchor="end" fill="#000" stroke="#000" stroke-width="0.25">0.4</text>
<line x1="339.00" y1="1143.36" x2="342.50" y2="1143.36" stroke="#000" stroke-width="1.4" />
<text x="338.50" y="1146.26" font-family="Liberation Sans" font-size="8" font-weight="bold" text-anchor="end" fill="#000" stroke="#000" stroke-width="0.25">0.6</text>
<line x1="339.00" y1="1121.28" x2="342.50" y2="1121.28" stroke="#000" stroke-width="1.4" />
<text x="338.50" y="1124.18" font-family="Liberation Sans" font-size="8" font-weight="bold" text-anchor="end" fill="#000" stroke="#000" stroke-width="0.25">0.8</text>
<line x1="339.00" y1="1099.20" x2="342.50" y2="1099.20" stroke="#000" stroke-width="1.4" />
<text x="338.50" y="1102.10" font-family="Liberation Sans" font-size="8" font-weight="bold" text-anchor="end" fill="#000" stroke="#000" stroke-width="0.25">1.0</text>
<line x1="342.50" y1="1209.60" x2="342.50" y2="1213.10" stroke="#000" stroke-width="1.4" />
<text x="342.50" y="1221.10" font-family="Liberation Sans" font-size="8" font-weight="bold" text-anchor="middle" fill="#000" stroke="#000" stroke-width="0.25">0</text>
<line x1="359.50" y1="1209.60" x2="359.50" y2="1213.10" stroke="#000" stroke-width="1.4" />
<text x="359.50" y="1221.10" font-family="Liberation Sans" font-size="8" font-weight="bold" text-anchor="middle" fill="#000" stroke="#000" stroke-width="0.25">10</text>
<line x1="376.50" y1="1209.60" x2="376.50" y2="1213.10" stroke="#000" stroke-width="1.4" />
<text x="376.50" y="1221.10" font-family="Liberation Sans" font-size="8" font-weight="bold" text-anchor="middle" fill="#000" stroke="#000" stroke-width="0.25">20</text>
<line x1="393.50" y1="1209.60" x2="393.50" y2="1213.10" stroke="#000" stroke-width="1.4" />
<text x="393.50" y="1221.10" font-family="Liberation Sans" font-size="8" font-weight="bold" text-anchor="middle" fill="#000" stroke="#000" stroke-width="0.25">30</text>
<line x1="410.50" y1="1209.60" x2="410.50" y2="1213.10" stroke="#000" stroke-width="1.4" />
<text x="410.50" y="1221.10" font-family="Liberation Sans" font-size="8" font-weight="bold" text-anchor="middle" fill="#000" stroke="#000" stroke-width="0.25">40</text>
<line x1="427.50" y1="1209.60" x2="427.50" y2="1213.10" stroke="#000" stroke-width="1.4" />
<text x="427.50" y="1221.10" font-family="Liberation Sans" font-size="8" font-weight="bold" text-anchor="middle" fill="#000" stroke="#000" stroke-width="0.25">50</text>
<line x1="444.50" y1="1209.60" x2="444.50" y2="1213.10" stroke="#000" stroke-width="1.4" />
<text x="444.50" y="1221.10" font-family="Liberation Sans" font-size="8" font-weight="bold" text-anchor="middle" fill="#000" stroke="#000" stroke-width="0.25">60</text>
<line x1="461.50" y1="1209.60" x2="461.50" y2="1213.10" stroke="#000" stroke-width="1.4" />
<text x="461.50" y="1221.10" font-family="Liberation Sans" font-size="8" font-weight="bold" text-anchor="middle" fill="#000" stroke="#000" stroke-width="0.25">70</text>
<line x1="478.50" y1="1209.60" x2="478.50" y2="1213.10" stroke="#000" stroke-width="1.4" />
<text x="478.50" y="1221.10" font-family="Liberation Sans" font-size="8" font-weight="bold" text-anchor="middle" fill="#000" stroke="#000" stroke-width="0.25">80</text>
<line x1="495.50" y1="1209.60" x2="495.50" y2="1213.10" stroke="#000" stroke-width="1.4" />
<text x="495.50" y="1221.10" font-family="Liberation Sans" font-size="8" font-weight="bold" text-anchor="middle" fill="#000" stroke="#000" stroke-width="0.25">90</text>
<line x1="512.50" y1="1209.60" x2="512.50" y2="1213.10" stroke="#000" stroke-width="1.4" />
<text x="512.50" y="1221.10" font-family="Liberation Sans" font-size="8" font-weight="bold" text-anchor="middle" fill="#000" stroke="#000" stroke-width="0.25">100</text>
<line x1="342.50" y1="1098.20" x2="342.50" y2="1210.60" stroke="#000" stroke-width="2" />
<line x1="339.00" y1="1209.60" x2="511.50" y2="1209.60" stroke="#000" stroke-width="2" />
<text x="322.00" y="1153.00" font-family="Liberation Sans" font-size="9.4" font-weight="bold" text-anchor="middle" fill="#000" transform="rotate(-90 322.0 1153)">Fraction survival</text>
<text x="426.70" y="1234.50" font-family="Liberation Sans" font-size="9.7" font-weight="bold" text-anchor="middle" fill="#000" >Days after C1498FF DsR injection</text>
<path d="M342.50 1099.20H502.50V1099.20" fill="none" stroke="#4a4a4a" stroke-width="1.2"/>
<path d="M383.30 1126.80H386.40V1168.20H388.20V1182.00H389.80V1209.60" fill="none" stroke="#222" stroke-width="1.2"/>
<path d="M371.2 1099.20V1187.52" fill="none" stroke="#555" stroke-width="1.0"/>
<path d="M382.9 1099.20V1126.80" fill="none" stroke="#555" stroke-width="1.3"/>
<path d="M369.9 1187.52V1209.60" fill="none" stroke="#777" stroke-width="1.0"/>
<path d="M371.4 1187.52V1209.60" fill="none" stroke="#666" stroke-width="1.0"/>
<path d="M372.9 1187.52V1209.60" fill="none" stroke="#666" stroke-width="1.0"/>
<path d="M502.50 1096.67L505.03 1101.27L499.97 1101.27Z" fill="#fff" stroke="#222" stroke-width="1.1"/>
<rect x="380.55" y="1124.05" width="5.50" height="5.50" fill="#000"/>
<rect x="383.65" y="1165.45" width="5.50" height="5.50" fill="#000"/>
<rect x="385.45" y="1179.25" width="5.50" height="5.50" fill="#000"/>
<rect x="387.45" y="1206.85" width="5.50" height="5.50" fill="#000"/>
<path d="M371.40 1190.05L373.93 1185.45L368.87 1185.45Z" fill="#fff" stroke="#222" stroke-width="1.1"/>
<rect x="369.10" y="1207.30" width="4.60" height="4.60" fill="#fff" stroke="#222" stroke-width="1.1"/>
<line x1="398.75" y1="1115.50" x2="414.50" y2="1115.50" stroke="#222" stroke-width="1.3" />
<rect x="403.50" y="1112.75" width="5.50" height="5.50" fill="#000"/>
<text x="416.25" y="1118.90" font-family="Liberation Sans" font-size="9.1" text-anchor="start" fill="#000" >naive C1498FFDsR</text>
<line x1="398.75" y1="1129.00" x2="414.50" y2="1129.00" stroke="#222" stroke-width="1.3" />
<path d="M406.25 1126.47L408.78 1131.07L403.72 1131.07Z" fill="#fff" stroke="#222" stroke-width="1.1"/>
<text x="416.25" y="1132.40" font-family="Liberation Sans" font-size="9.1" text-anchor="start" fill="#000" >survivor C1498FFDsR</text>
<line x1="398.75" y1="1142.50" x2="414.50" y2="1142.50" stroke="#222" stroke-width="1.3" />
<path d="M406.25 1145.03L408.78 1140.43L403.72 1140.43Z" fill="#fff" stroke="#222" stroke-width="1.1"/>
<text x="416.25" y="1145.90" font-family="Liberation Sans" font-size="9.1" text-anchor="start" fill="#000" >naive EL-4</text>
<line x1="398.75" y1="1156.00" x2="414.50" y2="1156.00" stroke="#222" stroke-width="1.3" />
<rect x="403.95" y="1153.70" width="4.60" height="4.60" fill="#fff" stroke="#222" stroke-width="1.1"/>
<text x="416.25" y="1159.40" font-family="Liberation Sans" font-size="9.1" text-anchor="start" fill="#000" >suvivor EL-4</text>
</svg></body></html>
